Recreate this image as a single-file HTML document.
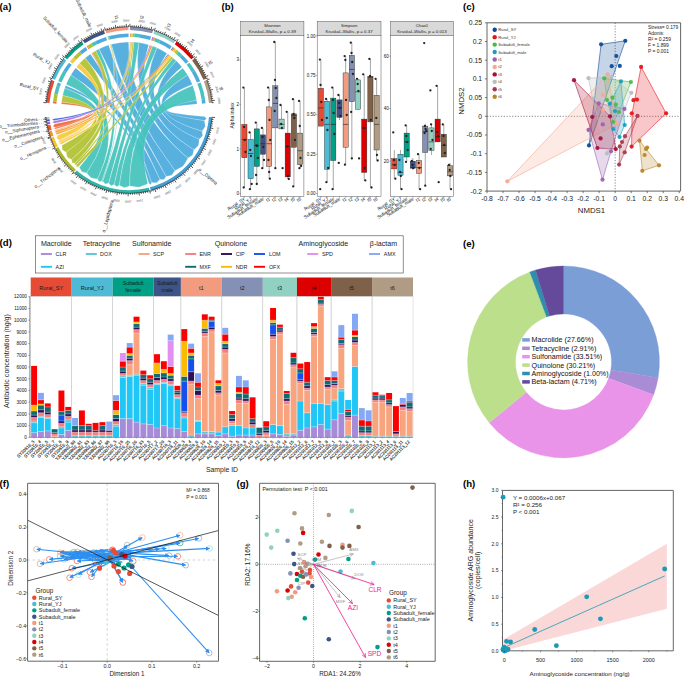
<!DOCTYPE html>
<html><head><meta charset="utf-8"><style>
html,body{margin:0;padding:0;background:#fff;}
svg{display:block;font-family:"Liberation Sans",sans-serif;}
</style></head><body>
<svg width="685" height="677" viewBox="0 0 685 677">
<rect width="685" height="677" fill="#fff"/>
<g id="pa">
<path d="M64.69 88.18A68.1 68.1 0 0 1 65.67 85.48Q129.2 110 151.68 182.5L151.5 182.95L151.33 183.4L151.15 183.85L150.97 184.29L150.79 184.74L150.4 184.46L150 184.18L149.62 183.89L149.23 183.6L148.84 183.31Q129.2 110 64.69 88.18Z" fill="#4EABDD" fill-opacity="0.94" stroke="#fff" stroke-opacity="0.75" stroke-width="0.3"/>
<path d="M70.8 74.97A68.1 68.1 0 0 1 75.68 67.89Q129.2 110 159.95 179.39L159.29 180.1L158.62 180.79L157.93 181.48L157.23 182.17L156.52 182.84L155.54 182.8L154.57 182.74L153.6 182.67L152.63 182.59L151.68 182.5Q129.2 110 70.8 74.97Z" fill="#4EABDD" fill-opacity="0.94" stroke="#fff" stroke-opacity="0.75" stroke-width="0.3"/>
<path d="M85.12 58.09A68.1 68.1 0 0 1 90.43 54.01Q129.2 110 166.1 176.33L165.68 176.99L165.25 177.65L164.81 178.32L164.36 178.97L163.91 179.63L163.11 179.6L162.31 179.56L161.52 179.51L160.73 179.46L159.95 179.39Q129.2 110 85.12 58.09Z" fill="#4EABDD" fill-opacity="0.94" stroke="#fff" stroke-opacity="0.75" stroke-width="0.3"/>
<path d="M99.03 48.95A68.1 68.1 0 0 1 108.61 45.09Q129.2 110 174.98 170.54L174.36 171.48L173.71 172.41L173.05 173.34L172.37 174.26L171.68 175.18L170.56 175.45L169.44 175.69L168.33 175.92L167.21 176.13L166.1 176.33Q129.2 110 99.03 48.95Z" fill="#4EABDD" fill-opacity="0.94" stroke="#fff" stroke-opacity="0.75" stroke-width="0.3"/>
<path d="M111.22 44.32A68.1 68.1 0 0 1 128.61 41.9Q129.2 110 187.97 158.03L187.1 159.66L186.18 161.28L185.22 162.89L184.21 164.47L183.17 166.04L181.56 167.03L179.94 167.97L178.3 168.87L176.65 169.73L174.98 170.54Q129.2 110 111.22 44.32Z" fill="#4EABDD" fill-opacity="0.94" stroke="#fff" stroke-opacity="0.75" stroke-width="0.3"/>
<path d="M138.95 42.6A68.1 68.1 0 0 1 148.66 44.74Q129.2 110 193.88 149.71L193.66 150.78L193.43 151.85L193.17 152.92L192.9 154L192.61 155.07L191.7 155.7L190.77 156.3L189.84 156.9L188.91 157.47L187.97 158.03Q129.2 110 138.95 42.6Z" fill="#4EABDD" fill-opacity="0.94" stroke="#fff" stroke-opacity="0.75" stroke-width="0.3"/>
<path d="M156.94 47.81A68.1 68.1 0 0 1 166.98 53.34Q129.2 110 199.25 139.23L199.13 140.46L199 141.7L198.84 142.95L198.66 144.19L198.46 145.44L197.57 146.33L196.66 147.21L195.74 148.06L194.82 148.89L193.88 149.71Q129.2 110 156.94 47.81Z" fill="#4EABDD" fill-opacity="0.94" stroke="#fff" stroke-opacity="0.75" stroke-width="0.3"/>
<path d="M176.26 60.78A68.1 68.1 0 0 1 181.97 66.96Q129.2 110 202.11 131.08L202.23 132.02L202.34 132.96L202.44 133.91L202.52 134.86L202.59 135.82L201.93 136.53L201.27 137.22L200.6 137.9L199.93 138.57L199.25 139.23Q129.2 110 176.26 60.78Z" fill="#4EABDD" fill-opacity="0.94" stroke="#fff" stroke-opacity="0.75" stroke-width="0.3"/>
<path d="M187.6 74.97A68.1 68.1 0 0 1 192.3 84.38Q129.2 110 204.37 120.52L204.59 121.65L204.79 122.78L204.97 123.92L205.14 125.08L205.29 126.23L204.68 127.23L204.06 128.21L203.42 129.18L202.77 130.14L202.11 131.08Q129.2 110 187.6 74.97Z" fill="#4EABDD" fill-opacity="0.94" stroke="#fff" stroke-opacity="0.75" stroke-width="0.3"/>
<path d="M196.6 100.26A68.1 68.1 0 0 1 197.04 104.06Q129.2 110 204.81 116.62L205.15 117.04L205.5 117.47L205.83 117.91L206.17 118.34L206.5 118.78L206.08 119.14L205.65 119.49L205.23 119.84L204.8 120.18L204.37 120.52Q129.2 110 196.6 100.26Z" fill="#4EABDD" fill-opacity="0.94" stroke="#fff" stroke-opacity="0.75" stroke-width="0.3"/>
<path d="M62.65 95.56A68.1 68.1 0 0 1 64.69 88.18Q129.2 110 86.7 172.88L85.72 172.67L84.74 172.45L83.77 172.22L82.79 171.97L81.81 171.7L81.3 170.82L80.8 169.94L80.32 169.06L79.86 168.17L79.41 167.28Q129.2 110 62.65 95.56Z" fill="#46C3BC" fill-opacity="0.94" stroke="#fff" stroke-opacity="0.75" stroke-width="0.3"/>
<path d="M66.1 84.38A68.1 68.1 0 0 1 70.8 74.97Q129.2 110 97.71 179.06L96.4 178.87L95.09 178.65L93.78 178.41L92.46 178.15L91.15 177.86L90.21 176.89L89.3 175.9L88.41 174.91L87.54 173.9L86.7 172.88Q129.2 110 66.1 84.38Z" fill="#46C3BC" fill-opacity="0.94" stroke="#fff" stroke-opacity="0.75" stroke-width="0.3"/>
<path d="M95.65 50.74A68.1 68.1 0 0 1 99.03 48.95Q129.2 110 101.95 180.84L101.39 181.03L100.82 181.21L100.24 181.39L99.66 181.56L99.08 181.73L98.8 181.2L98.52 180.67L98.25 180.13L97.98 179.6L97.71 179.06Q129.2 110 95.65 50.74Z" fill="#46C3BC" fill-opacity="0.94" stroke="#fff" stroke-opacity="0.75" stroke-width="0.3"/>
<path d="M110.48 44.52A68.1 68.1 0 0 1 111.22 44.32Q129.2 110 102.81 181.17L102.59 181.49L102.38 181.81L102.15 182.14L101.93 182.46L101.71 182.78L101.76 182.39L101.81 182L101.85 181.62L101.9 181.23L101.95 180.84Q129.2 110 110.48 44.52Z" fill="#46C3BC" fill-opacity="0.94" stroke="#fff" stroke-opacity="0.75" stroke-width="0.3"/>
<path d="M133.81 42.06A68.1 68.1 0 0 1 138.95 42.6Q129.2 110 108.72 183.08L108.01 183.28L107.31 183.47L106.6 183.65L105.88 183.82L105.16 183.99L104.67 183.43L104.2 182.87L103.73 182.3L103.27 181.74L102.81 181.17Q129.2 110 133.81 42.06Z" fill="#46C3BC" fill-opacity="0.94" stroke="#fff" stroke-opacity="0.75" stroke-width="0.3"/>
<path d="M152.51 46.01A68.1 68.1 0 0 1 156.94 47.81Q129.2 110 114.31 184.42L113.66 184.68L113.02 184.93L112.37 185.18L111.71 185.42L111.06 185.65L110.57 185.15L110.1 184.63L109.63 184.12L109.17 183.6L108.72 183.08Q129.2 110 152.51 46.01Z" fill="#46C3BC" fill-opacity="0.94" stroke="#fff" stroke-opacity="0.75" stroke-width="0.3"/>
<path d="M173.13 57.97A68.1 68.1 0 0 1 176.26 60.78Q129.2 110 119.3 185.25L118.74 185.56L118.18 185.86L117.62 186.16L117.05 186.46L116.48 186.75L116.04 186.29L115.6 185.83L115.16 185.36L114.73 184.89L114.31 184.42Q129.2 110 173.13 57.97Z" fill="#46C3BC" fill-opacity="0.94" stroke="#fff" stroke-opacity="0.75" stroke-width="0.3"/>
<path d="M182.72 67.89A68.1 68.1 0 0 1 187.6 74.97Q129.2 110 129.61 185.9L128.58 186.28L127.53 186.64L126.47 186.99L125.4 187.33L124.33 187.65L123.3 187.19L122.28 186.73L121.27 186.25L120.28 185.76L119.3 185.25Q129.2 110 182.72 67.89Z" fill="#46C3BC" fill-opacity="0.94" stroke="#fff" stroke-opacity="0.75" stroke-width="0.3"/>
<path d="M192.73 85.48A68.1 68.1 0 0 1 196.6 100.26Q129.2 110 147.82 183.58L146.11 184.38L144.38 185.14L142.62 185.86L140.84 186.54L139.03 187.18L137.12 187.01L135.22 186.8L133.33 186.55L131.47 186.25L129.61 185.9Q129.2 110 192.73 85.48Z" fill="#46C3BC" fill-opacity="0.94" stroke="#fff" stroke-opacity="0.75" stroke-width="0.3"/>
<path d="M61.55 102.16A68.1 68.1 0 0 1 62.65 95.56Q129.2 110 66.1 152.18L65.33 151.71L64.57 151.22L63.8 150.73L63.05 150.22L62.29 149.7L62.2 148.79L62.11 147.88L62.04 146.97L61.98 146.07L61.94 145.16Q129.2 110 61.55 102.16Z" fill="#B2C233" fill-opacity="0.94" stroke="#fff" stroke-opacity="0.75" stroke-width="0.3"/>
<path d="M79.58 63.36A68.1 68.1 0 0 1 85.12 58.09Q129.2 110 71.75 159.6L70.85 159.13L69.96 158.65L69.07 158.16L68.18 157.65L67.3 157.13L67.03 156.14L66.77 155.15L66.54 154.16L66.31 153.17L66.1 152.18Q129.2 110 79.58 63.36Z" fill="#B2C233" fill-opacity="0.94" stroke="#fff" stroke-opacity="0.75" stroke-width="0.3"/>
<path d="M92.05 52.92A68.1 68.1 0 0 1 95.65 50.74Q129.2 110 75.23 163.37L74.6 163.27L73.97 163.16L73.33 163.05L72.7 162.93L72.06 162.8L71.99 162.16L71.92 161.52L71.86 160.88L71.8 160.24L71.75 159.6Q129.2 110 92.05 52.92Z" fill="#B2C233" fill-opacity="0.94" stroke="#fff" stroke-opacity="0.75" stroke-width="0.3"/>
<path d="M132.28 41.97A68.1 68.1 0 0 1 133.81 42.06Q129.2 110 76.56 164.68L76.16 164.82L75.76 164.96L75.36 165.1L74.96 165.24L74.56 165.38L74.69 164.97L74.82 164.57L74.96 164.17L75.09 163.77L75.23 163.37Q129.2 110 132.28 41.97Z" fill="#B2C233" fill-opacity="0.94" stroke="#fff" stroke-opacity="0.75" stroke-width="0.3"/>
<path d="M171.35 56.51A68.1 68.1 0 0 1 173.13 57.97Q129.2 110 78.61 166.58L78.15 166.68L77.68 166.77L77.22 166.86L76.75 166.95L76.28 167.03L76.33 166.56L76.39 166.09L76.44 165.62L76.5 165.15L76.56 164.68Q129.2 110 171.35 56.51Z" fill="#B2C233" fill-opacity="0.94" stroke="#fff" stroke-opacity="0.75" stroke-width="0.3"/>
<path d="M76.43 66.96A68.1 68.1 0 0 1 79.58 63.36Q129.2 110 59.54 140.13L58.98 139.79L58.42 139.45L57.87 139.1L57.31 138.74L56.76 138.38L56.92 137.74L57.08 137.1L57.25 136.47L57.43 135.84L57.61 135.21Q129.2 110 76.43 66.96Z" fill="#F8CA3C" fill-opacity="0.94" stroke="#fff" stroke-opacity="0.75" stroke-width="0.3"/>
<path d="M109.74 44.74A68.1 68.1 0 0 1 110.48 44.52Q129.2 110 59.88 140.9L59.5 140.98L59.11 141.06L58.73 141.13L58.35 141.21L57.97 141.28L58.28 141.05L58.59 140.82L58.91 140.59L59.22 140.36L59.54 140.13Q129.2 110 109.74 44.74Z" fill="#F8CA3C" fill-opacity="0.94" stroke="#fff" stroke-opacity="0.75" stroke-width="0.3"/>
<path d="M130.75 41.92A68.1 68.1 0 0 1 132.28 41.97Q129.2 110 60.58 142.44L60.17 142.45L59.75 142.46L59.33 142.46L58.92 142.47L58.5 142.47L58.77 142.15L59.05 141.84L59.32 141.53L59.6 141.21L59.88 140.9Q129.2 110 130.75 41.92Z" fill="#F8CA3C" fill-opacity="0.94" stroke="#fff" stroke-opacity="0.75" stroke-width="0.3"/>
<path d="M169.83 55.35A68.1 68.1 0 0 1 171.35 56.51Q129.2 110 61.51 144.34L61.08 144.32L60.64 144.3L60.21 144.28L59.77 144.26L59.33 144.23L59.58 143.87L59.83 143.51L60.08 143.15L60.33 142.8L60.58 142.44Q129.2 110 169.83 55.35Z" fill="#F8CA3C" fill-opacity="0.94" stroke="#fff" stroke-opacity="0.75" stroke-width="0.3"/>
<path d="M129.79 41.9A68.1 68.1 0 0 1 130.75 41.92Q129.2 110 56.18 130.7L55.78 130.7L55.39 130.69L54.99 130.69L54.59 130.68L54.2 130.68L54.53 130.47L54.87 130.26L55.21 130.05L55.55 129.85L55.89 129.64Q129.2 110 129.79 41.9Z" fill="#F59E2E" fill-opacity="0.94" stroke="#fff" stroke-opacity="0.75" stroke-width="0.3"/>
<path d="M150.7 45.38A68.1 68.1 0 0 1 152.51 46.01Q129.2 110 56.8 132.8L56.38 132.7L55.95 132.6L55.52 132.5L55.09 132.4L54.66 132.29L54.96 131.97L55.26 131.65L55.57 131.33L55.87 131.01L56.18 130.7Q129.2 110 150.7 45.38Z" fill="#F59E2E" fill-opacity="0.94" stroke="#fff" stroke-opacity="0.75" stroke-width="0.3"/>
<path d="M168.59 54.45A68.1 68.1 0 0 1 169.83 55.35Q129.2 110 57.35 134.46L56.93 134.42L56.52 134.37L56.1 134.32L55.68 134.27L55.27 134.22L55.57 133.93L55.88 133.65L56.19 133.36L56.49 133.08L56.8 132.8Q129.2 110 168.59 54.45Z" fill="#F59E2E" fill-opacity="0.94" stroke="#fff" stroke-opacity="0.75" stroke-width="0.3"/>
<path d="M61.36 104.06A68.1 68.1 0 0 1 61.55 102.16Q129.2 110 55.34 127.48L54.89 127.21L54.44 126.95L53.99 126.67L53.54 126.4L53.09 126.12L53.38 125.68L53.68 125.25L53.99 124.81L54.29 124.39L54.6 123.96Q129.2 110 61.36 104.06Z" fill="#F0673A" fill-opacity="0.94" stroke="#fff" stroke-opacity="0.75" stroke-width="0.3"/>
<path d="M91.42 53.34A68.1 68.1 0 0 1 92.05 52.92Q129.2 110 55.68 128.88L55.28 128.83L54.88 128.78L54.47 128.73L54.07 128.68L53.66 128.63L54 128.4L54.33 128.17L54.67 127.94L55 127.71L55.34 127.48Q129.2 110 91.42 53.34Z" fill="#F0673A" fill-opacity="0.94" stroke="#fff" stroke-opacity="0.75" stroke-width="0.3"/>
<path d="M149.79 45.09A68.1 68.1 0 0 1 150.7 45.38Q129.2 110 54.45 123.18L54.04 123.04L53.63 122.89L53.22 122.74L52.81 122.59L52.4 122.44L52.74 122.16L53.08 121.89L53.43 121.62L53.77 121.35L54.11 121.09Q129.2 110 149.79 45.09Z" fill="#A46BE0" fill-opacity="0.94" stroke="#fff" stroke-opacity="0.75" stroke-width="0.3"/>
<path d="M167.97 54.01A68.1 68.1 0 0 1 168.59 54.45Q129.2 110 54.02 120.43L53.62 120.31L53.22 120.19L52.82 120.07L52.42 119.94L52.02 119.82L52.38 119.6L52.73 119.38L53.09 119.16L53.45 118.94L53.8 118.72Q129.2 110 167.97 54.01Z" fill="#3462D6" fill-opacity="0.94" stroke="#fff" stroke-opacity="0.75" stroke-width="0.3"/>
<path d="M52.89 103.32A76.6 76.6 0 0 1 53.11 101.18L56.59 101.59A73.1 73.1 0 0 0 56.38 103.63Z" fill="#F0673A"/>
<path d="M53.11 101.18A76.6 76.6 0 0 1 54.34 93.75L57.76 94.5A73.1 73.1 0 0 0 56.59 101.59Z" fill="#B2C233"/>
<path d="M54.34 93.75A76.6 76.6 0 0 1 56.64 85.46L59.95 86.58A73.1 73.1 0 0 0 57.76 94.5Z" fill="#46C3BC"/>
<path d="M56.64 85.46A76.6 76.6 0 0 1 57.74 82.42L61 83.68A73.1 73.1 0 0 0 59.95 86.58Z" fill="#4EABDD"/>
<path d="M58.23 81.18A76.6 76.6 0 0 1 63.51 70.6L66.51 72.4A73.1 73.1 0 0 0 61.47 82.5Z" fill="#46C3BC"/>
<path d="M63.51 70.6A76.6 76.6 0 0 1 69 62.63L71.75 64.79A73.1 73.1 0 0 0 66.51 72.4Z" fill="#4EABDD"/>
<path d="M69.84 61.59A76.6 76.6 0 0 1 73.38 57.54L75.93 59.94A73.1 73.1 0 0 0 72.55 63.8Z" fill="#F8CA3C"/>
<path d="M73.38 57.54A76.6 76.6 0 0 1 79.62 51.61L81.89 54.28A73.1 73.1 0 0 0 75.93 59.94Z" fill="#B2C233"/>
<path d="M79.62 51.61A76.6 76.6 0 0 1 85.59 47.02L87.59 49.9A73.1 73.1 0 0 0 81.89 54.28Z" fill="#4EABDD"/>
<path d="M86.7 46.27A76.6 76.6 0 0 1 87.42 45.8L89.33 48.73A73.1 73.1 0 0 0 88.64 49.18Z" fill="#F0673A"/>
<path d="M87.42 45.8A76.6 76.6 0 0 1 91.46 43.34L93.19 46.39A73.1 73.1 0 0 0 89.33 48.73Z" fill="#B2C233"/>
<path d="M91.46 43.34A76.6 76.6 0 0 1 95.27 41.33L96.82 44.46A73.1 73.1 0 0 0 93.19 46.39Z" fill="#46C3BC"/>
<path d="M95.27 41.33A76.6 76.6 0 0 1 106.04 36.99L107.1 40.32A73.1 73.1 0 0 0 96.82 44.46Z" fill="#4EABDD"/>
<path d="M107.32 36.59A76.6 76.6 0 0 1 108.14 36.35L109.1 39.72A73.1 73.1 0 0 0 108.32 39.95Z" fill="#F8CA3C"/>
<path d="M108.14 36.35A76.6 76.6 0 0 1 108.97 36.12L109.9 39.49A73.1 73.1 0 0 0 109.1 39.72Z" fill="#46C3BC"/>
<path d="M108.97 36.12A76.6 76.6 0 0 1 128.53 33.4L128.56 36.9A73.1 73.1 0 0 0 109.9 39.49Z" fill="#4EABDD"/>
<path d="M129.87 33.4A76.6 76.6 0 0 1 130.94 33.42L130.86 36.92A73.1 73.1 0 0 0 129.84 36.9Z" fill="#F59E2E"/>
<path d="M130.94 33.42A76.6 76.6 0 0 1 132.67 33.48L132.51 36.97A73.1 73.1 0 0 0 130.86 36.92Z" fill="#F8CA3C"/>
<path d="M132.67 33.48A76.6 76.6 0 0 1 134.38 33.58L134.15 37.07A73.1 73.1 0 0 0 132.51 36.97Z" fill="#B2C233"/>
<path d="M134.38 33.58A76.6 76.6 0 0 1 140.16 34.19L139.66 37.65A73.1 73.1 0 0 0 134.15 37.07Z" fill="#46C3BC"/>
<path d="M140.16 34.19A76.6 76.6 0 0 1 151.08 36.59L150.08 39.95A73.1 73.1 0 0 0 139.66 37.65Z" fill="#4EABDD"/>
<path d="M152.36 36.99A76.6 76.6 0 0 1 153.39 37.32L152.28 40.64A73.1 73.1 0 0 0 151.3 40.32Z" fill="#A46BE0"/>
<path d="M153.39 37.32A76.6 76.6 0 0 1 155.42 38.03L154.22 41.32A73.1 73.1 0 0 0 152.28 40.64Z" fill="#F59E2E"/>
<path d="M155.42 38.03A76.6 76.6 0 0 1 160.4 40.04L158.98 43.24A73.1 73.1 0 0 0 154.22 41.32Z" fill="#46C3BC"/>
<path d="M160.4 40.04A76.6 76.6 0 0 1 171.7 46.27L169.76 49.18A73.1 73.1 0 0 0 158.98 43.24Z" fill="#4EABDD"/>
<path d="M172.81 47.02A76.6 76.6 0 0 1 173.51 47.52L171.49 50.37A73.1 73.1 0 0 0 170.81 49.9Z" fill="#3462D6"/>
<path d="M173.51 47.52A76.6 76.6 0 0 1 174.91 48.53L172.82 51.34A73.1 73.1 0 0 0 171.49 50.37Z" fill="#F59E2E"/>
<path d="M174.91 48.53A76.6 76.6 0 0 1 176.61 49.84L174.45 52.59A73.1 73.1 0 0 0 172.82 51.34Z" fill="#F8CA3C"/>
<path d="M176.61 49.84A76.6 76.6 0 0 1 178.62 51.47L176.36 54.15A73.1 73.1 0 0 0 174.45 52.59Z" fill="#B2C233"/>
<path d="M178.62 51.47A76.6 76.6 0 0 1 182.14 54.64L179.72 57.17A73.1 73.1 0 0 0 176.36 54.15Z" fill="#46C3BC"/>
<path d="M182.14 54.64A76.6 76.6 0 0 1 188.56 61.59L185.85 63.8A73.1 73.1 0 0 0 179.72 57.17Z" fill="#4EABDD"/>
<path d="M189.4 62.63A76.6 76.6 0 0 1 194.89 70.6L191.89 72.4A73.1 73.1 0 0 0 186.65 64.79Z" fill="#46C3BC"/>
<path d="M194.89 70.6A76.6 76.6 0 0 1 200.17 81.18L196.93 82.5A73.1 73.1 0 0 0 191.89 72.4Z" fill="#4EABDD"/>
<path d="M200.66 82.42A76.6 76.6 0 0 1 205.01 99.05L201.55 99.55A73.1 73.1 0 0 0 197.4 83.68Z" fill="#46C3BC"/>
<path d="M205.01 99.05A76.6 76.6 0 0 1 205.51 103.32L202.02 103.63A73.1 73.1 0 0 0 201.55 99.55Z" fill="#4EABDD"/>
<path d="M46.32 102.75A83.2 83.2 0 0 1 51.58 80.05L54.47 81.16A80.1 80.1 0 0 0 49.4 103.02Z" fill="#E64B35"/>
<path d="M52.11 78.7A83.2 83.2 0 0 1 63.82 58.55L66.25 60.47A80.1 80.1 0 0 0 54.99 79.86Z" fill="#4DBBD5"/>
<path d="M64.72 57.42A83.2 83.2 0 0 1 81.84 41.6L83.6 44.15A80.1 80.1 0 0 0 67.13 59.37Z" fill="#00A087"/>
<path d="M83.04 40.78A83.2 83.2 0 0 1 104.04 30.69L104.98 33.65A80.1 80.1 0 0 0 84.76 43.36Z" fill="#3C5488"/>
<path d="M105.43 30.27A83.2 83.2 0 0 1 128.47 26.8L128.5 29.9A80.1 80.1 0 0 0 106.32 33.24Z" fill="#F39B7F"/>
<path d="M129.93 26.8A83.2 83.2 0 0 1 152.97 30.27L152.08 33.24A80.1 80.1 0 0 0 129.9 29.9Z" fill="#8491B4"/>
<path d="M154.36 30.69A83.2 83.2 0 0 1 175.36 40.78L173.64 43.36A80.1 80.1 0 0 0 153.42 33.65Z" fill="#91D1C2"/>
<path d="M176.56 41.6A83.2 83.2 0 0 1 193.68 57.42L191.27 59.37A80.1 80.1 0 0 0 174.8 44.15Z" fill="#DC0000"/>
<path d="M194.58 58.55A83.2 83.2 0 0 1 206.29 78.7L203.41 79.86A80.1 80.1 0 0 0 192.15 60.47Z" fill="#7E6148"/>
<path d="M206.82 80.05A83.2 83.2 0 0 1 212.08 102.75L209 103.02A80.1 80.1 0 0 0 203.93 81.16Z" fill="#B09C85"/>
<path d="M212.08 117.25A83.2 83.2 0 0 1 150.73 190.37L149.93 187.37A80.1 80.1 0 0 0 209 116.98Z" fill="#3F9FD6"/>
<path d="M149.61 190.66A83.2 83.2 0 0 1 74.62 172.79L76.65 170.45A80.1 80.1 0 0 0 148.85 187.65Z" fill="#2FB5A7"/>
<path d="M73.74 172.02A83.2 83.2 0 0 1 55.47 148.55L58.22 147.11A80.1 80.1 0 0 0 75.81 169.71Z" fill="#AAB92A"/>
<path d="M55 147.64A83.2 83.2 0 0 1 50.72 137.64L53.65 136.61A80.1 80.1 0 0 0 57.77 146.24Z" fill="#F6C234"/>
<path d="M50.44 136.81A83.2 83.2 0 0 1 48.83 131.53L51.83 130.73A80.1 80.1 0 0 0 53.37 135.81Z" fill="#F39324"/>
<path d="M48.61 130.69A83.2 83.2 0 0 1 47.42 125.3L50.47 124.73A80.1 80.1 0 0 0 51.62 129.92Z" fill="#EE5A2C"/>
<path d="M47.26 124.45A83.2 83.2 0 0 1 46.89 122.15L49.96 121.7A80.1 80.1 0 0 0 50.32 123.91Z" fill="#9A5EDC"/>
<path d="M46.79 121.44A83.2 83.2 0 0 1 46.55 119.56L49.63 119.21A80.1 80.1 0 0 0 49.86 121.01Z" fill="#2B55D0"/>
<path d="M46.47 118.84A83.2 83.2 0 0 1 46.34 117.54L49.43 117.26A80.1 80.1 0 0 0 49.55 118.51Z" fill="#9A9A9A"/>
<path d="M46.32 102.75L43.33 102.49M46.53 100.63L44.94 100.45M46.8 98.53L45.21 98.3M47.12 96.42L45.54 96.16M47.49 94.33L45.92 94.03M47.92 92.25L44.98 91.61M48.4 90.18L46.84 89.8M48.93 88.12L47.38 87.7M49.51 86.08L47.98 85.62M50.15 84.05L48.63 83.55M50.84 82.04L48.01 81.03M51.58 80.05L50.09 79.47M52.11 78.7L49.33 77.57M52.94 76.74L51.47 76.1M53.81 74.8L52.36 74.13M54.74 72.89L53.3 72.17M55.71 71L54.29 70.25M56.73 69.13L54.11 67.66M57.8 67.3L56.42 66.47M58.91 65.49L57.56 64.63M60.07 63.71L58.74 62.81M61.27 61.95L59.97 61.03M62.52 60.24L60.12 58.44M63.82 58.55L62.56 57.56M64.72 57.42L62.4 55.52M66.09 55.79L64.88 54.74M67.49 54.19L66.31 53.12M68.94 52.63L67.78 51.53M70.42 51.11L69.29 49.98M71.95 49.63L69.88 47.45M73.51 48.19L72.44 47M75.11 46.79L74.07 45.57M76.74 45.42L75.73 44.18M78.4 44.11L77.43 42.84M80.1 42.83L78.33 40.41M81.84 41.6L80.93 40.28M83.04 40.78L81.37 38.29M84.82 39.62L83.97 38.27M86.63 38.51L85.81 37.14M88.47 37.45L87.69 36.06M90.34 36.43L89.59 35.02M92.23 35.47L90.9 32.78M94.15 34.55L93.47 33.09M96.08 33.67L95.45 32.21M98.04 32.85L97.45 31.37M100.03 32.08L99.46 30.58M102.03 31.36L101.05 28.53M104.04 30.69L103.56 29.17M105.43 30.27L104.57 27.39M107.48 29.69L107.06 28.14M109.53 29.16L109.16 27.6M111.6 28.68L111.27 27.12M113.69 28.26L113.39 26.69M115.78 27.89L115.3 24.93M117.88 27.57L117.66 25.99M119.99 27.31L119.81 25.72M122.11 27.1L121.97 25.51M124.23 26.95L124.13 25.35M126.35 26.85L126.25 23.85M128.47 26.8L128.46 25.2M129.93 26.8L129.95 23.8M132.05 26.85L132.11 25.25M134.17 26.95L134.27 25.35M136.29 27.1L136.43 25.51M138.41 27.31L138.59 25.72M140.52 27.57L140.93 24.6M142.62 27.89L142.88 26.31M144.71 28.26L145.01 26.69M146.8 28.68L147.13 27.12M148.87 29.16L149.24 27.6M150.92 29.69L151.71 26.79M152.97 30.27L153.43 28.73M154.36 30.69L155.26 27.83M156.37 31.36L156.9 29.85M158.37 32.08L158.94 30.58M160.36 32.85L160.95 31.37M162.32 33.67L162.95 32.21M164.25 34.55L165.52 31.82M166.17 35.47L166.88 34.03M168.06 36.43L168.81 35.02M169.93 37.45L170.71 36.06M171.77 38.51L172.59 37.14M173.58 39.62L175.18 37.09M175.36 40.78L176.25 39.45M176.56 41.6L178.27 39.13M178.3 42.83L179.24 41.54M180 44.11L180.97 42.84M181.66 45.42L182.67 44.18M183.29 46.79L184.33 45.57M184.89 48.19L186.9 45.96M186.45 49.63L187.55 48.47M187.98 51.11L189.11 49.98M189.46 52.63L190.62 51.53M190.91 54.19L192.09 53.12M192.31 55.79L194.59 53.83M193.68 57.42L194.92 56.4M194.58 58.55L196.94 56.69M195.88 60.24L197.16 59.28M197.13 61.95L198.43 61.03M198.33 63.71L199.66 62.81M199.49 65.49L200.84 64.63M200.6 67.3L203.18 65.76M201.67 69.13L203.07 68.35M202.69 71L204.11 70.25M203.66 72.89L205.1 72.17M204.59 74.8L206.04 74.13M205.46 76.74L208.21 75.54M206.29 78.7L207.77 78.1M206.82 80.05L209.62 78.97M207.56 82.04L209.07 81.5M208.25 84.05L209.77 83.55M208.89 86.08L210.42 85.62M209.47 88.12L211.02 87.7M210 90.18L212.92 89.46M210.48 92.25L212.05 91.91M210.91 94.33L212.48 94.03M211.28 96.42L212.86 96.16M211.6 98.53L213.19 98.3M211.87 100.63L214.85 100.3M212.08 102.75L213.68 102.61M212.08 117.25L215.07 117.51M211.87 119.4L213.46 119.58M211.59 121.55L213.18 121.77M211.27 123.69L212.84 123.95M210.88 125.81L212.45 126.12M210.44 127.93L213.37 128.58M209.95 130.04L211.5 130.42M209.4 132.13L210.95 132.56M208.8 134.21L210.33 134.67M208.14 136.27L209.66 136.77M207.44 138.31L210.26 139.33M206.67 140.33L208.16 140.92M205.86 142.34L207.33 142.96M204.99 144.32L206.45 144.98M204.07 146.28L205.51 146.98M203.11 148.21L205.77 149.59M202.09 150.12L203.49 150.89M201.02 152L202.4 152.81M199.9 153.85L201.26 154.7M198.74 155.68L200.08 156.55M197.53 157.47L199.99 159.18M196.27 159.23L197.56 160.17M194.97 160.95L196.24 161.93M193.62 162.65L194.86 163.66M192.23 164.3L193.45 165.35M190.8 165.92L193.02 167.94M189.33 167.51L190.48 168.61M187.81 169.05L188.94 170.18M186.26 170.55L187.36 171.72M184.66 172.02L185.73 173.21M183.03 173.44L184.98 175.72M181.37 174.81L182.37 176.06M179.66 176.15L180.64 177.42M177.93 177.44L178.87 178.73M176.16 178.68L177.06 180M174.36 179.88L175.99 182.4M172.53 181.03L173.36 182.39M170.67 182.13L171.46 183.52M168.78 183.18L169.54 184.59M166.86 184.19L167.59 185.61M164.92 185.14L166.21 187.85M162.96 186.04L163.6 187.51M160.97 186.9L161.58 188.38M158.96 187.7L159.53 189.19M156.93 188.44L157.46 189.95M154.88 189.14L155.81 191.99M152.82 189.78L153.27 191.31M150.73 190.37L151.15 191.91M149.61 190.66L150.35 193.57M147.5 191.16L147.85 192.72M145.38 191.61L145.69 193.18M143.25 192L143.52 193.58M141.11 192.34L141.34 193.93M138.97 192.62L139.32 195.6M136.81 192.85L136.96 194.44M134.65 193.02L134.76 194.62M132.49 193.14L132.55 194.73M130.32 193.19L130.34 194.79M128.16 193.19L128.12 196.19M125.99 193.14L125.93 194.74M123.83 193.03L123.72 194.62M121.67 192.86L121.52 194.45M119.51 192.63L119.33 194.22M117.36 192.35L116.94 195.32M115.22 192.02L114.96 193.6M113.09 191.63L112.78 193.2M110.97 191.18L110.62 192.74M108.87 190.68L108.48 192.23M106.77 190.12L105.96 193.01M104.69 189.51L104.22 191.04M102.63 188.84L102.12 190.36M100.59 188.13L100.04 189.63M98.56 187.35L97.98 188.84M96.56 186.53L95.38 189.29M94.58 185.65L93.91 187.11M92.62 184.73L91.92 186.17M90.69 183.75L89.95 185.17M88.78 182.72L88 184.12M86.9 181.65L85.38 184.23M85.05 180.52L84.2 181.88M83.23 179.35L82.35 180.68M81.44 178.13L80.52 179.44M79.68 176.86L78.73 178.15M77.96 175.55L76.11 177.91M76.27 174.19L75.25 175.43M74.62 172.79L73.57 174M73.74 172.02L71.74 174.26M72.17 170.58L71.07 171.74M70.63 169.09L69.51 170.23M69.14 167.57L67.98 168.68M67.68 166.01L66.49 167.09M66.26 164.41L63.99 166.37M64.88 162.78L63.65 163.79M63.55 161.11L62.29 162.09M62.26 159.41L60.97 160.36M61.01 157.67L59.7 158.59M59.81 155.9L57.31 157.56M58.65 154.11L57.3 154.96M57.54 152.28L56.17 153.09M56.48 150.43L55.08 151.2M55.47 148.55L54.05 149.29M55 147.64L52.33 149M54.04 145.69L52.6 146.37M53.13 143.71L51.67 144.36M52.28 141.71L50.8 142.31M51.47 139.68L49.98 140.25M50.72 137.64L47.89 138.63M50.44 136.81L47.6 137.78M49.87 135.06L48.34 135.55M49.33 133.31L47.79 133.75M48.83 131.53L47.29 131.95M48.61 130.69L45.71 131.44M48.18 128.9L46.62 129.27M47.78 127.11L46.21 127.44M47.42 125.3L45.85 125.6M47.26 124.45L44.31 124.97M46.89 122.15L45.31 122.39M46.79 121.44L43.82 121.85M46.55 119.56L44.96 119.75M46.47 118.84L43.49 119.16M46.34 117.54L44.75 117.69" stroke="#111" stroke-width="0.7" fill="none"/>
<path d="M46.17 102.74A83.35 83.35 0 0 1 51.44 79.99M51.97 78.64A83.35 83.35 0 0 1 63.7 58.46M64.61 57.32A83.35 83.35 0 0 1 81.75 41.47M82.95 40.66A83.35 83.35 0 0 1 104 30.55M105.39 30.12A83.35 83.35 0 0 1 128.47 26.65M129.93 26.65A83.35 83.35 0 0 1 153.01 30.12M154.4 30.55A83.35 83.35 0 0 1 175.45 40.66M176.65 41.47A83.35 83.35 0 0 1 193.79 57.32M194.7 58.46A83.35 83.35 0 0 1 206.43 78.64M206.96 79.99A83.35 83.35 0 0 1 212.23 102.74M212.23 117.26A83.35 83.35 0 0 1 150.77 190.51M149.65 190.8A83.35 83.35 0 0 1 74.52 172.91M73.64 172.14A83.35 83.35 0 0 1 55.33 148.62M54.87 147.71A83.35 83.35 0 0 1 50.58 137.69M50.3 136.86A83.35 83.35 0 0 1 48.69 131.57M48.47 130.73A83.35 83.35 0 0 1 47.27 125.33M47.12 124.47A83.35 83.35 0 0 1 46.74 122.18M46.64 121.46A83.35 83.35 0 0 1 46.4 119.58M46.32 118.86A83.35 83.35 0 0 1 46.19 117.55" stroke="#111" stroke-width="0.6" fill="none"/>
<text x="41.76" y="91.81" font-size="2.9" text-anchor="middle" fill="#444" transform="rotate(282.32 41.76 91.81)">2000</text>
<text x="44.9" y="80.82" font-size="2.9" text-anchor="middle" fill="#444" transform="rotate(289.64 44.9 80.82)">2000</text>
<text x="51.24" y="66.94" font-size="2.9" text-anchor="middle" fill="#444" transform="rotate(299.42 51.24 66.94)">2000</text>
<text x="57.48" y="57.37" font-size="2.9" text-anchor="middle" fill="#444" transform="rotate(306.74 57.48 57.37)">2000</text>
<text x="67.61" y="45.96" font-size="2.9" text-anchor="middle" fill="#444" transform="rotate(316.52 67.61 45.96)">2000</text>
<text x="76.39" y="38.64" font-size="2.9" text-anchor="middle" fill="#444" transform="rotate(323.84 76.39 38.64)">2000</text>
<text x="89.43" y="30.72" font-size="2.9" text-anchor="middle" fill="#444" transform="rotate(333.62 89.43 30.72)">2000</text>
<text x="99.97" y="26.31" font-size="2.9" text-anchor="middle" fill="#444" transform="rotate(340.94 99.97 26.31)">2000</text>
<text x="114.76" y="22.57" font-size="2.9" text-anchor="middle" fill="#444" transform="rotate(350.72 114.76 22.57)">2000</text>
<text x="126.13" y="21.45" font-size="2.9" text-anchor="middle" fill="#444" transform="rotate(358.04 126.13 21.45)">2000</text>
<text x="141.37" y="22.23" font-size="2.9" text-anchor="middle" fill="#444" transform="rotate(367.82 141.37 22.23)">2000</text>
<text x="152.57" y="24.51" font-size="2.9" text-anchor="middle" fill="#444" transform="rotate(375.14 152.57 24.51)">2000</text>
<text x="166.91" y="29.73" font-size="2.9" text-anchor="middle" fill="#444" transform="rotate(384.92 166.91 29.73)">2000</text>
<text x="176.94" y="35.2" font-size="2.9" text-anchor="middle" fill="#444" transform="rotate(392.24 176.94 35.2)">2000</text>
<text x="189.11" y="44.41" font-size="2.9" text-anchor="middle" fill="#444" transform="rotate(402.02 189.11 44.41)">2000</text>
<text x="197.09" y="52.58" font-size="2.9" text-anchor="middle" fill="#444" transform="rotate(409.34 197.09 52.58)">2000</text>
<text x="206.01" y="64.96" font-size="2.9" text-anchor="middle" fill="#444" transform="rotate(419.12 206.01 64.96)">2000</text>
<text x="211.24" y="75.12" font-size="2.9" text-anchor="middle" fill="#444" transform="rotate(426.44 211.24 75.12)">2000</text>
<text x="216.12" y="89.58" font-size="2.9" text-anchor="middle" fill="#444" transform="rotate(436.22 216.12 89.58)">2000</text>
<text x="218.13" y="100.82" font-size="2.9" text-anchor="middle" fill="#444" transform="rotate(443.54 218.13 100.82)">2000</text>
<text x="216.6" y="130.19" font-size="2.9" text-anchor="middle" fill="#444" transform="rotate(102.45 216.6 130.19)">2000</text>
<text x="213.36" y="141.35" font-size="2.9" text-anchor="middle" fill="#444" transform="rotate(109.89 213.36 141.35)">2000</text>
<text x="208.7" y="152.01" font-size="2.9" text-anchor="middle" fill="#444" transform="rotate(117.34 208.7 152.01)">2000</text>
<text x="202.7" y="161.96" font-size="2.9" text-anchor="middle" fill="#444" transform="rotate(124.79 202.7 161.96)">2000</text>
<text x="195.47" y="171.06" font-size="2.9" text-anchor="middle" fill="#444" transform="rotate(132.23 195.47 171.06)">2000</text>
<text x="187.11" y="179.14" font-size="2.9" text-anchor="middle" fill="#444" transform="rotate(139.68 187.11 179.14)">2000</text>
<text x="177.78" y="186.07" font-size="2.9" text-anchor="middle" fill="#444" transform="rotate(147.13 177.78 186.07)">2000</text>
<text x="167.63" y="191.73" font-size="2.9" text-anchor="middle" fill="#444" transform="rotate(154.57 167.63 191.73)">2000</text>
<text x="156.83" y="196.03" font-size="2.9" text-anchor="middle" fill="#444" transform="rotate(162.02 156.83 196.03)">2000</text>
<text x="139.7" y="199.78" font-size="2.9" text-anchor="middle" fill="#444" transform="rotate(173.26 139.7 199.78)">2000</text>
<text x="128.08" y="200.39" font-size="2.9" text-anchor="middle" fill="#444" transform="rotate(180.72 128.08 200.39)">2000</text>
<text x="116.47" y="199.49" font-size="2.9" text-anchor="middle" fill="#444" transform="rotate(188.18 116.47 199.49)">2000</text>
<text x="105.07" y="197.09" font-size="2.9" text-anchor="middle" fill="#444" transform="rotate(195.64 105.07 197.09)">2000</text>
<text x="94.09" y="193.23" font-size="2.9" text-anchor="middle" fill="#444" transform="rotate(203.1 94.09 193.23)">2000</text>
<text x="83.7" y="187.97" font-size="2.9" text-anchor="middle" fill="#444" transform="rotate(210.56 83.7 187.97)">2000</text>
<text x="74.08" y="181.41" font-size="2.9" text-anchor="middle" fill="#444" transform="rotate(218.02 74.08 181.41)">2000</text>
<text x="61.49" y="169.43" font-size="2.9" text-anchor="middle" fill="#444" transform="rotate(229.16 61.49 169.43)">2000</text>
<text x="54.55" y="160.28" font-size="2.9" text-anchor="middle" fill="#444" transform="rotate(236.51 54.55 160.28)">2000</text>
<text x="44.78" y="140.63" font-size="2.9" text-anchor="middle" fill="#444" transform="rotate(250.6 44.78 140.63)">2000</text>
<text x="38.6" y="90.5" font-size="4.6" text-anchor="end" fill="#222" transform="rotate(13.05 38.6 90.5)">Rural_SY</text>
<text x="48.78" y="64.79" font-size="4.6" text-anchor="end" fill="#222" transform="rotate(30.15 48.78 64.79)">Rural_YJ</text>
<text x="66.07" y="43.21" font-size="4.6" text-anchor="end" fill="#222" transform="rotate(47.25 66.07 43.21)">Subadult_female</text>
<text x="88.94" y="27.66" font-size="4.6" text-anchor="end" fill="#222" transform="rotate(64.35 88.94 27.66)">Subadult_male</text>
<text x="115.37" y="19.53" font-size="4.6" text-anchor="end" fill="#222" transform="rotate(81.45 115.37 19.53)">t1</text>
<text x="143.03" y="19.53" font-size="4.6" fill="#222" transform="rotate(278.55 143.03 19.53)">t2</text>
<text x="169.46" y="27.66" font-size="4.6" fill="#222" transform="rotate(295.65 169.46 27.66)">t3</text>
<text x="192.33" y="43.21" font-size="4.6" fill="#222" transform="rotate(312.75 192.33 43.21)">t4</text>
<text x="209.62" y="64.79" font-size="4.6" fill="#222" transform="rotate(329.85 209.62 64.79)">t5</text>
<text x="219.8" y="90.5" font-size="4.6" fill="#222" transform="rotate(346.95 219.8 90.5)">t6</text>
<text x="198.36" y="170.12" font-size="4.7" fill="#222" transform="rotate(40.5 198.36 170.12)">o__Diptera</text>
<text x="113.58" y="200.62" font-size="4.8" text-anchor="end" fill="#222" transform="rotate(-75 113.58 200.62)">o__Lepidoptera</text>
<text x="60.29" y="168.85" font-size="4.7" text-anchor="end" fill="#222" transform="rotate(-38.5 60.29 168.85)">o__Trichoptera</text>
<text x="37.7" y="121" font-size="4.5" text-anchor="end" fill="#222" transform="rotate(-3 37.7 121)">Others</text>
<line x1="38.9" y1="119.7" x2="44" y2="119.7" stroke="#777" stroke-width="0.35" stroke-dasharray="1,1"/>
<text x="37.9" y="124.6" font-size="4.5" text-anchor="end" fill="#222" transform="rotate(-5 37.9 124.6)">o__Trombidiformes</text>
<line x1="39.1" y1="123.3" x2="44.5" y2="123.3" stroke="#777" stroke-width="0.35" stroke-dasharray="1,1"/>
<text x="39.2" y="128.2" font-size="4.5" text-anchor="end" fill="#222" transform="rotate(-9 39.2 128.2)">o__Siphonaptera</text>
<line x1="40.4" y1="126.9" x2="45" y2="126.9" stroke="#777" stroke-width="0.35" stroke-dasharray="1,1"/>
<text x="40" y="132.6" font-size="4.5" text-anchor="end" fill="#222" transform="rotate(-13.5 40 132.6)">o__Ephemeroptera</text>
<line x1="41.2" y1="131.3" x2="45.8" y2="131.3" stroke="#777" stroke-width="0.35" stroke-dasharray="1,1"/>
<text x="42.9" y="138.5" font-size="4.5" text-anchor="end" fill="#222" transform="rotate(-18.4 42.9 138.5)">o__Coleoptera</text>
<line x1="44.1" y1="137.2" x2="47.5" y2="137.2" stroke="#777" stroke-width="0.35" stroke-dasharray="1,1"/>
<text x="46.6" y="148.8" font-size="4.5" text-anchor="end" fill="#222" transform="rotate(-24 46.6 148.8)">o__Hemiptera</text>
<line x1="47.8" y1="147.5" x2="50.5" y2="147.5" stroke="#777" stroke-width="0.35" stroke-dasharray="1,1"/>
</g>
<g id="pb">
<rect x="240.7" y="21.5" width="63.2" height="13.9" fill="#D9D9D9" stroke="#555" stroke-width="0.5"/>
<rect x="240.7" y="35.4" width="63.2" height="161.1" fill="#fff" stroke="#555" stroke-width="0.5"/>
<text x="272.3" y="26.9" font-size="4.2" text-anchor="middle" fill="#1a1a1a">Shannon</text>
<text x="272.3" y="33.1" font-size="4.4" text-anchor="middle" fill="#1a1a1a">Kruskal–Wallis, p = 0.39</text>
<line x1="239.4" y1="193.5" x2="240.7" y2="193.5" stroke="#333" stroke-width="0.4"/>
<text x="238.9" y="195.1" font-size="4.5" text-anchor="end" fill="#111">0</text>
<line x1="239.4" y1="148.9" x2="240.7" y2="148.9" stroke="#333" stroke-width="0.4"/>
<text x="238.9" y="150.5" font-size="4.5" text-anchor="end" fill="#111">1</text>
<line x1="239.4" y1="104.3" x2="240.7" y2="104.3" stroke="#333" stroke-width="0.4"/>
<text x="238.9" y="105.9" font-size="4.5" text-anchor="end" fill="#111">2</text>
<line x1="239.4" y1="59.8" x2="240.7" y2="59.8" stroke="#333" stroke-width="0.4"/>
<text x="238.9" y="61.4" font-size="4.5" text-anchor="end" fill="#111">3</text>
<line x1="244.4" y1="87.6" x2="244.4" y2="187.5" stroke="#222" stroke-width="0.4"/>
<rect x="241.8" y="124.4" width="5.2" height="33.3" fill="#E64B35" stroke="#222" stroke-width="0.4"/>
<line x1="241.8" y1="139.5" x2="247" y2="139.5" stroke="#222" stroke-width="0.6"/>
<circle cx="243.35" cy="87.6" r="1.15" fill="#222"/>
<circle cx="244.05" cy="127" r="1.15" fill="#222"/>
<circle cx="244.75" cy="140" r="1.15" fill="#222"/>
<circle cx="245.45" cy="152" r="1.15" fill="#222"/>
<circle cx="243.7" cy="187.5" r="1.15" fill="#222"/>
<line x1="244.4" y1="196.5" x2="244.4" y2="197.7" stroke="#333" stroke-width="0.4"/>
<text x="245.7" y="199.8" font-size="4.7" text-anchor="end" fill="#111" transform="rotate(-33 245.7 199.8)">Rural_SY</text>
<line x1="250.59" y1="132.4" x2="250.59" y2="189.2" stroke="#222" stroke-width="0.4"/>
<rect x="247.99" y="139.5" width="5.2" height="39.2" fill="#4DBBD5" stroke="#222" stroke-width="0.4"/>
<line x1="247.99" y1="153.5" x2="253.19" y2="153.5" stroke="#222" stroke-width="0.6"/>
<circle cx="249.54" cy="132.4" r="1.15" fill="#222"/>
<circle cx="250.24" cy="150" r="1.15" fill="#222"/>
<circle cx="250.94" cy="156" r="1.15" fill="#222"/>
<circle cx="251.64" cy="184" r="1.15" fill="#222"/>
<circle cx="249.89" cy="189.2" r="1.15" fill="#222"/>
<line x1="250.59" y1="196.5" x2="250.59" y2="197.7" stroke="#333" stroke-width="0.4"/>
<text x="251.89" y="199.8" font-size="4.7" text-anchor="end" fill="#111" transform="rotate(-33 251.89 199.8)">Rural_YJ</text>
<line x1="256.78" y1="122.6" x2="256.78" y2="184" stroke="#222" stroke-width="0.4"/>
<rect x="254.18" y="128.9" width="5.2" height="37.5" fill="#00A087" stroke="#222" stroke-width="0.4"/>
<line x1="254.18" y1="145.4" x2="259.38" y2="145.4" stroke="#222" stroke-width="0.6"/>
<circle cx="255.73" cy="122.6" r="1.15" fill="#222"/>
<circle cx="256.43" cy="145.5" r="1.15" fill="#222"/>
<circle cx="257.13" cy="146" r="1.15" fill="#222"/>
<circle cx="257.83" cy="158" r="1.15" fill="#222"/>
<circle cx="256.08" cy="175" r="1.15" fill="#222"/>
<circle cx="256.78" cy="184" r="1.15" fill="#222"/>
<line x1="256.78" y1="196.5" x2="256.78" y2="197.7" stroke="#333" stroke-width="0.4"/>
<text x="258.08" y="199.8" font-size="4.7" text-anchor="end" fill="#111" transform="rotate(-33 258.08 199.8)">Subadult_female</text>
<line x1="262.97" y1="127.9" x2="262.97" y2="168.2" stroke="#222" stroke-width="0.4"/>
<rect x="260.37" y="134.9" width="5.2" height="19.3" fill="#3C5488" stroke="#222" stroke-width="0.4"/>
<line x1="260.37" y1="143.7" x2="265.57" y2="143.7" stroke="#222" stroke-width="0.6"/>
<circle cx="261.92" cy="127.9" r="1.15" fill="#222"/>
<circle cx="262.62" cy="137" r="1.15" fill="#222"/>
<circle cx="263.32" cy="147" r="1.15" fill="#222"/>
<circle cx="264.02" cy="160" r="1.15" fill="#222"/>
<circle cx="262.27" cy="168.2" r="1.15" fill="#222"/>
<line x1="262.97" y1="196.5" x2="262.97" y2="197.7" stroke="#333" stroke-width="0.4"/>
<text x="264.27" y="199.8" font-size="4.7" text-anchor="end" fill="#111" transform="rotate(-33 264.27 199.8)">Subadult_male</text>
<line x1="269.16" y1="87.6" x2="269.16" y2="178.7" stroke="#222" stroke-width="0.4"/>
<rect x="266.56" y="106.9" width="5.2" height="59.5" fill="#F39B7F" stroke="#222" stroke-width="0.4"/>
<line x1="266.56" y1="143.7" x2="271.76" y2="143.7" stroke="#222" stroke-width="0.6"/>
<circle cx="268.11" cy="87.6" r="1.15" fill="#222"/>
<circle cx="268.81" cy="100" r="1.15" fill="#222"/>
<circle cx="269.51" cy="120" r="1.15" fill="#222"/>
<circle cx="270.21" cy="140" r="1.15" fill="#222"/>
<circle cx="268.46" cy="160" r="1.15" fill="#222"/>
<circle cx="269.16" cy="172" r="1.15" fill="#222"/>
<circle cx="269.86" cy="178.7" r="1.15" fill="#222"/>
<line x1="269.16" y1="196.5" x2="269.16" y2="197.7" stroke="#333" stroke-width="0.4"/>
<text x="270.46" y="199.8" font-size="4.7" text-anchor="end" fill="#111" transform="rotate(-33 270.46 199.8)">t1</text>
<line x1="275.35" y1="42" x2="275.35" y2="168.2" stroke="#222" stroke-width="0.4"/>
<rect x="272.75" y="85.8" width="5.2" height="42.1" fill="#8491B4" stroke="#222" stroke-width="0.4"/>
<line x1="272.75" y1="103.4" x2="277.95" y2="103.4" stroke="#222" stroke-width="0.6"/>
<circle cx="274.3" cy="42" r="1.15" fill="#222"/>
<circle cx="275" cy="80" r="1.15" fill="#222"/>
<circle cx="275.7" cy="88" r="1.15" fill="#222"/>
<circle cx="276.4" cy="98" r="1.15" fill="#222"/>
<circle cx="274.65" cy="111" r="1.15" fill="#222"/>
<circle cx="275.35" cy="168.2" r="1.15" fill="#222"/>
<line x1="275.35" y1="196.5" x2="275.35" y2="197.7" stroke="#333" stroke-width="0.4"/>
<text x="276.65" y="199.8" font-size="4.7" text-anchor="end" fill="#111" transform="rotate(-33 276.65 199.8)">t2</text>
<line x1="281.54" y1="105" x2="281.54" y2="128.9" stroke="#222" stroke-width="0.4"/>
<rect x="278.94" y="119.1" width="5.2" height="9.8" fill="#91D1C2" stroke="#222" stroke-width="0.4"/>
<line x1="278.94" y1="124.4" x2="284.14" y2="124.4" stroke="#222" stroke-width="0.6"/>
<circle cx="280.49" cy="105" r="1.15" fill="#222"/>
<circle cx="281.19" cy="124" r="1.15" fill="#222"/>
<circle cx="281.89" cy="128" r="1.15" fill="#222"/>
<circle cx="282.59" cy="168.2" r="1.15" fill="#222"/>
<line x1="281.54" y1="196.5" x2="281.54" y2="197.7" stroke="#333" stroke-width="0.4"/>
<text x="282.84" y="199.8" font-size="4.7" text-anchor="end" fill="#111" transform="rotate(-33 282.84 199.8)">t3</text>
<line x1="287.73" y1="111.8" x2="287.73" y2="179" stroke="#222" stroke-width="0.4"/>
<rect x="285.13" y="133.1" width="5.2" height="43.8" fill="#DC0000" stroke="#222" stroke-width="0.4"/>
<line x1="285.13" y1="146.5" x2="290.33" y2="146.5" stroke="#222" stroke-width="0.6"/>
<circle cx="286.68" cy="111.8" r="1.15" fill="#222"/>
<circle cx="287.38" cy="146.5" r="1.15" fill="#222"/>
<circle cx="288.08" cy="176" r="1.15" fill="#222"/>
<circle cx="288.78" cy="179" r="1.15" fill="#222"/>
<line x1="287.73" y1="196.5" x2="287.73" y2="197.7" stroke="#333" stroke-width="0.4"/>
<text x="289.03" y="199.8" font-size="4.7" text-anchor="end" fill="#111" transform="rotate(-33 289.03 199.8)">t4</text>
<line x1="293.92" y1="99.2" x2="293.92" y2="186.4" stroke="#222" stroke-width="0.4"/>
<rect x="291.32" y="113.9" width="5.2" height="33.3" fill="#7E6148" stroke="#222" stroke-width="0.4"/>
<line x1="291.32" y1="115.6" x2="296.52" y2="115.6" stroke="#222" stroke-width="0.6"/>
<circle cx="292.87" cy="99.2" r="1.15" fill="#222"/>
<circle cx="293.57" cy="114" r="1.15" fill="#222"/>
<circle cx="294.27" cy="118" r="1.15" fill="#222"/>
<circle cx="294.97" cy="140" r="1.15" fill="#222"/>
<circle cx="293.22" cy="186.4" r="1.15" fill="#222"/>
<line x1="293.92" y1="196.5" x2="293.92" y2="197.7" stroke="#333" stroke-width="0.4"/>
<text x="295.22" y="199.8" font-size="4.7" text-anchor="end" fill="#111" transform="rotate(-33 295.22 199.8)">t5</text>
<line x1="300.11" y1="100.9" x2="300.11" y2="168.2" stroke="#222" stroke-width="0.4"/>
<rect x="297.51" y="133.1" width="5.2" height="31.6" fill="#B09C85" stroke="#222" stroke-width="0.4"/>
<line x1="297.51" y1="150.7" x2="302.71" y2="150.7" stroke="#222" stroke-width="0.6"/>
<circle cx="299.06" cy="100.9" r="1.15" fill="#222"/>
<circle cx="299.76" cy="126" r="1.15" fill="#222"/>
<circle cx="300.46" cy="158" r="1.15" fill="#222"/>
<circle cx="301.16" cy="166" r="1.15" fill="#222"/>
<circle cx="299.41" cy="168.2" r="1.15" fill="#222"/>
<line x1="300.11" y1="196.5" x2="300.11" y2="197.7" stroke="#333" stroke-width="0.4"/>
<text x="301.41" y="199.8" font-size="4.7" text-anchor="end" fill="#111" transform="rotate(-33 301.41 199.8)">t6</text>
<rect x="317.2" y="21.5" width="63.8" height="13.9" fill="#D9D9D9" stroke="#555" stroke-width="0.5"/>
<rect x="317.2" y="35.4" width="63.8" height="161.1" fill="#fff" stroke="#555" stroke-width="0.5"/>
<text x="349.1" y="26.9" font-size="4.2" text-anchor="middle" fill="#1a1a1a">Simpson</text>
<text x="349.1" y="33.1" font-size="4.4" text-anchor="middle" fill="#1a1a1a">Kruskal–Wallis, p = 0.37</text>
<line x1="315.9" y1="193.4" x2="317.2" y2="193.4" stroke="#333" stroke-width="0.4"/>
<text x="315.4" y="195" font-size="4.5" text-anchor="end" fill="#111">0.00</text>
<line x1="315.9" y1="154.2" x2="317.2" y2="154.2" stroke="#333" stroke-width="0.4"/>
<text x="315.4" y="155.8" font-size="4.5" text-anchor="end" fill="#111">0.25</text>
<line x1="315.9" y1="114.6" x2="317.2" y2="114.6" stroke="#333" stroke-width="0.4"/>
<text x="315.4" y="116.2" font-size="4.5" text-anchor="end" fill="#111">0.50</text>
<line x1="315.9" y1="75.3" x2="317.2" y2="75.3" stroke="#333" stroke-width="0.4"/>
<text x="315.4" y="76.9" font-size="4.5" text-anchor="end" fill="#111">0.75</text>
<line x1="315.9" y1="35.9" x2="317.2" y2="35.9" stroke="#333" stroke-width="0.4"/>
<text x="315.4" y="37.5" font-size="4.5" text-anchor="end" fill="#111">1.00</text>
<line x1="320.9" y1="59.6" x2="320.9" y2="126.1" stroke="#222" stroke-width="0.4"/>
<rect x="318.3" y="88.3" width="5.2" height="37.8" fill="#E64B35" stroke="#222" stroke-width="0.4"/>
<line x1="318.3" y1="107.9" x2="323.5" y2="107.9" stroke="#222" stroke-width="0.6"/>
<circle cx="319.85" cy="59.6" r="1.15" fill="#222"/>
<circle cx="320.55" cy="85" r="1.15" fill="#222"/>
<circle cx="321.25" cy="102" r="1.15" fill="#222"/>
<circle cx="321.95" cy="120" r="1.15" fill="#222"/>
<circle cx="320.2" cy="189.2" r="1.15" fill="#222"/>
<line x1="320.9" y1="196.5" x2="320.9" y2="197.7" stroke="#333" stroke-width="0.4"/>
<text x="322.2" y="199.8" font-size="4.7" text-anchor="end" fill="#111" transform="rotate(-33 322.2 199.8)">Rural_SY</text>
<line x1="327.09" y1="99" x2="327.09" y2="182.2" stroke="#222" stroke-width="0.4"/>
<rect x="324.49" y="101.2" width="5.2" height="68" fill="#4DBBD5" stroke="#222" stroke-width="0.4"/>
<line x1="324.49" y1="124.4" x2="329.69" y2="124.4" stroke="#222" stroke-width="0.6"/>
<circle cx="326.04" cy="99" r="1.15" fill="#222"/>
<circle cx="326.74" cy="118" r="1.15" fill="#222"/>
<circle cx="327.44" cy="130" r="1.15" fill="#222"/>
<circle cx="328.14" cy="168" r="1.15" fill="#222"/>
<circle cx="326.39" cy="182.2" r="1.15" fill="#222"/>
<line x1="327.09" y1="196.5" x2="327.09" y2="197.7" stroke="#333" stroke-width="0.4"/>
<text x="328.39" y="199.8" font-size="4.7" text-anchor="end" fill="#111" transform="rotate(-33 328.39 199.8)">Rural_YJ</text>
<line x1="333.28" y1="87.6" x2="333.28" y2="189.2" stroke="#222" stroke-width="0.4"/>
<rect x="330.68" y="98.1" width="5.2" height="62.4" fill="#00A087" stroke="#222" stroke-width="0.4"/>
<line x1="330.68" y1="124.4" x2="335.88" y2="124.4" stroke="#222" stroke-width="0.6"/>
<circle cx="332.23" cy="87.6" r="1.15" fill="#222"/>
<circle cx="332.93" cy="100" r="1.15" fill="#222"/>
<circle cx="333.63" cy="113" r="1.15" fill="#222"/>
<circle cx="334.33" cy="134" r="1.15" fill="#222"/>
<circle cx="332.58" cy="189.2" r="1.15" fill="#222"/>
<line x1="333.28" y1="196.5" x2="333.28" y2="197.7" stroke="#333" stroke-width="0.4"/>
<text x="334.58" y="199.8" font-size="4.7" text-anchor="end" fill="#111" transform="rotate(-33 334.58 199.8)">Subadult_female</text>
<line x1="339.47" y1="95" x2="339.47" y2="120" stroke="#222" stroke-width="0.4"/>
<rect x="336.87" y="99.9" width="5.2" height="17.5" fill="#3C5488" stroke="#222" stroke-width="0.4"/>
<line x1="336.87" y1="107.9" x2="342.07" y2="107.9" stroke="#222" stroke-width="0.6"/>
<circle cx="338.42" cy="95" r="1.15" fill="#222"/>
<circle cx="339.12" cy="103" r="1.15" fill="#222"/>
<circle cx="339.82" cy="108" r="1.15" fill="#222"/>
<circle cx="340.52" cy="116" r="1.15" fill="#222"/>
<circle cx="338.77" cy="162.9" r="1.15" fill="#222"/>
<line x1="339.47" y1="196.5" x2="339.47" y2="197.7" stroke="#333" stroke-width="0.4"/>
<text x="340.77" y="199.8" font-size="4.7" text-anchor="end" fill="#111" transform="rotate(-33 340.77 199.8)">Subadult_male</text>
<line x1="345.66" y1="56.1" x2="345.66" y2="164.7" stroke="#222" stroke-width="0.4"/>
<rect x="343.06" y="72.9" width="5.2" height="74.3" fill="#F39B7F" stroke="#222" stroke-width="0.4"/>
<line x1="343.06" y1="124.4" x2="348.26" y2="124.4" stroke="#222" stroke-width="0.6"/>
<circle cx="344.61" cy="56.1" r="1.15" fill="#222"/>
<circle cx="345.31" cy="60" r="1.15" fill="#222"/>
<circle cx="346.01" cy="100" r="1.15" fill="#222"/>
<circle cx="346.71" cy="115" r="1.15" fill="#222"/>
<circle cx="344.96" cy="164.7" r="1.15" fill="#222"/>
<line x1="345.66" y1="196.5" x2="345.66" y2="197.7" stroke="#333" stroke-width="0.4"/>
<text x="346.96" y="199.8" font-size="4.7" text-anchor="end" fill="#111" transform="rotate(-33 346.96 199.8)">t1</text>
<line x1="351.85" y1="42.7" x2="351.85" y2="158.4" stroke="#222" stroke-width="0.4"/>
<rect x="349.25" y="55.4" width="5.2" height="46.2" fill="#8491B4" stroke="#222" stroke-width="0.4"/>
<line x1="349.25" y1="69.4" x2="354.45" y2="69.4" stroke="#222" stroke-width="0.6"/>
<circle cx="350.8" cy="42.7" r="1.15" fill="#222"/>
<circle cx="351.5" cy="53" r="1.15" fill="#222"/>
<circle cx="352.2" cy="62" r="1.15" fill="#222"/>
<circle cx="352.9" cy="74" r="1.15" fill="#222"/>
<circle cx="351.15" cy="112" r="1.15" fill="#222"/>
<circle cx="351.85" cy="158.4" r="1.15" fill="#222"/>
<line x1="351.85" y1="196.5" x2="351.85" y2="197.7" stroke="#333" stroke-width="0.4"/>
<text x="353.15" y="199.8" font-size="4.7" text-anchor="end" fill="#111" transform="rotate(-33 353.15 199.8)">t2</text>
<line x1="358.04" y1="78.8" x2="358.04" y2="109.3" stroke="#222" stroke-width="0.4"/>
<rect x="355.44" y="79.9" width="5.2" height="29.4" fill="#91D1C2" stroke="#222" stroke-width="0.4"/>
<line x1="355.44" y1="91.8" x2="360.64" y2="91.8" stroke="#222" stroke-width="0.6"/>
<circle cx="356.99" cy="78.8" r="1.15" fill="#222"/>
<circle cx="357.69" cy="84" r="1.15" fill="#222"/>
<circle cx="358.39" cy="91" r="1.15" fill="#222"/>
<circle cx="359.09" cy="158.4" r="1.15" fill="#222"/>
<line x1="358.04" y1="196.5" x2="358.04" y2="197.7" stroke="#333" stroke-width="0.4"/>
<text x="359.34" y="199.8" font-size="4.7" text-anchor="end" fill="#111" transform="rotate(-33 359.34 199.8)">t3</text>
<line x1="364.23" y1="74.3" x2="364.23" y2="180.4" stroke="#222" stroke-width="0.4"/>
<rect x="361.63" y="119.1" width="5.2" height="53.3" fill="#DC0000" stroke="#222" stroke-width="0.4"/>
<line x1="361.63" y1="127.9" x2="366.83" y2="127.9" stroke="#222" stroke-width="0.6"/>
<circle cx="363.18" cy="74.3" r="1.15" fill="#222"/>
<circle cx="363.88" cy="128" r="1.15" fill="#222"/>
<circle cx="364.58" cy="168" r="1.15" fill="#222"/>
<circle cx="365.28" cy="180.4" r="1.15" fill="#222"/>
<line x1="364.23" y1="196.5" x2="364.23" y2="197.7" stroke="#333" stroke-width="0.4"/>
<text x="365.53" y="199.8" font-size="4.7" text-anchor="end" fill="#111" transform="rotate(-33 365.53 199.8)">t4</text>
<line x1="370.42" y1="58.9" x2="370.42" y2="187.5" stroke="#222" stroke-width="0.4"/>
<rect x="367.82" y="76.4" width="5.2" height="45.5" fill="#7E6148" stroke="#222" stroke-width="0.4"/>
<line x1="367.82" y1="77.1" x2="373.02" y2="77.1" stroke="#222" stroke-width="0.6"/>
<circle cx="369.37" cy="58.9" r="1.15" fill="#222"/>
<circle cx="370.07" cy="76" r="1.15" fill="#222"/>
<circle cx="370.77" cy="120" r="1.15" fill="#222"/>
<circle cx="371.47" cy="187.5" r="1.15" fill="#222"/>
<line x1="370.42" y1="196.5" x2="370.42" y2="197.7" stroke="#333" stroke-width="0.4"/>
<text x="371.72" y="199.8" font-size="4.7" text-anchor="end" fill="#111" transform="rotate(-33 371.72 199.8)">t5</text>
<line x1="376.61" y1="78.8" x2="376.61" y2="160.5" stroke="#222" stroke-width="0.4"/>
<rect x="374.01" y="95.3" width="5.2" height="54.7" fill="#B09C85" stroke="#222" stroke-width="0.4"/>
<line x1="374.01" y1="124.4" x2="379.21" y2="124.4" stroke="#222" stroke-width="0.6"/>
<circle cx="375.56" cy="78.8" r="1.15" fill="#222"/>
<circle cx="376.26" cy="118" r="1.15" fill="#222"/>
<circle cx="376.96" cy="155" r="1.15" fill="#222"/>
<circle cx="377.66" cy="160.5" r="1.15" fill="#222"/>
<line x1="376.61" y1="196.5" x2="376.61" y2="197.7" stroke="#333" stroke-width="0.4"/>
<text x="377.91" y="199.8" font-size="4.7" text-anchor="end" fill="#111" transform="rotate(-33 377.91 199.8)">t6</text>
<rect x="390.6" y="21.5" width="62.8" height="13.9" fill="#D9D9D9" stroke="#555" stroke-width="0.5"/>
<rect x="390.6" y="35.4" width="62.8" height="161.1" fill="#fff" stroke="#555" stroke-width="0.5"/>
<text x="422" y="26.9" font-size="4.2" text-anchor="middle" fill="#1a1a1a">Chao1</text>
<text x="422" y="33.1" font-size="4.4" text-anchor="middle" fill="#1a1a1a">Kruskal–Wallis, p = 0.013</text>
<line x1="389.3" y1="161.2" x2="390.6" y2="161.2" stroke="#333" stroke-width="0.4"/>
<text x="388.8" y="162.8" font-size="4.5" text-anchor="end" fill="#111">20</text>
<line x1="389.3" y1="108.6" x2="390.6" y2="108.6" stroke="#333" stroke-width="0.4"/>
<text x="388.8" y="110.2" font-size="4.5" text-anchor="end" fill="#111">40</text>
<line x1="389.3" y1="56.1" x2="390.6" y2="56.1" stroke="#333" stroke-width="0.4"/>
<text x="388.8" y="57.7" font-size="4.5" text-anchor="end" fill="#111">60</text>
<line x1="394.3" y1="150" x2="394.3" y2="178.7" stroke="#222" stroke-width="0.4"/>
<rect x="391.7" y="158.7" width="5.2" height="10.2" fill="#E64B35" stroke="#222" stroke-width="0.4"/>
<line x1="391.7" y1="164.7" x2="396.9" y2="164.7" stroke="#222" stroke-width="0.6"/>
<circle cx="393.25" cy="132.4" r="1.15" fill="#222"/>
<circle cx="393.95" cy="160" r="1.15" fill="#222"/>
<circle cx="394.65" cy="165" r="1.15" fill="#222"/>
<circle cx="395.35" cy="178.7" r="1.15" fill="#222"/>
<line x1="394.3" y1="196.5" x2="394.3" y2="197.7" stroke="#333" stroke-width="0.4"/>
<text x="395.6" y="199.8" font-size="4.7" text-anchor="end" fill="#111" transform="rotate(-33 395.6 199.8)">Rural_SY</text>
<line x1="400.49" y1="150" x2="400.49" y2="189.2" stroke="#222" stroke-width="0.4"/>
<rect x="397.89" y="154.2" width="5.2" height="21" fill="#4DBBD5" stroke="#222" stroke-width="0.4"/>
<line x1="397.89" y1="172.4" x2="403.09" y2="172.4" stroke="#222" stroke-width="0.6"/>
<circle cx="399.44" cy="160" r="1.15" fill="#222"/>
<circle cx="400.14" cy="172" r="1.15" fill="#222"/>
<circle cx="400.84" cy="176" r="1.15" fill="#222"/>
<circle cx="401.54" cy="189.2" r="1.15" fill="#222"/>
<line x1="400.49" y1="196.5" x2="400.49" y2="197.7" stroke="#333" stroke-width="0.4"/>
<text x="401.79" y="199.8" font-size="4.7" text-anchor="end" fill="#111" transform="rotate(-33 401.79 199.8)">Rural_YJ</text>
<line x1="406.68" y1="125.4" x2="406.68" y2="161.9" stroke="#222" stroke-width="0.4"/>
<rect x="404.08" y="133.1" width="5.2" height="23.9" fill="#00A087" stroke="#222" stroke-width="0.4"/>
<line x1="404.08" y1="141.9" x2="409.28" y2="141.9" stroke="#222" stroke-width="0.6"/>
<circle cx="405.63" cy="125.4" r="1.15" fill="#222"/>
<circle cx="406.33" cy="136" r="1.15" fill="#222"/>
<circle cx="407.03" cy="142" r="1.15" fill="#222"/>
<circle cx="407.73" cy="150" r="1.15" fill="#222"/>
<circle cx="405.98" cy="161.9" r="1.15" fill="#222"/>
<line x1="406.68" y1="196.5" x2="406.68" y2="197.7" stroke="#333" stroke-width="0.4"/>
<text x="407.98" y="199.8" font-size="4.7" text-anchor="end" fill="#111" transform="rotate(-33 407.98 199.8)">Subadult_female</text>
<line x1="412.87" y1="158" x2="412.87" y2="170" stroke="#222" stroke-width="0.4"/>
<rect x="410.27" y="161.2" width="5.2" height="7" fill="#3C5488" stroke="#222" stroke-width="0.4"/>
<line x1="410.27" y1="167.5" x2="415.47" y2="167.5" stroke="#222" stroke-width="0.6"/>
<circle cx="411.82" cy="161" r="1.15" fill="#222"/>
<circle cx="412.52" cy="165" r="1.15" fill="#222"/>
<circle cx="413.22" cy="168" r="1.15" fill="#222"/>
<line x1="412.87" y1="196.5" x2="412.87" y2="197.7" stroke="#333" stroke-width="0.4"/>
<text x="414.17" y="199.8" font-size="4.7" text-anchor="end" fill="#111" transform="rotate(-33 414.17 199.8)">Subadult_male</text>
<line x1="419.06" y1="154.2" x2="419.06" y2="189.2" stroke="#222" stroke-width="0.4"/>
<rect x="416.46" y="160.5" width="5.2" height="12.9" fill="#F39B7F" stroke="#222" stroke-width="0.4"/>
<line x1="416.46" y1="167.5" x2="421.66" y2="167.5" stroke="#222" stroke-width="0.6"/>
<circle cx="418.01" cy="154.2" r="1.15" fill="#222"/>
<circle cx="418.71" cy="163" r="1.15" fill="#222"/>
<circle cx="419.41" cy="168" r="1.15" fill="#222"/>
<circle cx="420.11" cy="189.2" r="1.15" fill="#222"/>
<line x1="419.06" y1="196.5" x2="419.06" y2="197.7" stroke="#333" stroke-width="0.4"/>
<text x="420.36" y="199.8" font-size="4.7" text-anchor="end" fill="#111" transform="rotate(-33 420.36 199.8)">t1</text>
<line x1="425.25" y1="123.7" x2="425.25" y2="185.7" stroke="#222" stroke-width="0.4"/>
<rect x="422.65" y="126.1" width="5.2" height="26.3" fill="#8491B4" stroke="#222" stroke-width="0.4"/>
<line x1="422.65" y1="131.4" x2="427.85" y2="131.4" stroke="#222" stroke-width="0.6"/>
<circle cx="424.2" cy="43.1" r="1.15" fill="#222"/>
<circle cx="424.9" cy="126" r="1.15" fill="#222"/>
<circle cx="425.6" cy="129" r="1.15" fill="#222"/>
<circle cx="426.3" cy="131" r="1.15" fill="#222"/>
<circle cx="424.55" cy="133" r="1.15" fill="#222"/>
<circle cx="425.25" cy="185.7" r="1.15" fill="#222"/>
<line x1="425.25" y1="196.5" x2="425.25" y2="197.7" stroke="#333" stroke-width="0.4"/>
<text x="426.55" y="199.8" font-size="4.7" text-anchor="end" fill="#111" transform="rotate(-33 426.55 199.8)">t2</text>
<line x1="431.44" y1="124.4" x2="431.44" y2="155" stroke="#222" stroke-width="0.4"/>
<rect x="428.84" y="127.9" width="5.2" height="22.8" fill="#91D1C2" stroke="#222" stroke-width="0.4"/>
<line x1="428.84" y1="141.9" x2="434.04" y2="141.9" stroke="#222" stroke-width="0.6"/>
<circle cx="430.39" cy="90.4" r="1.15" fill="#222"/>
<circle cx="431.09" cy="124.4" r="1.15" fill="#222"/>
<circle cx="431.79" cy="131" r="1.15" fill="#222"/>
<circle cx="432.49" cy="140" r="1.15" fill="#222"/>
<circle cx="430.74" cy="149" r="1.15" fill="#222"/>
<line x1="431.44" y1="196.5" x2="431.44" y2="197.7" stroke="#333" stroke-width="0.4"/>
<text x="432.74" y="199.8" font-size="4.7" text-anchor="end" fill="#111" transform="rotate(-33 432.74 199.8)">t3</text>
<line x1="437.63" y1="85.8" x2="437.63" y2="141.9" stroke="#222" stroke-width="0.4"/>
<rect x="435.03" y="119.1" width="5.2" height="22.8" fill="#DC0000" stroke="#222" stroke-width="0.4"/>
<line x1="435.03" y1="136.6" x2="440.23" y2="136.6" stroke="#222" stroke-width="0.6"/>
<circle cx="436.58" cy="85.8" r="1.15" fill="#222"/>
<circle cx="437.28" cy="132" r="1.15" fill="#222"/>
<circle cx="437.98" cy="136" r="1.15" fill="#222"/>
<circle cx="438.68" cy="182.2" r="1.15" fill="#222"/>
<line x1="437.63" y1="196.5" x2="437.63" y2="197.7" stroke="#333" stroke-width="0.4"/>
<text x="438.93" y="199.8" font-size="4.7" text-anchor="end" fill="#111" transform="rotate(-33 438.93 199.8)">t4</text>
<line x1="443.82" y1="124.4" x2="443.82" y2="157" stroke="#222" stroke-width="0.4"/>
<rect x="441.22" y="134.2" width="5.2" height="22.8" fill="#7E6148" stroke="#222" stroke-width="0.4"/>
<line x1="441.22" y1="145.4" x2="446.42" y2="145.4" stroke="#222" stroke-width="0.6"/>
<circle cx="442.77" cy="124.4" r="1.15" fill="#222"/>
<circle cx="443.47" cy="136" r="1.15" fill="#222"/>
<circle cx="444.17" cy="145" r="1.15" fill="#222"/>
<circle cx="444.87" cy="153" r="1.15" fill="#222"/>
<line x1="443.82" y1="196.5" x2="443.82" y2="197.7" stroke="#333" stroke-width="0.4"/>
<text x="445.12" y="199.8" font-size="4.7" text-anchor="end" fill="#111" transform="rotate(-33 445.12 199.8)">t5</text>
<line x1="450.01" y1="163" x2="450.01" y2="189.2" stroke="#222" stroke-width="0.4"/>
<rect x="447.41" y="165.7" width="5.2" height="10.2" fill="#B09C85" stroke="#222" stroke-width="0.4"/>
<line x1="447.41" y1="171.7" x2="452.61" y2="171.7" stroke="#222" stroke-width="0.6"/>
<circle cx="448.96" cy="165" r="1.15" fill="#222"/>
<circle cx="449.66" cy="170" r="1.15" fill="#222"/>
<circle cx="450.36" cy="176" r="1.15" fill="#222"/>
<circle cx="451.06" cy="189.2" r="1.15" fill="#222"/>
<line x1="450.01" y1="196.5" x2="450.01" y2="197.7" stroke="#333" stroke-width="0.4"/>
<text x="451.31" y="199.8" font-size="4.7" text-anchor="end" fill="#111" transform="rotate(-33 451.31 199.8)">t6</text>
<text x="233.5" y="115.5" font-size="5" text-anchor="middle" fill="#222" transform="rotate(-90 233.5 115.5)">Alpha index</text>
</g>
<g id="pc">
<line x1="487" y1="116.3" x2="680.6" y2="116.3" stroke="#555" stroke-width="0.7" stroke-dasharray="1.2,1.6"/>
<line x1="615.16" y1="22.8" x2="615.16" y2="191.1" stroke="#555" stroke-width="0.7" stroke-dasharray="1.2,1.6"/>
<polygon points="601.1,44.3 625.3,40.8 589,145.4" fill="#0B4C9B" stroke="#0B4C9B" stroke-width="0.6" fill-opacity="0.24" stroke-linejoin="round"/>
<polygon points="641.1,66.9 666.1,113.3 631.6,146.6 632.1,113.2" fill="#E8141C" stroke="#E8141C" stroke-width="0.6" fill-opacity="0.24" stroke-linejoin="round"/>
<polygon points="604.3,78.3 630.9,82 619,112 613,122 607,100" fill="#4CB84A" stroke="#4CB84A" stroke-width="0.6" fill-opacity="0.24" stroke-linejoin="round"/>
<polygon points="620.9,81.4 624.7,125 619.5,137 613.2,129 610,103.7" fill="#1A9EBE" stroke="#1A9EBE" stroke-width="0.6" fill-opacity="0.24" stroke-linejoin="round"/>
<polygon points="598.7,103.3 624.5,108.9 611,151.3 602.5,179.7 588.5,129.9" fill="#9B62B0" stroke="#9B62B0" stroke-width="0.6" fill-opacity="0.24" stroke-linejoin="round"/>
<polygon points="607.6,74.3 616.9,124 507.3,181.3" fill="#F7A98E" stroke="#F7A98E" stroke-width="0.6" fill-opacity="0.24" stroke-linejoin="round"/>
<polygon points="574,80.2 610,116.3 615.8,149.1 597.4,148" fill="#A5103A" stroke="#A5103A" stroke-width="0.6" fill-opacity="0.24" stroke-linejoin="round"/>
<polygon points="588.5,78.2 611.4,77 631.3,92.8 607,153.5 592.5,98.7" fill="#B9BDBD" stroke="#B9BDBD" stroke-width="0.6" fill-opacity="0.24" stroke-linejoin="round"/>
<polygon points="637.5,115.9 624.7,152.3 619.1,164.6 619.8,146.4 625,136.2" fill="#A83A4E" stroke="#A83A4E" stroke-width="0.6" fill-opacity="0.24" stroke-linejoin="round"/>
<polygon points="639.5,140.7 659,165.3 642.3,170.8" fill="#B8862A" stroke="#B8862A" stroke-width="0.6" fill-opacity="0.24" stroke-linejoin="round"/>
<circle cx="601.1" cy="44.3" r="2.1" fill="#0B4C9B" fill-opacity="0.95"/>
<circle cx="625.3" cy="40.8" r="2.1" fill="#0B4C9B" fill-opacity="0.95"/>
<circle cx="616.3" cy="56" r="2.1" fill="#0B4C9B" fill-opacity="0.95"/>
<circle cx="611.7" cy="66.2" r="2.1" fill="#0B4C9B" fill-opacity="0.95"/>
<circle cx="619.8" cy="65.9" r="2.1" fill="#0B4C9B" fill-opacity="0.95"/>
<circle cx="589" cy="145.4" r="2.1" fill="#0B4C9B" fill-opacity="0.95"/>
<circle cx="641.1" cy="66.9" r="2.1" fill="#E8141C" fill-opacity="0.95"/>
<circle cx="666.1" cy="113.3" r="2.1" fill="#E8141C" fill-opacity="0.95"/>
<circle cx="637" cy="99.6" r="2.1" fill="#E8141C" fill-opacity="0.95"/>
<circle cx="633.5" cy="100.2" r="2.1" fill="#E8141C" fill-opacity="0.95"/>
<circle cx="631.8" cy="113.3" r="2.1" fill="#E8141C" fill-opacity="0.95"/>
<circle cx="631.6" cy="146.6" r="2.1" fill="#E8141C" fill-opacity="0.95"/>
<circle cx="604.3" cy="78.3" r="2.1" fill="#4CB84A" fill-opacity="0.95"/>
<circle cx="630.9" cy="82" r="2.1" fill="#4CB84A" fill-opacity="0.95"/>
<circle cx="612.4" cy="97.7" r="2.1" fill="#4CB84A" fill-opacity="0.95"/>
<circle cx="615.8" cy="104.6" r="2.1" fill="#4CB84A" fill-opacity="0.95"/>
<circle cx="619" cy="112" r="2.1" fill="#4CB84A" fill-opacity="0.95"/>
<circle cx="613" cy="122" r="2.1" fill="#4CB84A" fill-opacity="0.95"/>
<circle cx="607" cy="100" r="2.1" fill="#4CB84A" fill-opacity="0.95"/>
<circle cx="620.9" cy="81.4" r="2.1" fill="#1A9EBE" fill-opacity="0.95"/>
<circle cx="624.7" cy="125" r="2.1" fill="#1A9EBE" fill-opacity="0.95"/>
<circle cx="619.5" cy="137" r="2.1" fill="#1A9EBE" fill-opacity="0.95"/>
<circle cx="613.2" cy="129" r="2.1" fill="#1A9EBE" fill-opacity="0.95"/>
<circle cx="610" cy="103.7" r="2.1" fill="#1A9EBE" fill-opacity="0.95"/>
<circle cx="615" cy="111" r="2.1" fill="#1A9EBE" fill-opacity="0.95"/>
<circle cx="598.7" cy="103.3" r="2.1" fill="#9B62B0" fill-opacity="0.95"/>
<circle cx="624.5" cy="108.9" r="2.1" fill="#9B62B0" fill-opacity="0.95"/>
<circle cx="611" cy="151.3" r="2.1" fill="#9B62B0" fill-opacity="0.95"/>
<circle cx="602.5" cy="179.7" r="2.1" fill="#9B62B0" fill-opacity="0.95"/>
<circle cx="588.5" cy="129.9" r="2.1" fill="#9B62B0" fill-opacity="0.95"/>
<circle cx="602.8" cy="124.4" r="2.1" fill="#9B62B0" fill-opacity="0.95"/>
<circle cx="607.6" cy="74.3" r="2.1" fill="#F7A98E" fill-opacity="0.95"/>
<circle cx="616.9" cy="124" r="2.1" fill="#F7A98E" fill-opacity="0.95"/>
<circle cx="507.3" cy="181.3" r="2.1" fill="#F7A98E" fill-opacity="0.95"/>
<circle cx="602.8" cy="95" r="2.1" fill="#F7A98E" fill-opacity="0.95"/>
<circle cx="603" cy="110" r="2.1" fill="#F7A98E" fill-opacity="0.95"/>
<circle cx="574" cy="80.2" r="2.1" fill="#A5103A" fill-opacity="0.95"/>
<circle cx="610" cy="116.3" r="2.1" fill="#A5103A" fill-opacity="0.95"/>
<circle cx="615.8" cy="149.1" r="2.1" fill="#A5103A" fill-opacity="0.95"/>
<circle cx="597.4" cy="148" r="2.1" fill="#A5103A" fill-opacity="0.95"/>
<circle cx="592.2" cy="117" r="2.1" fill="#A5103A" fill-opacity="0.95"/>
<circle cx="600.6" cy="138.4" r="2.1" fill="#A5103A" fill-opacity="0.95"/>
<circle cx="588.5" cy="78.2" r="2.1" fill="#B9BDBD" fill-opacity="0.95"/>
<circle cx="611.4" cy="77" r="2.1" fill="#B9BDBD" fill-opacity="0.95"/>
<circle cx="631.3" cy="92.8" r="2.1" fill="#B9BDBD" fill-opacity="0.95"/>
<circle cx="607" cy="153.5" r="2.1" fill="#B9BDBD" fill-opacity="0.95"/>
<circle cx="592.5" cy="98.7" r="2.1" fill="#B9BDBD" fill-opacity="0.95"/>
<circle cx="637.5" cy="115.9" r="2.1" fill="#A83A4E" fill-opacity="0.95"/>
<circle cx="625" cy="136.2" r="2.1" fill="#A83A4E" fill-opacity="0.95"/>
<circle cx="622" cy="142" r="2.1" fill="#A83A4E" fill-opacity="0.95"/>
<circle cx="619.8" cy="146.4" r="2.1" fill="#A83A4E" fill-opacity="0.95"/>
<circle cx="624.7" cy="152.3" r="2.1" fill="#A83A4E" fill-opacity="0.95"/>
<circle cx="619.1" cy="164.6" r="2.1" fill="#A83A4E" fill-opacity="0.95"/>
<circle cx="639.5" cy="140.7" r="2.1" fill="#B8862A" fill-opacity="0.95"/>
<circle cx="647.1" cy="147.6" r="2.1" fill="#B8862A" fill-opacity="0.95"/>
<circle cx="644.6" cy="155" r="2.1" fill="#B8862A" fill-opacity="0.95"/>
<circle cx="659" cy="165.3" r="2.1" fill="#B8862A" fill-opacity="0.95"/>
<circle cx="642.3" cy="170.8" r="2.1" fill="#B8862A" fill-opacity="0.95"/>
<circle cx="646" cy="149" r="2.1" fill="#B8862A" fill-opacity="0.95"/>
<path d="M487 22.8H680.6V191.1H487Z" fill="none" stroke="#555" stroke-width="0.9"/>
<line x1="487" y1="191.1" x2="487" y2="193.2" stroke="#444" stroke-width="0.7"/>
<text x="487" y="201.3" font-size="6.8" text-anchor="middle" fill="#222">-0.8</text>
<line x1="503.02" y1="191.1" x2="503.02" y2="193.2" stroke="#444" stroke-width="0.7"/>
<text x="503.02" y="201.3" font-size="6.8" text-anchor="middle" fill="#222">-0.7</text>
<line x1="519.04" y1="191.1" x2="519.04" y2="193.2" stroke="#444" stroke-width="0.7"/>
<text x="519.04" y="201.3" font-size="6.8" text-anchor="middle" fill="#222">-0.6</text>
<line x1="535.06" y1="191.1" x2="535.06" y2="193.2" stroke="#444" stroke-width="0.7"/>
<text x="535.06" y="201.3" font-size="6.8" text-anchor="middle" fill="#222">-0.5</text>
<line x1="551.08" y1="191.1" x2="551.08" y2="193.2" stroke="#444" stroke-width="0.7"/>
<text x="551.08" y="201.3" font-size="6.8" text-anchor="middle" fill="#222">-0.4</text>
<line x1="567.1" y1="191.1" x2="567.1" y2="193.2" stroke="#444" stroke-width="0.7"/>
<text x="567.1" y="201.3" font-size="6.8" text-anchor="middle" fill="#222">-0.3</text>
<line x1="583.12" y1="191.1" x2="583.12" y2="193.2" stroke="#444" stroke-width="0.7"/>
<text x="583.12" y="201.3" font-size="6.8" text-anchor="middle" fill="#222">-0.2</text>
<line x1="599.14" y1="191.1" x2="599.14" y2="193.2" stroke="#444" stroke-width="0.7"/>
<text x="599.14" y="201.3" font-size="6.8" text-anchor="middle" fill="#222">-0.1</text>
<line x1="615.16" y1="191.1" x2="615.16" y2="193.2" stroke="#444" stroke-width="0.7"/>
<text x="615.16" y="201.3" font-size="6.8" text-anchor="middle" fill="#222">0</text>
<line x1="631.18" y1="191.1" x2="631.18" y2="193.2" stroke="#444" stroke-width="0.7"/>
<text x="631.18" y="201.3" font-size="6.8" text-anchor="middle" fill="#222">0.1</text>
<line x1="647.2" y1="191.1" x2="647.2" y2="193.2" stroke="#444" stroke-width="0.7"/>
<text x="647.2" y="201.3" font-size="6.8" text-anchor="middle" fill="#222">0.2</text>
<line x1="663.22" y1="191.1" x2="663.22" y2="193.2" stroke="#444" stroke-width="0.7"/>
<text x="663.22" y="201.3" font-size="6.8" text-anchor="middle" fill="#222">0.3</text>
<line x1="679.24" y1="191.1" x2="679.24" y2="193.2" stroke="#444" stroke-width="0.7"/>
<text x="679.24" y="201.3" font-size="6.8" text-anchor="middle" fill="#222">0.4</text>
<line x1="484.9" y1="191.1" x2="487" y2="191.1" stroke="#444" stroke-width="0.7"/>
<text x="482.1" y="193.5" font-size="6.8" text-anchor="end" fill="#222">-0.2</text>
<line x1="484.9" y1="172.4" x2="487" y2="172.4" stroke="#444" stroke-width="0.7"/>
<text x="482.1" y="174.8" font-size="6.8" text-anchor="end" fill="#222">-0.15</text>
<line x1="484.9" y1="153.7" x2="487" y2="153.7" stroke="#444" stroke-width="0.7"/>
<text x="482.1" y="156.1" font-size="6.8" text-anchor="end" fill="#222">-0.1</text>
<line x1="484.9" y1="135" x2="487" y2="135" stroke="#444" stroke-width="0.7"/>
<text x="482.1" y="137.4" font-size="6.8" text-anchor="end" fill="#222">-0.05</text>
<line x1="484.9" y1="116.3" x2="487" y2="116.3" stroke="#444" stroke-width="0.7"/>
<text x="482.1" y="118.7" font-size="6.8" text-anchor="end" fill="#222">0</text>
<line x1="484.9" y1="97.6" x2="487" y2="97.6" stroke="#444" stroke-width="0.7"/>
<text x="482.1" y="100" font-size="6.8" text-anchor="end" fill="#222">0.05</text>
<line x1="484.9" y1="78.9" x2="487" y2="78.9" stroke="#444" stroke-width="0.7"/>
<text x="482.1" y="81.3" font-size="6.8" text-anchor="end" fill="#222">0.1</text>
<line x1="484.9" y1="60.2" x2="487" y2="60.2" stroke="#444" stroke-width="0.7"/>
<text x="482.1" y="62.6" font-size="6.8" text-anchor="end" fill="#222">0.15</text>
<line x1="484.9" y1="41.5" x2="487" y2="41.5" stroke="#444" stroke-width="0.7"/>
<text x="482.1" y="43.9" font-size="6.8" text-anchor="end" fill="#222">0.2</text>
<line x1="484.9" y1="22.8" x2="487" y2="22.8" stroke="#444" stroke-width="0.7"/>
<text x="482.1" y="25.2" font-size="6.8" text-anchor="end" fill="#222">0.25</text>
<text x="591.5" y="212.8" font-size="7.8" text-anchor="middle" fill="#222">NMDS1</text>
<text x="464.4" y="101.1" font-size="7.8" text-anchor="middle" fill="#222" transform="rotate(-90 464.4 101.1)">NMDS2</text>
<circle cx="494.7" cy="29.7" r="2.2" fill="#0B4C9B"/>
<text x="498.3" y="31.2" font-size="4.2" fill="#333">Rural_SY</text>
<circle cx="494.7" cy="37.15" r="2.2" fill="#E8141C"/>
<text x="498.3" y="38.65" font-size="4.2" fill="#333">Rural_YJ</text>
<circle cx="494.7" cy="44.6" r="2.2" fill="#4CB84A"/>
<text x="498.3" y="46.1" font-size="4.2" fill="#333">Subadult_female</text>
<circle cx="494.7" cy="52.05" r="2.2" fill="#1A9EBE"/>
<text x="498.3" y="53.55" font-size="4.2" fill="#333">Subadult_male</text>
<circle cx="494.7" cy="59.5" r="2.2" fill="#9B62B0"/>
<text x="498.3" y="61" font-size="4.2" fill="#333">t1</text>
<circle cx="494.7" cy="66.95" r="2.2" fill="#F7A98E"/>
<text x="498.3" y="68.45" font-size="4.2" fill="#333">t2</text>
<circle cx="494.7" cy="74.4" r="2.2" fill="#A5103A"/>
<text x="498.3" y="75.9" font-size="4.2" fill="#333">t3</text>
<circle cx="494.7" cy="81.85" r="2.2" fill="#B9BDBD"/>
<text x="498.3" y="83.35" font-size="4.2" fill="#333">t4</text>
<circle cx="494.7" cy="89.3" r="2.2" fill="#A83A4E"/>
<text x="498.3" y="90.8" font-size="4.2" fill="#333">t5</text>
<circle cx="494.7" cy="96.75" r="2.2" fill="#B8862A"/>
<text x="498.3" y="98.25" font-size="4.2" fill="#333">t6</text>
<text x="648" y="29" font-size="4.9" fill="#222">Stress= 0.179</text>
<text x="648" y="34.9" font-size="4.9" fill="#222">Adonis:</text>
<text x="648" y="40.8" font-size="4.9" fill="#222">R² = 0.259</text>
<text x="648" y="46.7" font-size="4.9" fill="#222">F = 1.899</text>
<text x="648" y="52.6" font-size="4.9" fill="#222">P = 0.001</text>
</g>
<g id="pd">
<rect x="35.4" y="235.8" width="367.8" height="37.2" fill="#fff" stroke="#444" stroke-width="0.6"/>
<text x="40.9" y="245.7" font-size="7.1" fill="#1a1a1a">Macrolide</text>
<text x="82.8" y="245.7" font-size="7.1" fill="#1a1a1a">Tetracycline</text>
<text x="132" y="245.7" font-size="7.1" fill="#1a1a1a">Sulfonamide</text>
<text x="214.8" y="245.7" font-size="7.1" fill="#1a1a1a">Quinolone</text>
<text x="298.5" y="245.7" font-size="7.1" fill="#1a1a1a">Aminoglycoside</text>
<text x="369.8" y="245.7" font-size="7.1" fill="#1a1a1a">β-lactam</text>
<line x1="40.9" y1="254" x2="51.9" y2="254" stroke="#A68BD8" stroke-width="1.9"/>
<text x="55.6" y="256" font-size="5.4" fill="#222">CLR</text>
<line x1="40.9" y1="266.8" x2="51.9" y2="266.8" stroke="#20C6F6" stroke-width="1.9"/>
<text x="55.6" y="268.8" font-size="5.4" fill="#222">AZI</text>
<line x1="85.8" y1="254" x2="96.8" y2="254" stroke="#5EC4D2" stroke-width="1.9"/>
<text x="100.1" y="256" font-size="5.4" fill="#222">DOX</text>
<line x1="138.6" y1="254" x2="149.6" y2="254" stroke="#F8A47F" stroke-width="1.9"/>
<text x="153" y="256" font-size="5.4" fill="#222">SCP</text>
<line x1="185.2" y1="254" x2="196.2" y2="254" stroke="#F67E7E" stroke-width="1.9"/>
<text x="199.5" y="256" font-size="5.4" fill="#222">ENR</text>
<line x1="185.2" y1="266.8" x2="196.2" y2="266.8" stroke="#106A72" stroke-width="1.9"/>
<text x="199.5" y="268.8" font-size="5.4" fill="#222">MXF</text>
<line x1="221" y1="254" x2="232" y2="254" stroke="#2C0F57" stroke-width="1.9"/>
<text x="235.7" y="256" font-size="5.4" fill="#222">CIP</text>
<line x1="221" y1="266.8" x2="232" y2="266.8" stroke="#FDBA00" stroke-width="1.9"/>
<text x="235.7" y="268.8" font-size="5.4" fill="#222">NDR</text>
<line x1="254" y1="254" x2="265" y2="254" stroke="#1650EC" stroke-width="1.9"/>
<text x="268.9" y="256" font-size="5.4" fill="#222">LOM</text>
<line x1="254" y1="266.8" x2="265" y2="266.8" stroke="#FA0000" stroke-width="1.9"/>
<text x="268.9" y="268.8" font-size="5.4" fill="#222">OFX</text>
<line x1="307.2" y1="254" x2="318.2" y2="254" stroke="#E28EF2" stroke-width="1.9"/>
<text x="321.9" y="256" font-size="5.4" fill="#222">SPD</text>
<line x1="369" y1="254" x2="380" y2="254" stroke="#84A7F6" stroke-width="1.9"/>
<text x="383.8" y="256" font-size="5.4" fill="#222">AMX</text>
<rect x="30.7" y="277.5" width="40.96" height="18.8" fill="#E64B35"/>
<text x="51.18" y="289.5" font-size="5.6" text-anchor="middle" fill="#1a1a1a">Rural_SY</text>
<rect x="30.7" y="296.3" width="40.96" height="141.1" fill="none" stroke="#C8C8C8" stroke-width="0.5"/>
<rect x="31.15" y="432.71" width="5.93" height="4.69" fill="#A68BD8"/>
<rect x="31.15" y="422.75" width="5.93" height="9.96" fill="#20C6F6"/>
<rect x="31.15" y="420.99" width="5.93" height="1.76" fill="#5EC4D2"/>
<rect x="31.15" y="417.48" width="5.93" height="3.52" fill="#F67E7E"/>
<rect x="31.15" y="415.13" width="5.93" height="2.34" fill="#2C0F57"/>
<rect x="31.15" y="411.03" width="5.93" height="4.1" fill="#106A72"/>
<rect x="31.15" y="405.17" width="5.93" height="5.86" fill="#FDBA00"/>
<rect x="31.15" y="365.91" width="5.93" height="39.26" fill="#FA0000"/>
<line x1="31.15" y1="432.71" x2="37.08" y2="432.71" stroke="#fff" stroke-width="0.3"/>
<line x1="31.15" y1="422.75" x2="37.08" y2="422.75" stroke="#fff" stroke-width="0.3"/>
<line x1="31.15" y1="420.99" x2="37.08" y2="420.99" stroke="#fff" stroke-width="0.3"/>
<line x1="31.15" y1="417.48" x2="37.08" y2="417.48" stroke="#fff" stroke-width="0.3"/>
<line x1="31.15" y1="415.13" x2="37.08" y2="415.13" stroke="#fff" stroke-width="0.3"/>
<line x1="31.15" y1="411.03" x2="37.08" y2="411.03" stroke="#fff" stroke-width="0.3"/>
<line x1="31.15" y1="405.17" x2="37.08" y2="405.17" stroke="#fff" stroke-width="0.3"/>
<line x1="34.11" y1="437.4" x2="34.11" y2="438.6" stroke="#444" stroke-width="0.35"/>
<text x="34.71" y="442" font-size="4.3" text-anchor="end" fill="#222" transform="rotate(-45 34.71 442)" stroke="#222" stroke-width="0.12">SY20816_3</text>
<rect x="37.98" y="431.54" width="5.93" height="5.86" fill="#A68BD8"/>
<rect x="37.98" y="417.48" width="5.93" height="14.06" fill="#20C6F6"/>
<rect x="37.98" y="416.3" width="5.93" height="1.17" fill="#5EC4D2"/>
<rect x="37.98" y="412.79" width="5.93" height="3.52" fill="#F67E7E"/>
<rect x="37.98" y="409.86" width="5.93" height="2.93" fill="#2C0F57"/>
<rect x="37.98" y="405.17" width="5.93" height="4.69" fill="#106A72"/>
<rect x="37.98" y="404" width="5.93" height="1.17" fill="#FDBA00"/>
<rect x="37.98" y="399.9" width="5.93" height="4.1" fill="#FA0000"/>
<rect x="37.98" y="392.86" width="5.93" height="7.03" fill="#84A7F6"/>
<line x1="37.98" y1="431.54" x2="43.9" y2="431.54" stroke="#fff" stroke-width="0.3"/>
<line x1="37.98" y1="417.48" x2="43.9" y2="417.48" stroke="#fff" stroke-width="0.3"/>
<line x1="37.98" y1="416.3" x2="43.9" y2="416.3" stroke="#fff" stroke-width="0.3"/>
<line x1="37.98" y1="412.79" x2="43.9" y2="412.79" stroke="#fff" stroke-width="0.3"/>
<line x1="37.98" y1="409.86" x2="43.9" y2="409.86" stroke="#fff" stroke-width="0.3"/>
<line x1="37.98" y1="405.17" x2="43.9" y2="405.17" stroke="#fff" stroke-width="0.3"/>
<line x1="37.98" y1="404" x2="43.9" y2="404" stroke="#fff" stroke-width="0.3"/>
<line x1="37.98" y1="399.9" x2="43.9" y2="399.9" stroke="#fff" stroke-width="0.3"/>
<line x1="40.94" y1="437.4" x2="40.94" y2="438.6" stroke="#444" stroke-width="0.35"/>
<text x="41.54" y="442" font-size="4.3" text-anchor="end" fill="#222" transform="rotate(-45 41.54 442)" stroke="#222" stroke-width="0.12">SY20816_4</text>
<rect x="44.8" y="430.95" width="5.93" height="6.45" fill="#A68BD8"/>
<rect x="44.8" y="418.65" width="5.93" height="12.31" fill="#20C6F6"/>
<rect x="44.8" y="417.48" width="5.93" height="1.17" fill="#5EC4D2"/>
<rect x="44.8" y="414.55" width="5.93" height="2.93" fill="#F67E7E"/>
<rect x="44.8" y="412.2" width="5.93" height="2.34" fill="#2C0F57"/>
<rect x="44.8" y="406.93" width="5.93" height="5.27" fill="#106A72"/>
<rect x="44.8" y="403.41" width="5.93" height="3.52" fill="#FA0000"/>
<line x1="44.8" y1="430.95" x2="50.73" y2="430.95" stroke="#fff" stroke-width="0.3"/>
<line x1="44.8" y1="418.65" x2="50.73" y2="418.65" stroke="#fff" stroke-width="0.3"/>
<line x1="44.8" y1="417.48" x2="50.73" y2="417.48" stroke="#fff" stroke-width="0.3"/>
<line x1="44.8" y1="414.55" x2="50.73" y2="414.55" stroke="#fff" stroke-width="0.3"/>
<line x1="44.8" y1="412.2" x2="50.73" y2="412.2" stroke="#fff" stroke-width="0.3"/>
<line x1="44.8" y1="406.93" x2="50.73" y2="406.93" stroke="#fff" stroke-width="0.3"/>
<line x1="47.77" y1="437.4" x2="47.77" y2="438.6" stroke="#444" stroke-width="0.35"/>
<text x="48.37" y="442" font-size="4.3" text-anchor="end" fill="#222" transform="rotate(-45 48.37 442)" stroke="#222" stroke-width="0.12">SY20816_5</text>
<rect x="51.63" y="436.23" width="5.93" height="1.17" fill="#F8A47F"/>
<rect x="51.63" y="433.88" width="5.93" height="2.34" fill="#F67E7E"/>
<rect x="51.63" y="432.71" width="5.93" height="1.17" fill="#2C0F57"/>
<rect x="51.63" y="429.2" width="5.93" height="3.52" fill="#106A72"/>
<line x1="51.63" y1="436.23" x2="57.56" y2="436.23" stroke="#fff" stroke-width="0.3"/>
<line x1="51.63" y1="433.88" x2="57.56" y2="433.88" stroke="#fff" stroke-width="0.3"/>
<line x1="51.63" y1="432.71" x2="57.56" y2="432.71" stroke="#fff" stroke-width="0.3"/>
<line x1="54.59" y1="437.4" x2="54.59" y2="438.6" stroke="#444" stroke-width="0.35"/>
<text x="55.19" y="442" font-size="4.3" text-anchor="end" fill="#222" transform="rotate(-45 55.19 442)" stroke="#222" stroke-width="0.12">SY20816_7</text>
<rect x="58.46" y="434.47" width="5.93" height="2.93" fill="#A68BD8"/>
<rect x="58.46" y="428.02" width="5.93" height="6.45" fill="#20C6F6"/>
<rect x="58.46" y="426.85" width="5.93" height="1.17" fill="#5EC4D2"/>
<rect x="58.46" y="423.34" width="5.93" height="3.52" fill="#F67E7E"/>
<rect x="58.46" y="420.99" width="5.93" height="2.34" fill="#2C0F57"/>
<rect x="58.46" y="415.13" width="5.93" height="5.86" fill="#1650EC"/>
<rect x="58.46" y="411.62" width="5.93" height="3.52" fill="#106A72"/>
<rect x="58.46" y="390.52" width="5.93" height="21.1" fill="#FA0000"/>
<line x1="58.46" y1="434.47" x2="64.38" y2="434.47" stroke="#fff" stroke-width="0.3"/>
<line x1="58.46" y1="428.02" x2="64.38" y2="428.02" stroke="#fff" stroke-width="0.3"/>
<line x1="58.46" y1="426.85" x2="64.38" y2="426.85" stroke="#fff" stroke-width="0.3"/>
<line x1="58.46" y1="423.34" x2="64.38" y2="423.34" stroke="#fff" stroke-width="0.3"/>
<line x1="58.46" y1="420.99" x2="64.38" y2="420.99" stroke="#fff" stroke-width="0.3"/>
<line x1="58.46" y1="415.13" x2="64.38" y2="415.13" stroke="#fff" stroke-width="0.3"/>
<line x1="58.46" y1="411.62" x2="64.38" y2="411.62" stroke="#fff" stroke-width="0.3"/>
<line x1="61.42" y1="437.4" x2="61.42" y2="438.6" stroke="#444" stroke-width="0.35"/>
<text x="62.02" y="442" font-size="4.3" text-anchor="end" fill="#222" transform="rotate(-45 62.02 442)" stroke="#222" stroke-width="0.12">SY20816_8</text>
<rect x="65.28" y="430.37" width="5.93" height="7.03" fill="#A68BD8"/>
<rect x="65.28" y="422.16" width="5.93" height="8.2" fill="#20C6F6"/>
<rect x="65.28" y="419.82" width="5.93" height="2.34" fill="#5EC4D2"/>
<rect x="65.28" y="416.3" width="5.93" height="3.52" fill="#F67E7E"/>
<rect x="65.28" y="413.96" width="5.93" height="2.34" fill="#2C0F57"/>
<rect x="65.28" y="410.44" width="5.93" height="3.52" fill="#106A72"/>
<rect x="65.28" y="406.93" width="5.93" height="3.52" fill="#FA0000"/>
<line x1="65.28" y1="430.37" x2="71.21" y2="430.37" stroke="#fff" stroke-width="0.3"/>
<line x1="65.28" y1="422.16" x2="71.21" y2="422.16" stroke="#fff" stroke-width="0.3"/>
<line x1="65.28" y1="419.82" x2="71.21" y2="419.82" stroke="#fff" stroke-width="0.3"/>
<line x1="65.28" y1="416.3" x2="71.21" y2="416.3" stroke="#fff" stroke-width="0.3"/>
<line x1="65.28" y1="413.96" x2="71.21" y2="413.96" stroke="#fff" stroke-width="0.3"/>
<line x1="65.28" y1="410.44" x2="71.21" y2="410.44" stroke="#fff" stroke-width="0.3"/>
<line x1="68.25" y1="437.4" x2="68.25" y2="438.6" stroke="#444" stroke-width="0.35"/>
<text x="68.85" y="442" font-size="4.3" text-anchor="end" fill="#222" transform="rotate(-45 68.85 442)" stroke="#222" stroke-width="0.12">SY20816_9</text>
<rect x="71.66" y="277.5" width="40.96" height="18.8" fill="#4DBBD5"/>
<text x="92.14" y="289.5" font-size="5.6" text-anchor="middle" fill="#1a1a1a">Rural_YJ</text>
<rect x="71.66" y="296.3" width="40.96" height="141.1" fill="none" stroke="#C8C8C8" stroke-width="0.5"/>
<rect x="72.11" y="435.64" width="5.93" height="1.76" fill="#5EC4D2"/>
<rect x="72.11" y="432.13" width="5.93" height="3.52" fill="#F67E7E"/>
<rect x="72.11" y="430.02" width="5.93" height="2.11" fill="#2C0F57"/>
<rect x="72.11" y="425.68" width="5.93" height="4.34" fill="#106A72"/>
<rect x="72.11" y="417.94" width="5.93" height="7.74" fill="#84A7F6"/>
<line x1="72.11" y1="435.64" x2="78.04" y2="435.64" stroke="#fff" stroke-width="0.3"/>
<line x1="72.11" y1="432.13" x2="78.04" y2="432.13" stroke="#fff" stroke-width="0.3"/>
<line x1="72.11" y1="430.02" x2="78.04" y2="430.02" stroke="#fff" stroke-width="0.3"/>
<line x1="72.11" y1="425.68" x2="78.04" y2="425.68" stroke="#fff" stroke-width="0.3"/>
<line x1="75.08" y1="437.4" x2="75.08" y2="438.6" stroke="#444" stroke-width="0.35"/>
<text x="75.68" y="442" font-size="4.3" text-anchor="end" fill="#222" transform="rotate(-45 75.68 442)" stroke="#222" stroke-width="0.12">YJ200902_80</text>
<rect x="78.94" y="435.64" width="5.93" height="1.76" fill="#5EC4D2"/>
<rect x="78.94" y="432.13" width="5.93" height="3.52" fill="#F67E7E"/>
<rect x="78.94" y="430.02" width="5.93" height="2.11" fill="#2C0F57"/>
<rect x="78.94" y="425.68" width="5.93" height="4.34" fill="#106A72"/>
<rect x="78.94" y="410.44" width="5.93" height="15.24" fill="#FA0000"/>
<line x1="78.94" y1="435.64" x2="84.87" y2="435.64" stroke="#fff" stroke-width="0.3"/>
<line x1="78.94" y1="432.13" x2="84.87" y2="432.13" stroke="#fff" stroke-width="0.3"/>
<line x1="78.94" y1="430.02" x2="84.87" y2="430.02" stroke="#fff" stroke-width="0.3"/>
<line x1="78.94" y1="425.68" x2="84.87" y2="425.68" stroke="#fff" stroke-width="0.3"/>
<line x1="81.9" y1="437.4" x2="81.9" y2="438.6" stroke="#444" stroke-width="0.35"/>
<text x="82.5" y="442" font-size="4.3" text-anchor="end" fill="#222" transform="rotate(-45 82.5 442)" stroke="#222" stroke-width="0.12">YJ200902_81</text>
<rect x="85.77" y="435.64" width="5.93" height="1.76" fill="#5EC4D2"/>
<rect x="85.77" y="432.13" width="5.93" height="3.52" fill="#F67E7E"/>
<rect x="85.77" y="430.02" width="5.93" height="2.11" fill="#2C0F57"/>
<rect x="85.77" y="425.68" width="5.93" height="4.34" fill="#106A72"/>
<rect x="85.77" y="423.8" width="5.93" height="1.88" fill="#FA0000"/>
<line x1="85.77" y1="435.64" x2="91.69" y2="435.64" stroke="#fff" stroke-width="0.3"/>
<line x1="85.77" y1="432.13" x2="91.69" y2="432.13" stroke="#fff" stroke-width="0.3"/>
<line x1="85.77" y1="430.02" x2="91.69" y2="430.02" stroke="#fff" stroke-width="0.3"/>
<line x1="85.77" y1="425.68" x2="91.69" y2="425.68" stroke="#fff" stroke-width="0.3"/>
<line x1="88.73" y1="437.4" x2="88.73" y2="438.6" stroke="#444" stroke-width="0.35"/>
<text x="89.33" y="442" font-size="4.3" text-anchor="end" fill="#222" transform="rotate(-45 89.33 442)" stroke="#222" stroke-width="0.12">YJ200902_83</text>
<rect x="92.59" y="435.64" width="5.93" height="1.76" fill="#5EC4D2"/>
<rect x="92.59" y="432.13" width="5.93" height="3.52" fill="#F67E7E"/>
<rect x="92.59" y="430.37" width="5.93" height="1.76" fill="#2C0F57"/>
<rect x="92.59" y="422.87" width="5.93" height="7.5" fill="#FA0000"/>
<line x1="92.59" y1="435.64" x2="98.52" y2="435.64" stroke="#fff" stroke-width="0.3"/>
<line x1="92.59" y1="432.13" x2="98.52" y2="432.13" stroke="#fff" stroke-width="0.3"/>
<line x1="92.59" y1="430.37" x2="98.52" y2="430.37" stroke="#fff" stroke-width="0.3"/>
<line x1="95.56" y1="437.4" x2="95.56" y2="438.6" stroke="#444" stroke-width="0.35"/>
<text x="96.16" y="442" font-size="4.3" text-anchor="end" fill="#222" transform="rotate(-45 96.16 442)" stroke="#222" stroke-width="0.12">YJ200902_86</text>
<rect x="99.42" y="435.64" width="5.93" height="1.76" fill="#5EC4D2"/>
<rect x="99.42" y="432.13" width="5.93" height="3.52" fill="#F67E7E"/>
<rect x="99.42" y="430.02" width="5.93" height="2.11" fill="#2C0F57"/>
<rect x="99.42" y="425.68" width="5.93" height="4.34" fill="#106A72"/>
<rect x="99.42" y="422.16" width="5.93" height="3.52" fill="#FA0000"/>
<line x1="99.42" y1="435.64" x2="105.35" y2="435.64" stroke="#fff" stroke-width="0.3"/>
<line x1="99.42" y1="432.13" x2="105.35" y2="432.13" stroke="#fff" stroke-width="0.3"/>
<line x1="99.42" y1="430.02" x2="105.35" y2="430.02" stroke="#fff" stroke-width="0.3"/>
<line x1="99.42" y1="425.68" x2="105.35" y2="425.68" stroke="#fff" stroke-width="0.3"/>
<line x1="102.38" y1="437.4" x2="102.38" y2="438.6" stroke="#444" stroke-width="0.35"/>
<text x="102.98" y="442" font-size="4.3" text-anchor="end" fill="#222" transform="rotate(-45 102.98 442)" stroke="#222" stroke-width="0.12">YJ200902_87</text>
<rect x="106.25" y="435.64" width="5.93" height="1.76" fill="#5EC4D2"/>
<rect x="106.25" y="432.13" width="5.93" height="3.52" fill="#F67E7E"/>
<rect x="106.25" y="430.37" width="5.93" height="1.76" fill="#2C0F57"/>
<rect x="106.25" y="421.58" width="5.93" height="8.79" fill="#84A7F6"/>
<line x1="106.25" y1="435.64" x2="112.17" y2="435.64" stroke="#fff" stroke-width="0.3"/>
<line x1="106.25" y1="432.13" x2="112.17" y2="432.13" stroke="#fff" stroke-width="0.3"/>
<line x1="106.25" y1="430.37" x2="112.17" y2="430.37" stroke="#fff" stroke-width="0.3"/>
<line x1="109.21" y1="437.4" x2="109.21" y2="438.6" stroke="#444" stroke-width="0.35"/>
<text x="109.81" y="442" font-size="4.3" text-anchor="end" fill="#222" transform="rotate(-45 109.81 442)" stroke="#222" stroke-width="0.12">YJ200902_88</text>
<rect x="112.62" y="277.5" width="40.96" height="18.8" fill="#00A087"/>
<text x="133.11" y="285.2" font-size="5.2" text-anchor="middle" fill="#1a1a1a">Subadult</text>
<text x="133.11" y="291.8" font-size="5.2" text-anchor="middle" fill="#1a1a1a">female</text>
<rect x="112.62" y="296.3" width="40.96" height="141.1" fill="none" stroke="#C8C8C8" stroke-width="0.5"/>
<rect x="113.07" y="426.27" width="5.93" height="11.13" fill="#20C6F6"/>
<rect x="113.07" y="424.51" width="5.93" height="1.76" fill="#5EC4D2"/>
<rect x="113.07" y="421.58" width="5.93" height="2.93" fill="#F67E7E"/>
<rect x="113.07" y="418.65" width="5.93" height="2.93" fill="#2C0F57"/>
<rect x="113.07" y="414.55" width="5.93" height="4.1" fill="#106A72"/>
<rect x="113.07" y="410.44" width="5.93" height="4.1" fill="#FDBA00"/>
<rect x="113.07" y="400.48" width="5.93" height="9.96" fill="#FA0000"/>
<rect x="113.07" y="395.21" width="5.93" height="5.27" fill="#84A7F6"/>
<line x1="113.07" y1="426.27" x2="119" y2="426.27" stroke="#fff" stroke-width="0.3"/>
<line x1="113.07" y1="424.51" x2="119" y2="424.51" stroke="#fff" stroke-width="0.3"/>
<line x1="113.07" y1="421.58" x2="119" y2="421.58" stroke="#fff" stroke-width="0.3"/>
<line x1="113.07" y1="418.65" x2="119" y2="418.65" stroke="#fff" stroke-width="0.3"/>
<line x1="113.07" y1="414.55" x2="119" y2="414.55" stroke="#fff" stroke-width="0.3"/>
<line x1="113.07" y1="410.44" x2="119" y2="410.44" stroke="#fff" stroke-width="0.3"/>
<line x1="113.07" y1="400.48" x2="119" y2="400.48" stroke="#fff" stroke-width="0.3"/>
<line x1="116.04" y1="437.4" x2="116.04" y2="438.6" stroke="#444" stroke-width="0.35"/>
<text x="116.64" y="442" font-size="4.3" text-anchor="end" fill="#222" transform="rotate(-45 116.64 442)" stroke="#222" stroke-width="0.12">AC200716_3</text>
<rect x="119.9" y="418.65" width="5.93" height="18.75" fill="#A68BD8"/>
<rect x="119.9" y="377.63" width="5.93" height="41.02" fill="#20C6F6"/>
<rect x="119.9" y="375.87" width="5.93" height="1.76" fill="#5EC4D2"/>
<rect x="119.9" y="373.53" width="5.93" height="2.34" fill="#F67E7E"/>
<rect x="119.9" y="371.18" width="5.93" height="2.34" fill="#2C0F57"/>
<rect x="119.9" y="367.08" width="5.93" height="4.1" fill="#106A72"/>
<rect x="119.9" y="361.22" width="5.93" height="5.86" fill="#FA0000"/>
<rect x="119.9" y="353.02" width="5.93" height="8.2" fill="#E28EF2"/>
<line x1="119.9" y1="418.65" x2="125.83" y2="418.65" stroke="#fff" stroke-width="0.3"/>
<line x1="119.9" y1="377.63" x2="125.83" y2="377.63" stroke="#fff" stroke-width="0.3"/>
<line x1="119.9" y1="375.87" x2="125.83" y2="375.87" stroke="#fff" stroke-width="0.3"/>
<line x1="119.9" y1="373.53" x2="125.83" y2="373.53" stroke="#fff" stroke-width="0.3"/>
<line x1="119.9" y1="371.18" x2="125.83" y2="371.18" stroke="#fff" stroke-width="0.3"/>
<line x1="119.9" y1="367.08" x2="125.83" y2="367.08" stroke="#fff" stroke-width="0.3"/>
<line x1="119.9" y1="361.22" x2="125.83" y2="361.22" stroke="#fff" stroke-width="0.3"/>
<line x1="122.86" y1="437.4" x2="122.86" y2="438.6" stroke="#444" stroke-width="0.35"/>
<text x="123.46" y="442" font-size="4.3" text-anchor="end" fill="#222" transform="rotate(-45 123.46 442)" stroke="#222" stroke-width="0.12">AC200716_18</text>
<rect x="126.73" y="418.65" width="5.93" height="18.75" fill="#A68BD8"/>
<rect x="126.73" y="376.46" width="5.93" height="42.19" fill="#20C6F6"/>
<rect x="126.73" y="375.28" width="5.93" height="1.17" fill="#5EC4D2"/>
<rect x="126.73" y="364.74" width="5.93" height="10.55" fill="#F8A47F"/>
<rect x="126.73" y="360.63" width="5.93" height="4.1" fill="#F67E7E"/>
<rect x="126.73" y="358.29" width="5.93" height="2.34" fill="#2C0F57"/>
<rect x="126.73" y="355.36" width="5.93" height="2.93" fill="#106A72"/>
<rect x="126.73" y="353.6" width="5.93" height="1.76" fill="#FDBA00"/>
<rect x="126.73" y="347.16" width="5.93" height="6.45" fill="#FA0000"/>
<rect x="126.73" y="343.05" width="5.93" height="4.1" fill="#84A7F6"/>
<line x1="126.73" y1="418.65" x2="132.66" y2="418.65" stroke="#fff" stroke-width="0.3"/>
<line x1="126.73" y1="376.46" x2="132.66" y2="376.46" stroke="#fff" stroke-width="0.3"/>
<line x1="126.73" y1="375.28" x2="132.66" y2="375.28" stroke="#fff" stroke-width="0.3"/>
<line x1="126.73" y1="364.74" x2="132.66" y2="364.74" stroke="#fff" stroke-width="0.3"/>
<line x1="126.73" y1="360.63" x2="132.66" y2="360.63" stroke="#fff" stroke-width="0.3"/>
<line x1="126.73" y1="358.29" x2="132.66" y2="358.29" stroke="#fff" stroke-width="0.3"/>
<line x1="126.73" y1="355.36" x2="132.66" y2="355.36" stroke="#fff" stroke-width="0.3"/>
<line x1="126.73" y1="353.6" x2="132.66" y2="353.6" stroke="#fff" stroke-width="0.3"/>
<line x1="126.73" y1="347.16" x2="132.66" y2="347.16" stroke="#fff" stroke-width="0.3"/>
<line x1="129.69" y1="437.4" x2="129.69" y2="438.6" stroke="#444" stroke-width="0.35"/>
<text x="130.29" y="442" font-size="4.3" text-anchor="end" fill="#222" transform="rotate(-45 130.29 442)" stroke="#222" stroke-width="0.12">AC200716_25</text>
<rect x="133.56" y="422.16" width="5.93" height="15.24" fill="#A68BD8"/>
<rect x="133.56" y="375.28" width="5.93" height="46.88" fill="#20C6F6"/>
<rect x="133.56" y="374.11" width="5.93" height="1.17" fill="#5EC4D2"/>
<rect x="133.56" y="333.09" width="5.93" height="41.02" fill="#F8A47F"/>
<rect x="133.56" y="329.58" width="5.93" height="3.52" fill="#F67E7E"/>
<rect x="133.56" y="327.23" width="5.93" height="2.34" fill="#2C0F57"/>
<rect x="133.56" y="323.72" width="5.93" height="3.52" fill="#106A72"/>
<rect x="133.56" y="321.96" width="5.93" height="1.76" fill="#FDBA00"/>
<rect x="133.56" y="316.68" width="5.93" height="5.27" fill="#FA0000"/>
<line x1="133.56" y1="422.16" x2="139.48" y2="422.16" stroke="#fff" stroke-width="0.3"/>
<line x1="133.56" y1="375.28" x2="139.48" y2="375.28" stroke="#fff" stroke-width="0.3"/>
<line x1="133.56" y1="374.11" x2="139.48" y2="374.11" stroke="#fff" stroke-width="0.3"/>
<line x1="133.56" y1="333.09" x2="139.48" y2="333.09" stroke="#fff" stroke-width="0.3"/>
<line x1="133.56" y1="329.58" x2="139.48" y2="329.58" stroke="#fff" stroke-width="0.3"/>
<line x1="133.56" y1="327.23" x2="139.48" y2="327.23" stroke="#fff" stroke-width="0.3"/>
<line x1="133.56" y1="323.72" x2="139.48" y2="323.72" stroke="#fff" stroke-width="0.3"/>
<line x1="133.56" y1="321.96" x2="139.48" y2="321.96" stroke="#fff" stroke-width="0.3"/>
<line x1="136.52" y1="437.4" x2="136.52" y2="438.6" stroke="#444" stroke-width="0.35"/>
<text x="137.12" y="442" font-size="4.3" text-anchor="end" fill="#222" transform="rotate(-45 137.12 442)" stroke="#222" stroke-width="0.12">AC200716_26</text>
<rect x="140.38" y="423.92" width="5.93" height="13.48" fill="#A68BD8"/>
<rect x="140.38" y="385.25" width="5.93" height="38.68" fill="#20C6F6"/>
<rect x="140.38" y="383.49" width="5.93" height="1.76" fill="#5EC4D2"/>
<rect x="140.38" y="380.56" width="5.93" height="2.93" fill="#F67E7E"/>
<rect x="140.38" y="378.21" width="5.93" height="2.34" fill="#2C0F57"/>
<rect x="140.38" y="374.7" width="5.93" height="3.52" fill="#106A72"/>
<rect x="140.38" y="370.6" width="5.93" height="4.1" fill="#FA0000"/>
<line x1="140.38" y1="423.92" x2="146.31" y2="423.92" stroke="#fff" stroke-width="0.3"/>
<line x1="140.38" y1="385.25" x2="146.31" y2="385.25" stroke="#fff" stroke-width="0.3"/>
<line x1="140.38" y1="383.49" x2="146.31" y2="383.49" stroke="#fff" stroke-width="0.3"/>
<line x1="140.38" y1="380.56" x2="146.31" y2="380.56" stroke="#fff" stroke-width="0.3"/>
<line x1="140.38" y1="378.21" x2="146.31" y2="378.21" stroke="#fff" stroke-width="0.3"/>
<line x1="140.38" y1="374.7" x2="146.31" y2="374.7" stroke="#fff" stroke-width="0.3"/>
<line x1="143.35" y1="437.4" x2="143.35" y2="438.6" stroke="#444" stroke-width="0.35"/>
<text x="143.95" y="442" font-size="4.3" text-anchor="end" fill="#222" transform="rotate(-45 143.95 442)" stroke="#222" stroke-width="0.12">AC200716_33</text>
<rect x="147.21" y="424.51" width="5.93" height="12.89" fill="#A68BD8"/>
<rect x="147.21" y="389.35" width="5.93" height="35.16" fill="#20C6F6"/>
<rect x="147.21" y="387.59" width="5.93" height="1.76" fill="#5EC4D2"/>
<rect x="147.21" y="384.66" width="5.93" height="2.93" fill="#F67E7E"/>
<rect x="147.21" y="382.32" width="5.93" height="2.34" fill="#2C0F57"/>
<rect x="147.21" y="378.8" width="5.93" height="3.52" fill="#106A72"/>
<rect x="147.21" y="375.28" width="5.93" height="3.52" fill="#FA0000"/>
<line x1="147.21" y1="424.51" x2="153.14" y2="424.51" stroke="#fff" stroke-width="0.3"/>
<line x1="147.21" y1="389.35" x2="153.14" y2="389.35" stroke="#fff" stroke-width="0.3"/>
<line x1="147.21" y1="387.59" x2="153.14" y2="387.59" stroke="#fff" stroke-width="0.3"/>
<line x1="147.21" y1="384.66" x2="153.14" y2="384.66" stroke="#fff" stroke-width="0.3"/>
<line x1="147.21" y1="382.32" x2="153.14" y2="382.32" stroke="#fff" stroke-width="0.3"/>
<line x1="147.21" y1="378.8" x2="153.14" y2="378.8" stroke="#fff" stroke-width="0.3"/>
<line x1="150.17" y1="437.4" x2="150.17" y2="438.6" stroke="#444" stroke-width="0.35"/>
<text x="150.77" y="442" font-size="4.3" text-anchor="end" fill="#222" transform="rotate(-45 150.77 442)" stroke="#222" stroke-width="0.12">AC200716_5</text>
<rect x="153.59" y="277.5" width="27.31" height="18.8" fill="#3C5488"/>
<text x="167.24" y="285.2" font-size="5.2" text-anchor="middle" fill="#1a1a1a">Subadult</text>
<text x="167.24" y="291.8" font-size="5.2" text-anchor="middle" fill="#1a1a1a">male</text>
<rect x="153.59" y="296.3" width="27.31" height="141.1" fill="none" stroke="#C8C8C8" stroke-width="0.5"/>
<rect x="154.04" y="428.02" width="5.93" height="9.38" fill="#A68BD8"/>
<rect x="154.04" y="384.66" width="5.93" height="43.36" fill="#20C6F6"/>
<rect x="154.04" y="383.49" width="5.93" height="1.17" fill="#5EC4D2"/>
<rect x="154.04" y="380.56" width="5.93" height="2.93" fill="#F67E7E"/>
<rect x="154.04" y="377.63" width="5.93" height="2.93" fill="#2C0F57"/>
<rect x="154.04" y="373.53" width="5.93" height="4.1" fill="#106A72"/>
<rect x="154.04" y="362.98" width="5.93" height="10.55" fill="#FDBA00"/>
<rect x="154.04" y="354.19" width="5.93" height="8.79" fill="#FA0000"/>
<line x1="154.04" y1="428.02" x2="159.96" y2="428.02" stroke="#fff" stroke-width="0.3"/>
<line x1="154.04" y1="384.66" x2="159.96" y2="384.66" stroke="#fff" stroke-width="0.3"/>
<line x1="154.04" y1="383.49" x2="159.96" y2="383.49" stroke="#fff" stroke-width="0.3"/>
<line x1="154.04" y1="380.56" x2="159.96" y2="380.56" stroke="#fff" stroke-width="0.3"/>
<line x1="154.04" y1="377.63" x2="159.96" y2="377.63" stroke="#fff" stroke-width="0.3"/>
<line x1="154.04" y1="373.53" x2="159.96" y2="373.53" stroke="#fff" stroke-width="0.3"/>
<line x1="154.04" y1="362.98" x2="159.96" y2="362.98" stroke="#fff" stroke-width="0.3"/>
<line x1="157" y1="437.4" x2="157" y2="438.6" stroke="#444" stroke-width="0.35"/>
<text x="157.6" y="442" font-size="4.3" text-anchor="end" fill="#222" transform="rotate(-45 157.6 442)" stroke="#222" stroke-width="0.12">AC200717_2</text>
<rect x="160.86" y="425.68" width="5.93" height="11.72" fill="#A68BD8"/>
<rect x="160.86" y="383.49" width="5.93" height="42.19" fill="#20C6F6"/>
<rect x="160.86" y="382.32" width="5.93" height="1.17" fill="#5EC4D2"/>
<rect x="160.86" y="379.39" width="5.93" height="2.93" fill="#F67E7E"/>
<rect x="160.86" y="377.04" width="5.93" height="2.34" fill="#2C0F57"/>
<rect x="160.86" y="372.94" width="5.93" height="4.1" fill="#106A72"/>
<rect x="160.86" y="369.42" width="5.93" height="3.52" fill="#FDBA00"/>
<rect x="160.86" y="361.22" width="5.93" height="8.2" fill="#FA0000"/>
<line x1="160.86" y1="425.68" x2="166.79" y2="425.68" stroke="#fff" stroke-width="0.3"/>
<line x1="160.86" y1="383.49" x2="166.79" y2="383.49" stroke="#fff" stroke-width="0.3"/>
<line x1="160.86" y1="382.32" x2="166.79" y2="382.32" stroke="#fff" stroke-width="0.3"/>
<line x1="160.86" y1="379.39" x2="166.79" y2="379.39" stroke="#fff" stroke-width="0.3"/>
<line x1="160.86" y1="377.04" x2="166.79" y2="377.04" stroke="#fff" stroke-width="0.3"/>
<line x1="160.86" y1="372.94" x2="166.79" y2="372.94" stroke="#fff" stroke-width="0.3"/>
<line x1="160.86" y1="369.42" x2="166.79" y2="369.42" stroke="#fff" stroke-width="0.3"/>
<line x1="163.83" y1="437.4" x2="163.83" y2="438.6" stroke="#444" stroke-width="0.35"/>
<text x="164.43" y="442" font-size="4.3" text-anchor="end" fill="#222" transform="rotate(-45 164.43 442)" stroke="#222" stroke-width="0.12">AC200717_20</text>
<rect x="167.69" y="428.02" width="5.93" height="9.38" fill="#A68BD8"/>
<rect x="167.69" y="385.83" width="5.93" height="42.19" fill="#20C6F6"/>
<rect x="167.69" y="384.66" width="5.93" height="1.17" fill="#5EC4D2"/>
<rect x="167.69" y="381.14" width="5.93" height="3.52" fill="#F67E7E"/>
<rect x="167.69" y="378.8" width="5.93" height="2.34" fill="#2C0F57"/>
<rect x="167.69" y="375.28" width="5.93" height="3.52" fill="#106A72"/>
<rect x="167.69" y="373.53" width="5.93" height="1.76" fill="#FDBA00"/>
<rect x="167.69" y="366.49" width="5.93" height="7.03" fill="#FA0000"/>
<rect x="167.69" y="340.71" width="5.93" height="25.78" fill="#E28EF2"/>
<rect x="167.69" y="334.62" width="5.93" height="6.09" fill="#84A7F6"/>
<line x1="167.69" y1="428.02" x2="173.62" y2="428.02" stroke="#fff" stroke-width="0.3"/>
<line x1="167.69" y1="385.83" x2="173.62" y2="385.83" stroke="#fff" stroke-width="0.3"/>
<line x1="167.69" y1="384.66" x2="173.62" y2="384.66" stroke="#fff" stroke-width="0.3"/>
<line x1="167.69" y1="381.14" x2="173.62" y2="381.14" stroke="#fff" stroke-width="0.3"/>
<line x1="167.69" y1="378.8" x2="173.62" y2="378.8" stroke="#fff" stroke-width="0.3"/>
<line x1="167.69" y1="375.28" x2="173.62" y2="375.28" stroke="#fff" stroke-width="0.3"/>
<line x1="167.69" y1="373.53" x2="173.62" y2="373.53" stroke="#fff" stroke-width="0.3"/>
<line x1="167.69" y1="366.49" x2="173.62" y2="366.49" stroke="#fff" stroke-width="0.3"/>
<line x1="167.69" y1="340.71" x2="173.62" y2="340.71" stroke="#fff" stroke-width="0.3"/>
<line x1="170.65" y1="437.4" x2="170.65" y2="438.6" stroke="#444" stroke-width="0.35"/>
<text x="171.25" y="442" font-size="4.3" text-anchor="end" fill="#222" transform="rotate(-45 171.25 442)" stroke="#222" stroke-width="0.12">AC200718_3</text>
<rect x="174.52" y="428.61" width="5.93" height="8.79" fill="#A68BD8"/>
<rect x="174.52" y="398.72" width="5.93" height="29.89" fill="#20C6F6"/>
<rect x="174.52" y="397.55" width="5.93" height="1.17" fill="#5EC4D2"/>
<rect x="174.52" y="394.62" width="5.93" height="2.93" fill="#F67E7E"/>
<rect x="174.52" y="392.86" width="5.93" height="1.76" fill="#2C0F57"/>
<rect x="174.52" y="390.52" width="5.93" height="2.34" fill="#106A72"/>
<rect x="174.52" y="385.83" width="5.93" height="4.69" fill="#FA0000"/>
<line x1="174.52" y1="428.61" x2="180.44" y2="428.61" stroke="#fff" stroke-width="0.3"/>
<line x1="174.52" y1="398.72" x2="180.44" y2="398.72" stroke="#fff" stroke-width="0.3"/>
<line x1="174.52" y1="397.55" x2="180.44" y2="397.55" stroke="#fff" stroke-width="0.3"/>
<line x1="174.52" y1="394.62" x2="180.44" y2="394.62" stroke="#fff" stroke-width="0.3"/>
<line x1="174.52" y1="392.86" x2="180.44" y2="392.86" stroke="#fff" stroke-width="0.3"/>
<line x1="174.52" y1="390.52" x2="180.44" y2="390.52" stroke="#fff" stroke-width="0.3"/>
<line x1="177.48" y1="437.4" x2="177.48" y2="438.6" stroke="#444" stroke-width="0.35"/>
<text x="178.08" y="442" font-size="4.3" text-anchor="end" fill="#222" transform="rotate(-45 178.08 442)" stroke="#222" stroke-width="0.12">AC200718_11</text>
<rect x="180.89" y="277.5" width="40.96" height="18.8" fill="#F39B7F"/>
<text x="201.38" y="289.5" font-size="5.6" text-anchor="middle" fill="#1a1a1a">t1</text>
<rect x="180.89" y="296.3" width="40.96" height="141.1" fill="none" stroke="#C8C8C8" stroke-width="0.5"/>
<rect x="181.34" y="431.54" width="5.93" height="5.86" fill="#A68BD8"/>
<rect x="181.34" y="418.06" width="5.93" height="13.48" fill="#20C6F6"/>
<rect x="181.34" y="416.89" width="5.93" height="1.17" fill="#5EC4D2"/>
<rect x="181.34" y="412.79" width="5.93" height="4.1" fill="#F67E7E"/>
<rect x="181.34" y="411.62" width="5.93" height="1.17" fill="#2C0F57"/>
<rect x="181.34" y="381.14" width="5.93" height="30.47" fill="#1650EC"/>
<rect x="181.34" y="376.46" width="5.93" height="4.69" fill="#106A72"/>
<rect x="181.34" y="341.3" width="5.93" height="35.16" fill="#FDBA00"/>
<rect x="181.34" y="329.11" width="5.93" height="12.19" fill="#FA0000"/>
<line x1="181.34" y1="431.54" x2="187.27" y2="431.54" stroke="#fff" stroke-width="0.3"/>
<line x1="181.34" y1="418.06" x2="187.27" y2="418.06" stroke="#fff" stroke-width="0.3"/>
<line x1="181.34" y1="416.89" x2="187.27" y2="416.89" stroke="#fff" stroke-width="0.3"/>
<line x1="181.34" y1="412.79" x2="187.27" y2="412.79" stroke="#fff" stroke-width="0.3"/>
<line x1="181.34" y1="411.62" x2="187.27" y2="411.62" stroke="#fff" stroke-width="0.3"/>
<line x1="181.34" y1="381.14" x2="187.27" y2="381.14" stroke="#fff" stroke-width="0.3"/>
<line x1="181.34" y1="376.46" x2="187.27" y2="376.46" stroke="#fff" stroke-width="0.3"/>
<line x1="181.34" y1="341.3" x2="187.27" y2="341.3" stroke="#fff" stroke-width="0.3"/>
<line x1="184.31" y1="437.4" x2="184.31" y2="438.6" stroke="#444" stroke-width="0.35"/>
<text x="184.91" y="442" font-size="4.3" text-anchor="end" fill="#222" transform="rotate(-45 184.91 442)" stroke="#222" stroke-width="0.12">AC200828_3</text>
<rect x="188.17" y="435.06" width="5.93" height="2.34" fill="#5EC4D2"/>
<rect x="188.17" y="384.07" width="5.93" height="50.98" fill="#F8A47F"/>
<rect x="188.17" y="381.14" width="5.93" height="2.93" fill="#F67E7E"/>
<rect x="188.17" y="371.77" width="5.93" height="9.38" fill="#2C0F57"/>
<rect x="188.17" y="358.88" width="5.93" height="12.89" fill="#1650EC"/>
<rect x="188.17" y="355.36" width="5.93" height="3.52" fill="#106A72"/>
<rect x="188.17" y="353.02" width="5.93" height="2.34" fill="#FDBA00"/>
<rect x="188.17" y="348.33" width="5.93" height="4.69" fill="#FA0000"/>
<rect x="188.17" y="343.64" width="5.93" height="4.69" fill="#84A7F6"/>
<line x1="188.17" y1="435.06" x2="194.1" y2="435.06" stroke="#fff" stroke-width="0.3"/>
<line x1="188.17" y1="384.07" x2="194.1" y2="384.07" stroke="#fff" stroke-width="0.3"/>
<line x1="188.17" y1="381.14" x2="194.1" y2="381.14" stroke="#fff" stroke-width="0.3"/>
<line x1="188.17" y1="371.77" x2="194.1" y2="371.77" stroke="#fff" stroke-width="0.3"/>
<line x1="188.17" y1="358.88" x2="194.1" y2="358.88" stroke="#fff" stroke-width="0.3"/>
<line x1="188.17" y1="355.36" x2="194.1" y2="355.36" stroke="#fff" stroke-width="0.3"/>
<line x1="188.17" y1="353.02" x2="194.1" y2="353.02" stroke="#fff" stroke-width="0.3"/>
<line x1="188.17" y1="348.33" x2="194.1" y2="348.33" stroke="#fff" stroke-width="0.3"/>
<line x1="191.13" y1="437.4" x2="191.13" y2="438.6" stroke="#444" stroke-width="0.35"/>
<text x="191.73" y="442" font-size="4.3" text-anchor="end" fill="#222" transform="rotate(-45 191.73 442)" stroke="#222" stroke-width="0.12">AC200828_4</text>
<rect x="195" y="433.88" width="5.93" height="3.52" fill="#A68BD8"/>
<rect x="195" y="421.58" width="5.93" height="12.31" fill="#20C6F6"/>
<rect x="195" y="420.41" width="5.93" height="1.17" fill="#5EC4D2"/>
<rect x="195" y="398.72" width="5.93" height="21.68" fill="#F8A47F"/>
<rect x="195" y="395.21" width="5.93" height="3.52" fill="#F67E7E"/>
<rect x="195" y="390.52" width="5.93" height="4.69" fill="#2C0F57"/>
<rect x="195" y="387" width="5.93" height="3.52" fill="#106A72"/>
<rect x="195" y="382.32" width="5.93" height="4.69" fill="#FA0000"/>
<rect x="195" y="373.29" width="5.93" height="9.02" fill="#84A7F6"/>
<line x1="195" y1="433.88" x2="200.92" y2="433.88" stroke="#fff" stroke-width="0.3"/>
<line x1="195" y1="421.58" x2="200.92" y2="421.58" stroke="#fff" stroke-width="0.3"/>
<line x1="195" y1="420.41" x2="200.92" y2="420.41" stroke="#fff" stroke-width="0.3"/>
<line x1="195" y1="398.72" x2="200.92" y2="398.72" stroke="#fff" stroke-width="0.3"/>
<line x1="195" y1="395.21" x2="200.92" y2="395.21" stroke="#fff" stroke-width="0.3"/>
<line x1="195" y1="390.52" x2="200.92" y2="390.52" stroke="#fff" stroke-width="0.3"/>
<line x1="195" y1="387" x2="200.92" y2="387" stroke="#fff" stroke-width="0.3"/>
<line x1="195" y1="382.32" x2="200.92" y2="382.32" stroke="#fff" stroke-width="0.3"/>
<line x1="197.96" y1="437.4" x2="197.96" y2="438.6" stroke="#444" stroke-width="0.35"/>
<text x="198.56" y="442" font-size="4.3" text-anchor="end" fill="#222" transform="rotate(-45 198.56 442)" stroke="#222" stroke-width="0.12">AC200828_6</text>
<rect x="201.82" y="433.88" width="5.93" height="3.52" fill="#A68BD8"/>
<rect x="201.82" y="431.54" width="5.93" height="2.34" fill="#5EC4D2"/>
<rect x="201.82" y="336.61" width="5.93" height="94.93" fill="#F8A47F"/>
<rect x="201.82" y="333.09" width="5.93" height="3.52" fill="#F67E7E"/>
<rect x="201.82" y="331.33" width="5.93" height="1.76" fill="#2C0F57"/>
<rect x="201.82" y="328.4" width="5.93" height="2.93" fill="#106A72"/>
<rect x="201.82" y="320.2" width="5.93" height="8.2" fill="#FDBA00"/>
<rect x="201.82" y="314.34" width="5.93" height="5.86" fill="#FA0000"/>
<line x1="201.82" y1="433.88" x2="207.75" y2="433.88" stroke="#fff" stroke-width="0.3"/>
<line x1="201.82" y1="431.54" x2="207.75" y2="431.54" stroke="#fff" stroke-width="0.3"/>
<line x1="201.82" y1="336.61" x2="207.75" y2="336.61" stroke="#fff" stroke-width="0.3"/>
<line x1="201.82" y1="333.09" x2="207.75" y2="333.09" stroke="#fff" stroke-width="0.3"/>
<line x1="201.82" y1="331.33" x2="207.75" y2="331.33" stroke="#fff" stroke-width="0.3"/>
<line x1="201.82" y1="328.4" x2="207.75" y2="328.4" stroke="#fff" stroke-width="0.3"/>
<line x1="201.82" y1="320.2" x2="207.75" y2="320.2" stroke="#fff" stroke-width="0.3"/>
<line x1="204.79" y1="437.4" x2="204.79" y2="438.6" stroke="#444" stroke-width="0.35"/>
<text x="205.39" y="442" font-size="4.3" text-anchor="end" fill="#222" transform="rotate(-45 205.39 442)" stroke="#222" stroke-width="0.12">AC200828_10</text>
<rect x="208.65" y="433.88" width="5.93" height="3.52" fill="#A68BD8"/>
<rect x="208.65" y="431.54" width="5.93" height="2.34" fill="#5EC4D2"/>
<rect x="208.65" y="331.92" width="5.93" height="99.62" fill="#F8A47F"/>
<rect x="208.65" y="329.58" width="5.93" height="2.34" fill="#F67E7E"/>
<rect x="208.65" y="327.23" width="5.93" height="2.34" fill="#2C0F57"/>
<rect x="208.65" y="321.37" width="5.93" height="5.86" fill="#1650EC"/>
<rect x="208.65" y="320.2" width="5.93" height="1.17" fill="#106A72"/>
<rect x="208.65" y="316.68" width="5.93" height="3.52" fill="#FA0000"/>
<line x1="208.65" y1="433.88" x2="214.58" y2="433.88" stroke="#fff" stroke-width="0.3"/>
<line x1="208.65" y1="431.54" x2="214.58" y2="431.54" stroke="#fff" stroke-width="0.3"/>
<line x1="208.65" y1="331.92" x2="214.58" y2="331.92" stroke="#fff" stroke-width="0.3"/>
<line x1="208.65" y1="329.58" x2="214.58" y2="329.58" stroke="#fff" stroke-width="0.3"/>
<line x1="208.65" y1="327.23" x2="214.58" y2="327.23" stroke="#fff" stroke-width="0.3"/>
<line x1="208.65" y1="321.37" x2="214.58" y2="321.37" stroke="#fff" stroke-width="0.3"/>
<line x1="208.65" y1="320.2" x2="214.58" y2="320.2" stroke="#fff" stroke-width="0.3"/>
<line x1="211.62" y1="437.4" x2="211.62" y2="438.6" stroke="#444" stroke-width="0.35"/>
<text x="212.22" y="442" font-size="4.3" text-anchor="end" fill="#222" transform="rotate(-45 212.22 442)" stroke="#222" stroke-width="0.12">AC200828_14</text>
<rect x="215.48" y="435.64" width="5.93" height="1.76" fill="#A68BD8"/>
<rect x="215.48" y="432.13" width="5.93" height="3.52" fill="#20C6F6"/>
<rect x="215.48" y="395.21" width="5.93" height="36.92" fill="#F8A47F"/>
<rect x="215.48" y="392.86" width="5.93" height="2.34" fill="#F67E7E"/>
<rect x="215.48" y="390.52" width="5.93" height="2.34" fill="#2C0F57"/>
<rect x="215.48" y="385.83" width="5.93" height="4.69" fill="#106A72"/>
<rect x="215.48" y="383.49" width="5.93" height="2.34" fill="#FDBA00"/>
<rect x="215.48" y="380.32" width="5.93" height="3.16" fill="#FA0000"/>
<line x1="215.48" y1="435.64" x2="221.41" y2="435.64" stroke="#fff" stroke-width="0.3"/>
<line x1="215.48" y1="432.13" x2="221.41" y2="432.13" stroke="#fff" stroke-width="0.3"/>
<line x1="215.48" y1="395.21" x2="221.41" y2="395.21" stroke="#fff" stroke-width="0.3"/>
<line x1="215.48" y1="392.86" x2="221.41" y2="392.86" stroke="#fff" stroke-width="0.3"/>
<line x1="215.48" y1="390.52" x2="221.41" y2="390.52" stroke="#fff" stroke-width="0.3"/>
<line x1="215.48" y1="385.83" x2="221.41" y2="385.83" stroke="#fff" stroke-width="0.3"/>
<line x1="215.48" y1="383.49" x2="221.41" y2="383.49" stroke="#fff" stroke-width="0.3"/>
<line x1="218.44" y1="437.4" x2="218.44" y2="438.6" stroke="#444" stroke-width="0.35"/>
<text x="219.04" y="442" font-size="4.3" text-anchor="end" fill="#222" transform="rotate(-45 219.04 442)" stroke="#222" stroke-width="0.12">AC200828_15</text>
<rect x="221.86" y="277.5" width="40.96" height="18.8" fill="#8491B4"/>
<text x="242.34" y="289.5" font-size="5.6" text-anchor="middle" fill="#1a1a1a">t2</text>
<rect x="221.86" y="296.3" width="40.96" height="141.1" fill="none" stroke="#C8C8C8" stroke-width="0.5"/>
<rect x="222.31" y="433.88" width="5.93" height="3.52" fill="#A68BD8"/>
<rect x="222.31" y="426.85" width="5.93" height="7.03" fill="#20C6F6"/>
<rect x="222.31" y="353.02" width="5.93" height="73.84" fill="#F8A47F"/>
<rect x="222.31" y="349.5" width="5.93" height="3.52" fill="#F67E7E"/>
<rect x="222.31" y="347.16" width="5.93" height="2.34" fill="#2C0F57"/>
<rect x="222.31" y="343.64" width="5.93" height="3.52" fill="#106A72"/>
<rect x="222.31" y="341.3" width="5.93" height="2.34" fill="#FDBA00"/>
<rect x="222.31" y="334.26" width="5.93" height="7.03" fill="#FA0000"/>
<rect x="222.31" y="327.82" width="5.93" height="6.45" fill="#84A7F6"/>
<line x1="222.31" y1="433.88" x2="228.23" y2="433.88" stroke="#fff" stroke-width="0.3"/>
<line x1="222.31" y1="426.85" x2="228.23" y2="426.85" stroke="#fff" stroke-width="0.3"/>
<line x1="222.31" y1="353.02" x2="228.23" y2="353.02" stroke="#fff" stroke-width="0.3"/>
<line x1="222.31" y1="349.5" x2="228.23" y2="349.5" stroke="#fff" stroke-width="0.3"/>
<line x1="222.31" y1="347.16" x2="228.23" y2="347.16" stroke="#fff" stroke-width="0.3"/>
<line x1="222.31" y1="343.64" x2="228.23" y2="343.64" stroke="#fff" stroke-width="0.3"/>
<line x1="222.31" y1="341.3" x2="228.23" y2="341.3" stroke="#fff" stroke-width="0.3"/>
<line x1="222.31" y1="334.26" x2="228.23" y2="334.26" stroke="#fff" stroke-width="0.3"/>
<line x1="225.27" y1="437.4" x2="225.27" y2="438.6" stroke="#444" stroke-width="0.35"/>
<text x="225.87" y="442" font-size="4.3" text-anchor="end" fill="#222" transform="rotate(-45 225.87 442)" stroke="#222" stroke-width="0.12">AC200910_1</text>
<rect x="229.13" y="436.23" width="5.93" height="1.17" fill="#A68BD8"/>
<rect x="229.13" y="425.68" width="5.93" height="10.55" fill="#20C6F6"/>
<rect x="229.13" y="423.34" width="5.93" height="2.34" fill="#F8A47F"/>
<rect x="229.13" y="420.99" width="5.93" height="2.34" fill="#F67E7E"/>
<rect x="229.13" y="418.65" width="5.93" height="2.34" fill="#2C0F57"/>
<rect x="229.13" y="414.55" width="5.93" height="4.1" fill="#106A72"/>
<rect x="229.13" y="411.03" width="5.93" height="3.52" fill="#FA0000"/>
<line x1="229.13" y1="436.23" x2="235.06" y2="436.23" stroke="#fff" stroke-width="0.3"/>
<line x1="229.13" y1="425.68" x2="235.06" y2="425.68" stroke="#fff" stroke-width="0.3"/>
<line x1="229.13" y1="423.34" x2="235.06" y2="423.34" stroke="#fff" stroke-width="0.3"/>
<line x1="229.13" y1="420.99" x2="235.06" y2="420.99" stroke="#fff" stroke-width="0.3"/>
<line x1="229.13" y1="418.65" x2="235.06" y2="418.65" stroke="#fff" stroke-width="0.3"/>
<line x1="229.13" y1="414.55" x2="235.06" y2="414.55" stroke="#fff" stroke-width="0.3"/>
<line x1="232.1" y1="437.4" x2="232.1" y2="438.6" stroke="#444" stroke-width="0.35"/>
<text x="232.7" y="442" font-size="4.3" text-anchor="end" fill="#222" transform="rotate(-45 232.7 442)" stroke="#222" stroke-width="0.12">AC200910_3</text>
<rect x="235.96" y="435.06" width="5.93" height="2.34" fill="#A68BD8"/>
<rect x="235.96" y="425.68" width="5.93" height="9.38" fill="#20C6F6"/>
<rect x="235.96" y="403.41" width="5.93" height="22.27" fill="#F8A47F"/>
<rect x="235.96" y="399.9" width="5.93" height="3.52" fill="#F67E7E"/>
<rect x="235.96" y="398.14" width="5.93" height="1.76" fill="#2C0F57"/>
<rect x="235.96" y="393.45" width="5.93" height="4.69" fill="#106A72"/>
<rect x="235.96" y="392.28" width="5.93" height="1.17" fill="#FDBA00"/>
<rect x="235.96" y="387" width="5.93" height="5.27" fill="#FA0000"/>
<rect x="235.96" y="375.87" width="5.93" height="11.13" fill="#84A7F6"/>
<line x1="235.96" y1="435.06" x2="241.89" y2="435.06" stroke="#fff" stroke-width="0.3"/>
<line x1="235.96" y1="425.68" x2="241.89" y2="425.68" stroke="#fff" stroke-width="0.3"/>
<line x1="235.96" y1="403.41" x2="241.89" y2="403.41" stroke="#fff" stroke-width="0.3"/>
<line x1="235.96" y1="399.9" x2="241.89" y2="399.9" stroke="#fff" stroke-width="0.3"/>
<line x1="235.96" y1="398.14" x2="241.89" y2="398.14" stroke="#fff" stroke-width="0.3"/>
<line x1="235.96" y1="393.45" x2="241.89" y2="393.45" stroke="#fff" stroke-width="0.3"/>
<line x1="235.96" y1="392.28" x2="241.89" y2="392.28" stroke="#fff" stroke-width="0.3"/>
<line x1="235.96" y1="387" x2="241.89" y2="387" stroke="#fff" stroke-width="0.3"/>
<line x1="238.92" y1="437.4" x2="238.92" y2="438.6" stroke="#444" stroke-width="0.35"/>
<text x="239.52" y="442" font-size="4.3" text-anchor="end" fill="#222" transform="rotate(-45 239.52 442)" stroke="#222" stroke-width="0.12">AC200910_5</text>
<rect x="242.79" y="435.06" width="5.93" height="2.34" fill="#A68BD8"/>
<rect x="242.79" y="428.02" width="5.93" height="7.03" fill="#20C6F6"/>
<rect x="242.79" y="403.41" width="5.93" height="24.61" fill="#F8A47F"/>
<rect x="242.79" y="401.07" width="5.93" height="2.34" fill="#F67E7E"/>
<rect x="242.79" y="398.72" width="5.93" height="2.34" fill="#2C0F57"/>
<rect x="242.79" y="394.04" width="5.93" height="4.69" fill="#106A72"/>
<rect x="242.79" y="387" width="5.93" height="7.03" fill="#FA0000"/>
<rect x="242.79" y="380.32" width="5.93" height="6.68" fill="#84A7F6"/>
<line x1="242.79" y1="435.06" x2="248.71" y2="435.06" stroke="#fff" stroke-width="0.3"/>
<line x1="242.79" y1="428.02" x2="248.71" y2="428.02" stroke="#fff" stroke-width="0.3"/>
<line x1="242.79" y1="403.41" x2="248.71" y2="403.41" stroke="#fff" stroke-width="0.3"/>
<line x1="242.79" y1="401.07" x2="248.71" y2="401.07" stroke="#fff" stroke-width="0.3"/>
<line x1="242.79" y1="398.72" x2="248.71" y2="398.72" stroke="#fff" stroke-width="0.3"/>
<line x1="242.79" y1="394.04" x2="248.71" y2="394.04" stroke="#fff" stroke-width="0.3"/>
<line x1="242.79" y1="387" x2="248.71" y2="387" stroke="#fff" stroke-width="0.3"/>
<line x1="245.75" y1="437.4" x2="245.75" y2="438.6" stroke="#444" stroke-width="0.35"/>
<text x="246.35" y="442" font-size="4.3" text-anchor="end" fill="#222" transform="rotate(-45 246.35 442)" stroke="#222" stroke-width="0.12">AC200910_8</text>
<rect x="249.61" y="435.06" width="5.93" height="2.34" fill="#A68BD8"/>
<rect x="249.61" y="428.02" width="5.93" height="7.03" fill="#20C6F6"/>
<rect x="249.61" y="424.51" width="5.93" height="3.52" fill="#F67E7E"/>
<rect x="249.61" y="422.16" width="5.93" height="2.34" fill="#2C0F57"/>
<rect x="249.61" y="418.65" width="5.93" height="3.52" fill="#106A72"/>
<rect x="249.61" y="397.32" width="5.93" height="21.33" fill="#FA0000"/>
<line x1="249.61" y1="435.06" x2="255.54" y2="435.06" stroke="#fff" stroke-width="0.3"/>
<line x1="249.61" y1="428.02" x2="255.54" y2="428.02" stroke="#fff" stroke-width="0.3"/>
<line x1="249.61" y1="424.51" x2="255.54" y2="424.51" stroke="#fff" stroke-width="0.3"/>
<line x1="249.61" y1="422.16" x2="255.54" y2="422.16" stroke="#fff" stroke-width="0.3"/>
<line x1="249.61" y1="418.65" x2="255.54" y2="418.65" stroke="#fff" stroke-width="0.3"/>
<line x1="252.58" y1="437.4" x2="252.58" y2="438.6" stroke="#444" stroke-width="0.35"/>
<text x="253.18" y="442" font-size="4.3" text-anchor="end" fill="#222" transform="rotate(-45 253.18 442)" stroke="#222" stroke-width="0.12">AC200910_10</text>
<rect x="256.44" y="435.06" width="5.93" height="2.34" fill="#F67E7E"/>
<rect x="256.44" y="433.3" width="5.93" height="1.76" fill="#2C0F57"/>
<rect x="256.44" y="427.67" width="5.93" height="5.63" fill="#106A72"/>
<line x1="256.44" y1="435.06" x2="262.37" y2="435.06" stroke="#fff" stroke-width="0.3"/>
<line x1="256.44" y1="433.3" x2="262.37" y2="433.3" stroke="#fff" stroke-width="0.3"/>
<line x1="259.4" y1="437.4" x2="259.4" y2="438.6" stroke="#444" stroke-width="0.35"/>
<text x="260" y="442" font-size="4.3" text-anchor="end" fill="#222" transform="rotate(-45 260 442)" stroke="#222" stroke-width="0.12">AC200910_12</text>
<rect x="262.82" y="277.5" width="34.13" height="18.8" fill="#91D1C2"/>
<text x="279.89" y="289.5" font-size="5.6" text-anchor="middle" fill="#1a1a1a">t3</text>
<rect x="262.82" y="296.3" width="34.13" height="141.1" fill="none" stroke="#C8C8C8" stroke-width="0.5"/>
<rect x="263.27" y="435.06" width="5.93" height="2.34" fill="#F8A47F"/>
<rect x="263.27" y="432.71" width="5.93" height="2.34" fill="#F67E7E"/>
<rect x="263.27" y="430.37" width="5.93" height="2.34" fill="#2C0F57"/>
<rect x="263.27" y="426.85" width="5.93" height="3.52" fill="#106A72"/>
<rect x="263.27" y="421.23" width="5.93" height="5.63" fill="#FA0000"/>
<line x1="263.27" y1="435.06" x2="269.19" y2="435.06" stroke="#fff" stroke-width="0.3"/>
<line x1="263.27" y1="432.71" x2="269.19" y2="432.71" stroke="#fff" stroke-width="0.3"/>
<line x1="263.27" y1="430.37" x2="269.19" y2="430.37" stroke="#fff" stroke-width="0.3"/>
<line x1="263.27" y1="426.85" x2="269.19" y2="426.85" stroke="#fff" stroke-width="0.3"/>
<line x1="266.23" y1="437.4" x2="266.23" y2="438.6" stroke="#444" stroke-width="0.35"/>
<text x="266.83" y="442" font-size="4.3" text-anchor="end" fill="#222" transform="rotate(-45 266.83 442)" stroke="#222" stroke-width="0.12">AC200926_3</text>
<rect x="270.09" y="433.88" width="5.93" height="3.52" fill="#A68BD8"/>
<rect x="270.09" y="424.51" width="5.93" height="9.38" fill="#20C6F6"/>
<rect x="270.09" y="339.54" width="5.93" height="84.97" fill="#F8A47F"/>
<rect x="270.09" y="336.61" width="5.93" height="2.93" fill="#F67E7E"/>
<rect x="270.09" y="334.26" width="5.93" height="2.34" fill="#2C0F57"/>
<rect x="270.09" y="324.89" width="5.93" height="9.38" fill="#1650EC"/>
<rect x="270.09" y="322.54" width="5.93" height="2.34" fill="#106A72"/>
<rect x="270.09" y="320.2" width="5.93" height="2.34" fill="#FDBA00"/>
<rect x="270.09" y="308.01" width="5.93" height="12.19" fill="#FA0000"/>
<line x1="270.09" y1="433.88" x2="276.02" y2="433.88" stroke="#fff" stroke-width="0.3"/>
<line x1="270.09" y1="424.51" x2="276.02" y2="424.51" stroke="#fff" stroke-width="0.3"/>
<line x1="270.09" y1="339.54" x2="276.02" y2="339.54" stroke="#fff" stroke-width="0.3"/>
<line x1="270.09" y1="336.61" x2="276.02" y2="336.61" stroke="#fff" stroke-width="0.3"/>
<line x1="270.09" y1="334.26" x2="276.02" y2="334.26" stroke="#fff" stroke-width="0.3"/>
<line x1="270.09" y1="324.89" x2="276.02" y2="324.89" stroke="#fff" stroke-width="0.3"/>
<line x1="270.09" y1="322.54" x2="276.02" y2="322.54" stroke="#fff" stroke-width="0.3"/>
<line x1="270.09" y1="320.2" x2="276.02" y2="320.2" stroke="#fff" stroke-width="0.3"/>
<line x1="273.06" y1="437.4" x2="273.06" y2="438.6" stroke="#444" stroke-width="0.35"/>
<text x="273.66" y="442" font-size="4.3" text-anchor="end" fill="#222" transform="rotate(-45 273.66 442)" stroke="#222" stroke-width="0.12">AC200926_5</text>
<rect x="276.92" y="434.47" width="5.93" height="2.93" fill="#A68BD8"/>
<rect x="276.92" y="425.68" width="5.93" height="8.79" fill="#20C6F6"/>
<rect x="276.92" y="334.26" width="5.93" height="91.42" fill="#F8A47F"/>
<rect x="276.92" y="331.92" width="5.93" height="2.34" fill="#F67E7E"/>
<rect x="276.92" y="330.16" width="5.93" height="1.76" fill="#2C0F57"/>
<rect x="276.92" y="327.23" width="5.93" height="2.93" fill="#106A72"/>
<rect x="276.92" y="324.65" width="5.93" height="2.58" fill="#FA0000"/>
<line x1="276.92" y1="434.47" x2="282.85" y2="434.47" stroke="#fff" stroke-width="0.3"/>
<line x1="276.92" y1="425.68" x2="282.85" y2="425.68" stroke="#fff" stroke-width="0.3"/>
<line x1="276.92" y1="334.26" x2="282.85" y2="334.26" stroke="#fff" stroke-width="0.3"/>
<line x1="276.92" y1="331.92" x2="282.85" y2="331.92" stroke="#fff" stroke-width="0.3"/>
<line x1="276.92" y1="330.16" x2="282.85" y2="330.16" stroke="#fff" stroke-width="0.3"/>
<line x1="276.92" y1="327.23" x2="282.85" y2="327.23" stroke="#fff" stroke-width="0.3"/>
<line x1="279.89" y1="437.4" x2="279.89" y2="438.6" stroke="#444" stroke-width="0.35"/>
<text x="280.49" y="442" font-size="4.3" text-anchor="end" fill="#222" transform="rotate(-45 280.49 442)" stroke="#222" stroke-width="0.12">AC200926_10</text>
<rect x="283.75" y="436.23" width="5.93" height="1.17" fill="#A68BD8"/>
<rect x="283.75" y="433.88" width="5.93" height="2.34" fill="#5EC4D2"/>
<rect x="283.75" y="404.58" width="5.93" height="29.3" fill="#F8A47F"/>
<rect x="283.75" y="401.07" width="5.93" height="3.52" fill="#F67E7E"/>
<rect x="283.75" y="398.72" width="5.93" height="2.34" fill="#2C0F57"/>
<rect x="283.75" y="393.45" width="5.93" height="5.27" fill="#106A72"/>
<rect x="283.75" y="390.99" width="5.93" height="2.46" fill="#FA0000"/>
<line x1="283.75" y1="436.23" x2="289.68" y2="436.23" stroke="#fff" stroke-width="0.3"/>
<line x1="283.75" y1="433.88" x2="289.68" y2="433.88" stroke="#fff" stroke-width="0.3"/>
<line x1="283.75" y1="404.58" x2="289.68" y2="404.58" stroke="#fff" stroke-width="0.3"/>
<line x1="283.75" y1="401.07" x2="289.68" y2="401.07" stroke="#fff" stroke-width="0.3"/>
<line x1="283.75" y1="398.72" x2="289.68" y2="398.72" stroke="#fff" stroke-width="0.3"/>
<line x1="283.75" y1="393.45" x2="289.68" y2="393.45" stroke="#fff" stroke-width="0.3"/>
<line x1="286.71" y1="437.4" x2="286.71" y2="438.6" stroke="#444" stroke-width="0.35"/>
<text x="287.31" y="442" font-size="4.3" text-anchor="end" fill="#222" transform="rotate(-45 287.31 442)" stroke="#222" stroke-width="0.12">AC200926_14</text>
<rect x="290.58" y="435.06" width="5.93" height="2.34" fill="#A68BD8"/>
<rect x="290.58" y="433.88" width="5.93" height="1.17" fill="#5EC4D2"/>
<rect x="290.58" y="367.08" width="5.93" height="66.8" fill="#F8A47F"/>
<rect x="290.58" y="364.74" width="5.93" height="2.34" fill="#F67E7E"/>
<rect x="290.58" y="362.98" width="5.93" height="1.76" fill="#2C0F57"/>
<rect x="290.58" y="357.7" width="5.93" height="5.27" fill="#106A72"/>
<rect x="290.58" y="352.78" width="5.93" height="4.92" fill="#FA0000"/>
<line x1="290.58" y1="435.06" x2="296.5" y2="435.06" stroke="#fff" stroke-width="0.3"/>
<line x1="290.58" y1="433.88" x2="296.5" y2="433.88" stroke="#fff" stroke-width="0.3"/>
<line x1="290.58" y1="367.08" x2="296.5" y2="367.08" stroke="#fff" stroke-width="0.3"/>
<line x1="290.58" y1="364.74" x2="296.5" y2="364.74" stroke="#fff" stroke-width="0.3"/>
<line x1="290.58" y1="362.98" x2="296.5" y2="362.98" stroke="#fff" stroke-width="0.3"/>
<line x1="290.58" y1="357.7" x2="296.5" y2="357.7" stroke="#fff" stroke-width="0.3"/>
<line x1="293.54" y1="437.4" x2="293.54" y2="438.6" stroke="#444" stroke-width="0.35"/>
<text x="294.14" y="442" font-size="4.3" text-anchor="end" fill="#222" transform="rotate(-45 294.14 442)" stroke="#222" stroke-width="0.12">AC200926_15</text>
<rect x="296.95" y="277.5" width="34.13" height="18.8" fill="#DC0000"/>
<text x="314.02" y="289.5" font-size="5.6" text-anchor="middle" fill="#1a1a1a">t4</text>
<rect x="296.95" y="296.3" width="34.13" height="141.1" fill="none" stroke="#C8C8C8" stroke-width="0.5"/>
<rect x="297.4" y="430.37" width="5.93" height="7.03" fill="#A68BD8"/>
<rect x="297.4" y="401.07" width="5.93" height="29.3" fill="#20C6F6"/>
<rect x="297.4" y="383.49" width="5.93" height="17.58" fill="#F8A47F"/>
<rect x="297.4" y="381.14" width="5.93" height="2.34" fill="#F67E7E"/>
<rect x="297.4" y="379.39" width="5.93" height="1.76" fill="#2C0F57"/>
<rect x="297.4" y="372.94" width="5.93" height="6.45" fill="#1650EC"/>
<rect x="297.4" y="368.84" width="5.93" height="4.1" fill="#106A72"/>
<rect x="297.4" y="363.56" width="5.93" height="5.27" fill="#FA0000"/>
<line x1="297.4" y1="430.37" x2="303.33" y2="430.37" stroke="#fff" stroke-width="0.3"/>
<line x1="297.4" y1="401.07" x2="303.33" y2="401.07" stroke="#fff" stroke-width="0.3"/>
<line x1="297.4" y1="383.49" x2="303.33" y2="383.49" stroke="#fff" stroke-width="0.3"/>
<line x1="297.4" y1="381.14" x2="303.33" y2="381.14" stroke="#fff" stroke-width="0.3"/>
<line x1="297.4" y1="379.39" x2="303.33" y2="379.39" stroke="#fff" stroke-width="0.3"/>
<line x1="297.4" y1="372.94" x2="303.33" y2="372.94" stroke="#fff" stroke-width="0.3"/>
<line x1="297.4" y1="368.84" x2="303.33" y2="368.84" stroke="#fff" stroke-width="0.3"/>
<line x1="300.37" y1="437.4" x2="300.37" y2="438.6" stroke="#444" stroke-width="0.35"/>
<text x="300.97" y="442" font-size="4.3" text-anchor="end" fill="#222" transform="rotate(-45 300.97 442)" stroke="#222" stroke-width="0.12">AC201012_2</text>
<rect x="304.23" y="428.02" width="5.93" height="9.38" fill="#A68BD8"/>
<rect x="304.23" y="412.79" width="5.93" height="15.24" fill="#20C6F6"/>
<rect x="304.23" y="390.52" width="5.93" height="22.27" fill="#F8A47F"/>
<rect x="304.23" y="388.18" width="5.93" height="2.34" fill="#F67E7E"/>
<rect x="304.23" y="385.83" width="5.93" height="2.34" fill="#2C0F57"/>
<rect x="304.23" y="382.32" width="5.93" height="3.52" fill="#106A72"/>
<rect x="304.23" y="362.04" width="5.93" height="20.28" fill="#FA0000"/>
<line x1="304.23" y1="428.02" x2="310.16" y2="428.02" stroke="#fff" stroke-width="0.3"/>
<line x1="304.23" y1="412.79" x2="310.16" y2="412.79" stroke="#fff" stroke-width="0.3"/>
<line x1="304.23" y1="390.52" x2="310.16" y2="390.52" stroke="#fff" stroke-width="0.3"/>
<line x1="304.23" y1="388.18" x2="310.16" y2="388.18" stroke="#fff" stroke-width="0.3"/>
<line x1="304.23" y1="385.83" x2="310.16" y2="385.83" stroke="#fff" stroke-width="0.3"/>
<line x1="304.23" y1="382.32" x2="310.16" y2="382.32" stroke="#fff" stroke-width="0.3"/>
<line x1="307.19" y1="437.4" x2="307.19" y2="438.6" stroke="#444" stroke-width="0.35"/>
<text x="307.79" y="442" font-size="4.3" text-anchor="end" fill="#222" transform="rotate(-45 307.79 442)" stroke="#222" stroke-width="0.12">AC201012_6</text>
<rect x="311.06" y="426.85" width="5.93" height="10.55" fill="#A68BD8"/>
<rect x="311.06" y="403.41" width="5.93" height="23.44" fill="#20C6F6"/>
<rect x="311.06" y="336.61" width="5.93" height="66.8" fill="#F8A47F"/>
<rect x="311.06" y="334.26" width="5.93" height="2.34" fill="#F67E7E"/>
<rect x="311.06" y="332.51" width="5.93" height="1.76" fill="#2C0F57"/>
<rect x="311.06" y="328.4" width="5.93" height="4.1" fill="#106A72"/>
<rect x="311.06" y="326.65" width="5.93" height="1.76" fill="#FDBA00"/>
<rect x="311.06" y="323.13" width="5.93" height="3.52" fill="#FA0000"/>
<line x1="311.06" y1="426.85" x2="316.98" y2="426.85" stroke="#fff" stroke-width="0.3"/>
<line x1="311.06" y1="403.41" x2="316.98" y2="403.41" stroke="#fff" stroke-width="0.3"/>
<line x1="311.06" y1="336.61" x2="316.98" y2="336.61" stroke="#fff" stroke-width="0.3"/>
<line x1="311.06" y1="334.26" x2="316.98" y2="334.26" stroke="#fff" stroke-width="0.3"/>
<line x1="311.06" y1="332.51" x2="316.98" y2="332.51" stroke="#fff" stroke-width="0.3"/>
<line x1="311.06" y1="328.4" x2="316.98" y2="328.4" stroke="#fff" stroke-width="0.3"/>
<line x1="311.06" y1="326.65" x2="316.98" y2="326.65" stroke="#fff" stroke-width="0.3"/>
<line x1="314.02" y1="437.4" x2="314.02" y2="438.6" stroke="#444" stroke-width="0.35"/>
<text x="314.62" y="442" font-size="4.3" text-anchor="end" fill="#222" transform="rotate(-45 314.62 442)" stroke="#222" stroke-width="0.12">AC201012_7</text>
<rect x="317.88" y="424.51" width="5.93" height="12.89" fill="#A68BD8"/>
<rect x="317.88" y="403.41" width="5.93" height="21.1" fill="#20C6F6"/>
<rect x="317.88" y="306.14" width="5.93" height="97.28" fill="#F8A47F"/>
<rect x="317.88" y="304.38" width="5.93" height="1.76" fill="#F67E7E"/>
<rect x="317.88" y="303.21" width="5.93" height="1.17" fill="#2C0F57"/>
<rect x="317.88" y="299.69" width="5.93" height="3.52" fill="#106A72"/>
<rect x="317.88" y="296.76" width="5.93" height="2.93" fill="#FA0000"/>
<line x1="317.88" y1="424.51" x2="323.81" y2="424.51" stroke="#fff" stroke-width="0.3"/>
<line x1="317.88" y1="403.41" x2="323.81" y2="403.41" stroke="#fff" stroke-width="0.3"/>
<line x1="317.88" y1="306.14" x2="323.81" y2="306.14" stroke="#fff" stroke-width="0.3"/>
<line x1="317.88" y1="304.38" x2="323.81" y2="304.38" stroke="#fff" stroke-width="0.3"/>
<line x1="317.88" y1="303.21" x2="323.81" y2="303.21" stroke="#fff" stroke-width="0.3"/>
<line x1="317.88" y1="299.69" x2="323.81" y2="299.69" stroke="#fff" stroke-width="0.3"/>
<line x1="320.85" y1="437.4" x2="320.85" y2="438.6" stroke="#444" stroke-width="0.35"/>
<text x="321.45" y="442" font-size="4.3" text-anchor="end" fill="#222" transform="rotate(-45 321.45 442)" stroke="#222" stroke-width="0.12">AC201012_8</text>
<rect x="324.71" y="429.2" width="5.93" height="8.2" fill="#A68BD8"/>
<rect x="324.71" y="404.58" width="5.93" height="24.61" fill="#20C6F6"/>
<rect x="324.71" y="389.35" width="5.93" height="15.24" fill="#F8A47F"/>
<rect x="324.71" y="387" width="5.93" height="2.34" fill="#F67E7E"/>
<rect x="324.71" y="384.66" width="5.93" height="2.34" fill="#2C0F57"/>
<rect x="324.71" y="380.56" width="5.93" height="4.1" fill="#106A72"/>
<rect x="324.71" y="377.16" width="5.93" height="3.4" fill="#FA0000"/>
<line x1="324.71" y1="429.2" x2="330.64" y2="429.2" stroke="#fff" stroke-width="0.3"/>
<line x1="324.71" y1="404.58" x2="330.64" y2="404.58" stroke="#fff" stroke-width="0.3"/>
<line x1="324.71" y1="389.35" x2="330.64" y2="389.35" stroke="#fff" stroke-width="0.3"/>
<line x1="324.71" y1="387" x2="330.64" y2="387" stroke="#fff" stroke-width="0.3"/>
<line x1="324.71" y1="384.66" x2="330.64" y2="384.66" stroke="#fff" stroke-width="0.3"/>
<line x1="324.71" y1="380.56" x2="330.64" y2="380.56" stroke="#fff" stroke-width="0.3"/>
<line x1="327.67" y1="437.4" x2="327.67" y2="438.6" stroke="#444" stroke-width="0.35"/>
<text x="328.27" y="442" font-size="4.3" text-anchor="end" fill="#222" transform="rotate(-45 328.27 442)" stroke="#222" stroke-width="0.12">AC201012_9</text>
<rect x="331.09" y="277.5" width="40.96" height="18.8" fill="#7E6148"/>
<text x="351.57" y="289.5" font-size="5.6" text-anchor="middle" fill="#1a1a1a">t5</text>
<rect x="331.09" y="296.3" width="40.96" height="141.1" fill="none" stroke="#C8C8C8" stroke-width="0.5"/>
<rect x="331.54" y="419.82" width="5.93" height="17.58" fill="#A68BD8"/>
<rect x="331.54" y="401.07" width="5.93" height="18.75" fill="#20C6F6"/>
<rect x="331.54" y="399.9" width="5.93" height="1.17" fill="#5EC4D2"/>
<rect x="331.54" y="388.18" width="5.93" height="11.72" fill="#F8A47F"/>
<rect x="331.54" y="385.25" width="5.93" height="2.93" fill="#F67E7E"/>
<rect x="331.54" y="383.49" width="5.93" height="1.76" fill="#2C0F57"/>
<rect x="331.54" y="380.56" width="5.93" height="2.93" fill="#106A72"/>
<rect x="331.54" y="377.04" width="5.93" height="3.52" fill="#FA0000"/>
<rect x="331.54" y="371.3" width="5.93" height="5.74" fill="#84A7F6"/>
<line x1="331.54" y1="419.82" x2="337.46" y2="419.82" stroke="#fff" stroke-width="0.3"/>
<line x1="331.54" y1="401.07" x2="337.46" y2="401.07" stroke="#fff" stroke-width="0.3"/>
<line x1="331.54" y1="399.9" x2="337.46" y2="399.9" stroke="#fff" stroke-width="0.3"/>
<line x1="331.54" y1="388.18" x2="337.46" y2="388.18" stroke="#fff" stroke-width="0.3"/>
<line x1="331.54" y1="385.25" x2="337.46" y2="385.25" stroke="#fff" stroke-width="0.3"/>
<line x1="331.54" y1="383.49" x2="337.46" y2="383.49" stroke="#fff" stroke-width="0.3"/>
<line x1="331.54" y1="380.56" x2="337.46" y2="380.56" stroke="#fff" stroke-width="0.3"/>
<line x1="331.54" y1="377.04" x2="337.46" y2="377.04" stroke="#fff" stroke-width="0.3"/>
<line x1="334.5" y1="437.4" x2="334.5" y2="438.6" stroke="#444" stroke-width="0.35"/>
<text x="335.1" y="442" font-size="4.3" text-anchor="end" fill="#222" transform="rotate(-45 335.1 442)" stroke="#222" stroke-width="0.12">AC201026_1</text>
<rect x="338.36" y="413.37" width="5.93" height="24.03" fill="#A68BD8"/>
<rect x="338.36" y="391.11" width="5.93" height="22.27" fill="#20C6F6"/>
<rect x="338.36" y="388.76" width="5.93" height="2.34" fill="#5EC4D2"/>
<rect x="338.36" y="348.33" width="5.93" height="40.43" fill="#F8A47F"/>
<rect x="338.36" y="344.81" width="5.93" height="3.52" fill="#F67E7E"/>
<rect x="338.36" y="343.64" width="5.93" height="1.17" fill="#2C0F57"/>
<rect x="338.36" y="339.54" width="5.93" height="4.1" fill="#106A72"/>
<rect x="338.36" y="337.19" width="5.93" height="2.34" fill="#FA0000"/>
<rect x="338.36" y="325.12" width="5.93" height="12.07" fill="#84A7F6"/>
<line x1="338.36" y1="413.37" x2="344.29" y2="413.37" stroke="#fff" stroke-width="0.3"/>
<line x1="338.36" y1="391.11" x2="344.29" y2="391.11" stroke="#fff" stroke-width="0.3"/>
<line x1="338.36" y1="388.76" x2="344.29" y2="388.76" stroke="#fff" stroke-width="0.3"/>
<line x1="338.36" y1="348.33" x2="344.29" y2="348.33" stroke="#fff" stroke-width="0.3"/>
<line x1="338.36" y1="344.81" x2="344.29" y2="344.81" stroke="#fff" stroke-width="0.3"/>
<line x1="338.36" y1="343.64" x2="344.29" y2="343.64" stroke="#fff" stroke-width="0.3"/>
<line x1="338.36" y1="339.54" x2="344.29" y2="339.54" stroke="#fff" stroke-width="0.3"/>
<line x1="338.36" y1="337.19" x2="344.29" y2="337.19" stroke="#fff" stroke-width="0.3"/>
<line x1="341.33" y1="437.4" x2="341.33" y2="438.6" stroke="#444" stroke-width="0.35"/>
<text x="341.93" y="442" font-size="4.3" text-anchor="end" fill="#222" transform="rotate(-45 341.93 442)" stroke="#222" stroke-width="0.12">AC201026_3</text>
<rect x="345.19" y="435.06" width="5.93" height="2.34" fill="#5EC4D2"/>
<rect x="345.19" y="420.64" width="5.93" height="14.42" fill="#F8A47F"/>
<rect x="345.19" y="417.12" width="5.93" height="3.52" fill="#F67E7E"/>
<rect x="345.19" y="415.6" width="5.93" height="1.52" fill="#2C0F57"/>
<rect x="345.19" y="411.62" width="5.93" height="3.98" fill="#106A72"/>
<rect x="345.19" y="409.39" width="5.93" height="2.23" fill="#FA0000"/>
<rect x="345.19" y="400.01" width="5.93" height="9.38" fill="#20C6F6"/>
<line x1="345.19" y1="435.06" x2="351.12" y2="435.06" stroke="#fff" stroke-width="0.3"/>
<line x1="345.19" y1="420.64" x2="351.12" y2="420.64" stroke="#fff" stroke-width="0.3"/>
<line x1="345.19" y1="417.12" x2="351.12" y2="417.12" stroke="#fff" stroke-width="0.3"/>
<line x1="345.19" y1="415.6" x2="351.12" y2="415.6" stroke="#fff" stroke-width="0.3"/>
<line x1="345.19" y1="411.62" x2="351.12" y2="411.62" stroke="#fff" stroke-width="0.3"/>
<line x1="345.19" y1="409.39" x2="351.12" y2="409.39" stroke="#fff" stroke-width="0.3"/>
<line x1="348.16" y1="437.4" x2="348.16" y2="438.6" stroke="#444" stroke-width="0.35"/>
<text x="348.76" y="442" font-size="4.3" text-anchor="end" fill="#222" transform="rotate(-45 348.76 442)" stroke="#222" stroke-width="0.12">AC201026_6</text>
<rect x="352.02" y="415.13" width="5.93" height="22.27" fill="#A68BD8"/>
<rect x="352.02" y="366.49" width="5.93" height="48.64" fill="#20C6F6"/>
<rect x="352.02" y="345.4" width="5.93" height="21.1" fill="#F8A47F"/>
<rect x="352.02" y="342.47" width="5.93" height="2.93" fill="#F67E7E"/>
<rect x="352.02" y="340.12" width="5.93" height="2.34" fill="#2C0F57"/>
<rect x="352.02" y="336.61" width="5.93" height="3.52" fill="#106A72"/>
<rect x="352.02" y="335.44" width="5.93" height="1.17" fill="#FDBA00"/>
<rect x="352.02" y="330.16" width="5.93" height="5.27" fill="#FA0000"/>
<rect x="352.02" y="313.75" width="5.93" height="16.41" fill="#84A7F6"/>
<line x1="352.02" y1="415.13" x2="357.95" y2="415.13" stroke="#fff" stroke-width="0.3"/>
<line x1="352.02" y1="366.49" x2="357.95" y2="366.49" stroke="#fff" stroke-width="0.3"/>
<line x1="352.02" y1="345.4" x2="357.95" y2="345.4" stroke="#fff" stroke-width="0.3"/>
<line x1="352.02" y1="342.47" x2="357.95" y2="342.47" stroke="#fff" stroke-width="0.3"/>
<line x1="352.02" y1="340.12" x2="357.95" y2="340.12" stroke="#fff" stroke-width="0.3"/>
<line x1="352.02" y1="336.61" x2="357.95" y2="336.61" stroke="#fff" stroke-width="0.3"/>
<line x1="352.02" y1="335.44" x2="357.95" y2="335.44" stroke="#fff" stroke-width="0.3"/>
<line x1="352.02" y1="330.16" x2="357.95" y2="330.16" stroke="#fff" stroke-width="0.3"/>
<line x1="354.98" y1="437.4" x2="354.98" y2="438.6" stroke="#444" stroke-width="0.35"/>
<text x="355.58" y="442" font-size="4.3" text-anchor="end" fill="#222" transform="rotate(-45 355.58 442)" stroke="#222" stroke-width="0.12">AC201026_7</text>
<rect x="358.85" y="435.64" width="5.93" height="1.76" fill="#5EC4D2"/>
<rect x="358.85" y="432.71" width="5.93" height="2.93" fill="#F67E7E"/>
<rect x="358.85" y="430.95" width="5.93" height="1.76" fill="#2C0F57"/>
<rect x="358.85" y="426.27" width="5.93" height="4.69" fill="#106A72"/>
<rect x="358.85" y="420.05" width="5.93" height="6.21" fill="#FA0000"/>
<rect x="358.85" y="408.1" width="5.93" height="11.95" fill="#84A7F6"/>
<line x1="358.85" y1="435.64" x2="364.77" y2="435.64" stroke="#fff" stroke-width="0.3"/>
<line x1="358.85" y1="432.71" x2="364.77" y2="432.71" stroke="#fff" stroke-width="0.3"/>
<line x1="358.85" y1="430.95" x2="364.77" y2="430.95" stroke="#fff" stroke-width="0.3"/>
<line x1="358.85" y1="426.27" x2="364.77" y2="426.27" stroke="#fff" stroke-width="0.3"/>
<line x1="358.85" y1="420.05" x2="364.77" y2="420.05" stroke="#fff" stroke-width="0.3"/>
<line x1="361.81" y1="437.4" x2="361.81" y2="438.6" stroke="#444" stroke-width="0.35"/>
<text x="362.41" y="442" font-size="4.3" text-anchor="end" fill="#222" transform="rotate(-45 362.41 442)" stroke="#222" stroke-width="0.12">AC201026_8</text>
<rect x="365.67" y="435.64" width="5.93" height="1.76" fill="#5EC4D2"/>
<rect x="365.67" y="432.71" width="5.93" height="2.93" fill="#F67E7E"/>
<rect x="365.67" y="430.95" width="5.93" height="1.76" fill="#2C0F57"/>
<rect x="365.67" y="426.27" width="5.93" height="4.69" fill="#106A72"/>
<rect x="365.67" y="420.99" width="5.93" height="5.27" fill="#FA0000"/>
<rect x="365.67" y="410.33" width="5.93" height="10.67" fill="#84A7F6"/>
<line x1="365.67" y1="435.64" x2="371.6" y2="435.64" stroke="#fff" stroke-width="0.3"/>
<line x1="365.67" y1="432.71" x2="371.6" y2="432.71" stroke="#fff" stroke-width="0.3"/>
<line x1="365.67" y1="430.95" x2="371.6" y2="430.95" stroke="#fff" stroke-width="0.3"/>
<line x1="365.67" y1="426.27" x2="371.6" y2="426.27" stroke="#fff" stroke-width="0.3"/>
<line x1="365.67" y1="420.99" x2="371.6" y2="420.99" stroke="#fff" stroke-width="0.3"/>
<line x1="368.64" y1="437.4" x2="368.64" y2="438.6" stroke="#444" stroke-width="0.35"/>
<text x="369.24" y="442" font-size="4.3" text-anchor="end" fill="#222" transform="rotate(-45 369.24 442)" stroke="#222" stroke-width="0.12">AC201026_9</text>
<rect x="372.05" y="277.5" width="40.96" height="18.8" fill="#B09C85"/>
<text x="392.53" y="289.5" font-size="5.6" text-anchor="middle" fill="#1a1a1a">t6</text>
<rect x="372.05" y="296.3" width="40.96" height="141.1" fill="none" stroke="#C8C8C8" stroke-width="0.5"/>
<rect x="372.5" y="436.23" width="5.93" height="1.17" fill="#5EC4D2"/>
<rect x="372.5" y="402.24" width="5.93" height="33.99" fill="#F8A47F"/>
<rect x="372.5" y="399.9" width="5.93" height="2.34" fill="#F67E7E"/>
<rect x="372.5" y="398.14" width="5.93" height="1.76" fill="#2C0F57"/>
<rect x="372.5" y="395.21" width="5.93" height="2.93" fill="#106A72"/>
<rect x="372.5" y="392.28" width="5.93" height="2.93" fill="#FA0000"/>
<line x1="372.5" y1="436.23" x2="378.43" y2="436.23" stroke="#fff" stroke-width="0.3"/>
<line x1="372.5" y1="402.24" x2="378.43" y2="402.24" stroke="#fff" stroke-width="0.3"/>
<line x1="372.5" y1="399.9" x2="378.43" y2="399.9" stroke="#fff" stroke-width="0.3"/>
<line x1="372.5" y1="398.14" x2="378.43" y2="398.14" stroke="#fff" stroke-width="0.3"/>
<line x1="372.5" y1="395.21" x2="378.43" y2="395.21" stroke="#fff" stroke-width="0.3"/>
<line x1="375.46" y1="437.4" x2="375.46" y2="438.6" stroke="#444" stroke-width="0.35"/>
<text x="376.06" y="442" font-size="4.3" text-anchor="end" fill="#222" transform="rotate(-45 376.06 442)" stroke="#222" stroke-width="0.12">AC201113_1</text>
<rect x="379.33" y="436.23" width="5.93" height="1.17" fill="#5EC4D2"/>
<rect x="379.33" y="402.24" width="5.93" height="33.99" fill="#F8A47F"/>
<rect x="379.33" y="399.9" width="5.93" height="2.34" fill="#F67E7E"/>
<rect x="379.33" y="398.14" width="5.93" height="1.76" fill="#2C0F57"/>
<rect x="379.33" y="395.79" width="5.93" height="2.34" fill="#106A72"/>
<rect x="379.33" y="394.74" width="5.93" height="1.05" fill="#FA0000"/>
<line x1="379.33" y1="436.23" x2="385.25" y2="436.23" stroke="#fff" stroke-width="0.3"/>
<line x1="379.33" y1="402.24" x2="385.25" y2="402.24" stroke="#fff" stroke-width="0.3"/>
<line x1="379.33" y1="399.9" x2="385.25" y2="399.9" stroke="#fff" stroke-width="0.3"/>
<line x1="379.33" y1="398.14" x2="385.25" y2="398.14" stroke="#fff" stroke-width="0.3"/>
<line x1="379.33" y1="395.79" x2="385.25" y2="395.79" stroke="#fff" stroke-width="0.3"/>
<line x1="382.29" y1="437.4" x2="382.29" y2="438.6" stroke="#444" stroke-width="0.35"/>
<text x="382.89" y="442" font-size="4.3" text-anchor="end" fill="#222" transform="rotate(-45 382.89 442)" stroke="#222" stroke-width="0.12">AC201113_2</text>
<rect x="386.15" y="436.23" width="5.93" height="1.17" fill="#5EC4D2"/>
<rect x="386.15" y="406.93" width="5.93" height="29.3" fill="#F8A47F"/>
<rect x="386.15" y="404.58" width="5.93" height="2.34" fill="#F67E7E"/>
<rect x="386.15" y="402.83" width="5.93" height="1.76" fill="#2C0F57"/>
<rect x="386.15" y="399.9" width="5.93" height="2.93" fill="#106A72"/>
<rect x="386.15" y="392.98" width="5.93" height="6.91" fill="#FA0000"/>
<line x1="386.15" y1="436.23" x2="392.08" y2="436.23" stroke="#fff" stroke-width="0.3"/>
<line x1="386.15" y1="406.93" x2="392.08" y2="406.93" stroke="#fff" stroke-width="0.3"/>
<line x1="386.15" y1="404.58" x2="392.08" y2="404.58" stroke="#fff" stroke-width="0.3"/>
<line x1="386.15" y1="402.83" x2="392.08" y2="402.83" stroke="#fff" stroke-width="0.3"/>
<line x1="386.15" y1="399.9" x2="392.08" y2="399.9" stroke="#fff" stroke-width="0.3"/>
<line x1="389.12" y1="437.4" x2="389.12" y2="438.6" stroke="#444" stroke-width="0.35"/>
<text x="389.72" y="442" font-size="4.3" text-anchor="end" fill="#222" transform="rotate(-45 389.72 442)" stroke="#222" stroke-width="0.12">AC201113_4</text>
<rect x="392.98" y="436.23" width="5.93" height="1.17" fill="#5EC4D2"/>
<rect x="392.98" y="433.88" width="5.93" height="2.34" fill="#F67E7E"/>
<rect x="392.98" y="431.54" width="5.93" height="2.34" fill="#2C0F57"/>
<rect x="392.98" y="406.11" width="5.93" height="25.43" fill="#FA0000"/>
<line x1="392.98" y1="436.23" x2="398.91" y2="436.23" stroke="#fff" stroke-width="0.3"/>
<line x1="392.98" y1="433.88" x2="398.91" y2="433.88" stroke="#fff" stroke-width="0.3"/>
<line x1="392.98" y1="431.54" x2="398.91" y2="431.54" stroke="#fff" stroke-width="0.3"/>
<line x1="395.94" y1="437.4" x2="395.94" y2="438.6" stroke="#444" stroke-width="0.35"/>
<text x="396.54" y="442" font-size="4.3" text-anchor="end" fill="#222" transform="rotate(-45 396.54 442)" stroke="#222" stroke-width="0.12">AC201113_6</text>
<rect x="399.81" y="436.23" width="5.93" height="1.17" fill="#5EC4D2"/>
<rect x="399.81" y="410.44" width="5.93" height="25.78" fill="#F8A47F"/>
<rect x="399.81" y="406.93" width="5.93" height="3.52" fill="#F67E7E"/>
<rect x="399.81" y="404.58" width="5.93" height="2.34" fill="#2C0F57"/>
<rect x="399.81" y="403.41" width="5.93" height="1.17" fill="#FA0000"/>
<rect x="399.81" y="398.02" width="5.93" height="5.39" fill="#84A7F6"/>
<line x1="399.81" y1="436.23" x2="405.73" y2="436.23" stroke="#fff" stroke-width="0.3"/>
<line x1="399.81" y1="410.44" x2="405.73" y2="410.44" stroke="#fff" stroke-width="0.3"/>
<line x1="399.81" y1="406.93" x2="405.73" y2="406.93" stroke="#fff" stroke-width="0.3"/>
<line x1="399.81" y1="404.58" x2="405.73" y2="404.58" stroke="#fff" stroke-width="0.3"/>
<line x1="399.81" y1="403.41" x2="405.73" y2="403.41" stroke="#fff" stroke-width="0.3"/>
<line x1="402.77" y1="437.4" x2="402.77" y2="438.6" stroke="#444" stroke-width="0.35"/>
<text x="403.37" y="442" font-size="4.3" text-anchor="end" fill="#222" transform="rotate(-45 403.37 442)" stroke="#222" stroke-width="0.12">AC201113_11</text>
<rect x="406.63" y="436.23" width="5.93" height="1.17" fill="#5EC4D2"/>
<rect x="406.63" y="411.62" width="5.93" height="24.61" fill="#F8A47F"/>
<rect x="406.63" y="408.69" width="5.93" height="2.93" fill="#F67E7E"/>
<rect x="406.63" y="406.93" width="5.93" height="1.76" fill="#2C0F57"/>
<rect x="406.63" y="402.24" width="5.93" height="4.69" fill="#106A72"/>
<rect x="406.63" y="401.07" width="5.93" height="1.17" fill="#FA0000"/>
<rect x="406.63" y="392.98" width="5.93" height="8.09" fill="#84A7F6"/>
<line x1="406.63" y1="436.23" x2="412.56" y2="436.23" stroke="#fff" stroke-width="0.3"/>
<line x1="406.63" y1="411.62" x2="412.56" y2="411.62" stroke="#fff" stroke-width="0.3"/>
<line x1="406.63" y1="408.69" x2="412.56" y2="408.69" stroke="#fff" stroke-width="0.3"/>
<line x1="406.63" y1="406.93" x2="412.56" y2="406.93" stroke="#fff" stroke-width="0.3"/>
<line x1="406.63" y1="402.24" x2="412.56" y2="402.24" stroke="#fff" stroke-width="0.3"/>
<line x1="406.63" y1="401.07" x2="412.56" y2="401.07" stroke="#fff" stroke-width="0.3"/>
<line x1="409.6" y1="437.4" x2="409.6" y2="438.6" stroke="#444" stroke-width="0.35"/>
<text x="410.2" y="442" font-size="4.3" text-anchor="end" fill="#222" transform="rotate(-45 410.2 442)" stroke="#222" stroke-width="0.12">AC201113_12</text>
<line x1="29.8" y1="296.3" x2="29.8" y2="437.4" stroke="#666" stroke-width="0.7"/>
<line x1="28.4" y1="437.4" x2="29.8" y2="437.4" stroke="#444" stroke-width="0.5"/>
<text x="26.8" y="439.1" font-size="4.6" text-anchor="end" fill="#111">0</text>
<line x1="28.4" y1="425.68" x2="29.8" y2="425.68" stroke="#444" stroke-width="0.5"/>
<text x="26.8" y="427.38" font-size="4.6" text-anchor="end" fill="#111">1000</text>
<line x1="28.4" y1="413.96" x2="29.8" y2="413.96" stroke="#444" stroke-width="0.5"/>
<text x="26.8" y="415.66" font-size="4.6" text-anchor="end" fill="#111">2000</text>
<line x1="28.4" y1="402.24" x2="29.8" y2="402.24" stroke="#444" stroke-width="0.5"/>
<text x="26.8" y="403.94" font-size="4.6" text-anchor="end" fill="#111">3000</text>
<line x1="28.4" y1="390.52" x2="29.8" y2="390.52" stroke="#444" stroke-width="0.5"/>
<text x="26.8" y="392.22" font-size="4.6" text-anchor="end" fill="#111">4000</text>
<line x1="28.4" y1="378.8" x2="29.8" y2="378.8" stroke="#444" stroke-width="0.5"/>
<text x="26.8" y="380.5" font-size="4.6" text-anchor="end" fill="#111">5000</text>
<line x1="28.4" y1="367.08" x2="29.8" y2="367.08" stroke="#444" stroke-width="0.5"/>
<text x="26.8" y="368.78" font-size="4.6" text-anchor="end" fill="#111">6000</text>
<line x1="28.4" y1="355.36" x2="29.8" y2="355.36" stroke="#444" stroke-width="0.5"/>
<text x="26.8" y="357.06" font-size="4.6" text-anchor="end" fill="#111">7000</text>
<line x1="28.4" y1="343.64" x2="29.8" y2="343.64" stroke="#444" stroke-width="0.5"/>
<text x="26.8" y="345.34" font-size="4.6" text-anchor="end" fill="#111">8000</text>
<line x1="28.4" y1="331.92" x2="29.8" y2="331.92" stroke="#444" stroke-width="0.5"/>
<text x="26.8" y="333.62" font-size="4.6" text-anchor="end" fill="#111">9000</text>
<line x1="28.4" y1="320.2" x2="29.8" y2="320.2" stroke="#444" stroke-width="0.5"/>
<text x="26.8" y="321.9" font-size="4.6" text-anchor="end" fill="#111">10000</text>
<line x1="28.4" y1="308.48" x2="29.8" y2="308.48" stroke="#444" stroke-width="0.5"/>
<text x="26.8" y="310.18" font-size="4.6" text-anchor="end" fill="#111">11000</text>
<line x1="28.4" y1="296.76" x2="29.8" y2="296.76" stroke="#444" stroke-width="0.5"/>
<text x="26.8" y="298.46" font-size="4.6" text-anchor="end" fill="#111">12000</text>
<line x1="29.8" y1="437.4" x2="413" y2="437.4" stroke="#666" stroke-width="0.5"/>
<text x="9.2" y="361" font-size="7.1" text-anchor="middle" fill="#1a1a1a" transform="rotate(-90 9.2 361)">Antibiotic concentration (ng/g)</text>
<text x="222" y="472" font-size="6.9" text-anchor="middle" fill="#1a1a1a">Sample ID</text>
</g>
<g id="pe">
<path d="M563.5 265.9A96 96 0 0 1 658.16 377.87L610.83 369.89A48 48 0 0 0 563.5 313.9Z" fill="#7B9ED6" stroke="#7B9ED6" stroke-width="0.3"/>
<path d="M658.16 377.87A96 96 0 0 1 653.68 394.82L608.59 378.36A48 48 0 0 0 610.83 369.89Z" fill="#A98BD6" stroke="#A98BD6" stroke-width="0.3"/>
<path d="M653.68 394.82A96 96 0 0 1 489.22 422.72L526.36 392.31A48 48 0 0 0 608.59 378.36Z" fill="#E994E9" stroke="#E994E9" stroke-width="0.3"/>
<path d="M489.22 422.72A96 96 0 0 1 529.79 272.01L546.65 316.96A48 48 0 0 0 526.36 392.31Z" fill="#BCDF8C" stroke="#BCDF8C" stroke-width="0.3"/>
<path d="M529.79 272.01A96 96 0 0 1 535.5 270.07L549.5 315.99A48 48 0 0 0 546.65 316.96Z" fill="#2E8EAE" stroke="#2E8EAE" stroke-width="0.3"/>
<path d="M535.5 270.07A96 96 0 0 1 563.5 265.9L563.5 313.9A48 48 0 0 0 549.5 315.99Z" fill="#654A9B" stroke="#654A9B" stroke-width="0.3"/>
<rect x="522.2" y="338.15" width="7.6" height="3.5" fill="#7B9ED6"/>
<text x="531.6" y="342.4" font-size="7.15" fill="#111">Macrolide (27.66%)</text>
<rect x="522.2" y="346.55" width="7.6" height="3.5" fill="#A98BD6"/>
<text x="531.6" y="350.8" font-size="7.15" fill="#111">Tetracycline (2.91%)</text>
<rect x="522.2" y="354.95" width="7.6" height="3.5" fill="#E994E9"/>
<text x="531.6" y="359.2" font-size="7.15" fill="#111">Sulfonamide (33.51%)</text>
<rect x="522.2" y="363.35" width="7.6" height="3.5" fill="#BCDF8C"/>
<text x="531.6" y="367.6" font-size="7.15" fill="#111">Quinolone (30.21%)</text>
<rect x="522.2" y="371.75" width="7.6" height="3.5" fill="#2E8EAE"/>
<text x="531.6" y="376" font-size="7.15" fill="#111">Aminoglycoside (1.00%)</text>
<rect x="522.2" y="380.15" width="7.6" height="3.5" fill="#654A9B"/>
<text x="531.6" y="384.4" font-size="7.15" fill="#111">Beta-lactam (4.71%)</text>
</g>
<g id="pf">
<defs><marker id="ah" markerWidth="5" markerHeight="5" refX="3.8" refY="2.5" orient="auto" markerUnits="userSpaceOnUse"><path d="M0,0.4L4.2,2.5L0,4.6Z" fill="#2A8FF0"/></marker></defs>
<line x1="107.2" y1="483.3" x2="107.2" y2="661.2" stroke="#C8C8C8" stroke-width="0.8" stroke-dasharray="2.5,2.5"/>
<line x1="27.6" y1="560" x2="218.5" y2="560" stroke="#C8C8C8" stroke-width="0.8" stroke-dasharray="2.5,2.5"/>
<circle cx="142.4" cy="537.5" r="2.8" fill="#fff" stroke="#F39B7F" stroke-width="0.6"/>
<circle cx="180.2" cy="535.2" r="2.8" fill="#fff" stroke="#F39B7F" stroke-width="0.6"/>
<circle cx="199" cy="538.4" r="2.8" fill="#fff" stroke="#8491B4" stroke-width="0.6"/>
<circle cx="180.2" cy="543.1" r="2.8" fill="#fff" stroke="#00A087" stroke-width="0.6"/>
<circle cx="209.8" cy="548.4" r="2.8" fill="#fff" stroke="#91D1C2" stroke-width="0.6"/>
<circle cx="166.5" cy="548.5" r="2.8" fill="#fff" stroke="#91D1C2" stroke-width="0.6"/>
<circle cx="159.5" cy="548.9" r="2.8" fill="#fff" stroke="#91D1C2" stroke-width="0.6"/>
<circle cx="169.2" cy="555.6" r="2.8" fill="#fff" stroke="#8491B4" stroke-width="0.6"/>
<circle cx="177.9" cy="556.3" r="2.8" fill="#fff" stroke="#E64B35" stroke-width="0.6"/>
<circle cx="185.8" cy="565.2" r="2.8" fill="#fff" stroke="#8491B4" stroke-width="0.6"/>
<circle cx="127.1" cy="545" r="2.8" fill="#fff" stroke="#B09C85" stroke-width="0.6"/>
<circle cx="112.3" cy="549.8" r="2.8" fill="#fff" stroke="#E64B35" stroke-width="0.6"/>
<circle cx="122.8" cy="582.2" r="2.8" fill="#fff" stroke="#E64B35" stroke-width="0.6"/>
<circle cx="209.3" cy="653" r="2.8" fill="#fff" stroke="#8491B4" stroke-width="0.6"/>
<circle cx="133.3" cy="561.2" r="2.8" fill="#fff" stroke="#E64B35" stroke-width="0.6"/>
<circle cx="36.5" cy="549.2" r="2.8" fill="#fff" stroke="#B09C85" stroke-width="0.6"/>
<circle cx="49.2" cy="559.4" r="2.8" fill="#fff" stroke="#E64B35" stroke-width="0.6"/>
<circle cx="40" cy="563.8" r="2.8" fill="#fff" stroke="#B09C85" stroke-width="0.6"/>
<circle cx="69.6" cy="577.7" r="2.8" fill="#fff" stroke="#E64B35" stroke-width="0.6"/>
<circle cx="78.4" cy="574.7" r="2.8" fill="#fff" stroke="#91D1C2" stroke-width="0.6"/>
<circle cx="91.5" cy="576.9" r="2.8" fill="#fff" stroke="#E64B35" stroke-width="0.6"/>
<circle cx="90" cy="572.3" r="2.8" fill="#fff" stroke="#E64B35" stroke-width="0.6"/>
<circle cx="122.9" cy="582.5" r="2.8" fill="#fff" stroke="#E64B35" stroke-width="0.6"/>
<circle cx="71.8" cy="568.2" r="2.8" fill="#fff" stroke="#E64B35" stroke-width="0.6"/>
<circle cx="66.7" cy="554.3" r="2.8" fill="#fff" stroke="#B09C85" stroke-width="0.6"/>
<circle cx="63.8" cy="559.4" r="2.8" fill="#fff" stroke="#B09C85" stroke-width="0.6"/>
<circle cx="98" cy="552.8" r="2.8" fill="#fff" stroke="#F39B7F" stroke-width="0.6"/>
<circle cx="112.7" cy="549.9" r="2.8" fill="#fff" stroke="#E64B35" stroke-width="0.6"/>
<circle cx="70" cy="556" r="2.8" fill="#fff" stroke="#B09C85" stroke-width="0.6"/>
<circle cx="74" cy="552" r="2.8" fill="#fff" stroke="#B09C85" stroke-width="0.6"/>
<circle cx="80" cy="555" r="2.8" fill="#fff" stroke="#F39B7F" stroke-width="0.6"/>
<circle cx="86" cy="553" r="2.8" fill="#fff" stroke="#B09C85" stroke-width="0.6"/>
<circle cx="95" cy="560" r="2.8" fill="#fff" stroke="#E64B35" stroke-width="0.6"/>
<circle cx="60" cy="556" r="2.8" fill="#fff" stroke="#B09C85" stroke-width="0.6"/>
<circle cx="103" cy="555" r="2.8" fill="#fff" stroke="#8491B4" stroke-width="0.6"/>
<circle cx="77" cy="561" r="2.8" fill="#fff" stroke="#E64B35" stroke-width="0.6"/>
<circle cx="96.16" cy="554.55" r="2.6" fill="none" stroke="#E64B35" stroke-width="0.5"/>
<line x1="120.71" y1="562.9" x2="96.16" y2="554.55" stroke="#2A8FF0" stroke-width="0.75" marker-end="url(#ah)"/>
<circle cx="101.39" cy="555.69" r="2.6" fill="none" stroke="#91D1C2" stroke-width="0.5"/>
<line x1="128.39" y1="553.86" x2="101.39" y2="555.69" stroke="#2A8FF0" stroke-width="0.75" marker-end="url(#ah)"/>
<circle cx="93.8" cy="552.07" r="2.6" fill="none" stroke="#B09C85" stroke-width="0.5"/>
<line x1="103.75" y1="549.83" x2="93.8" y2="552.07" stroke="#2A8FF0" stroke-width="0.75" marker-end="url(#ah)"/>
<circle cx="81.85" cy="552.66" r="2.6" fill="none" stroke="#E64B35" stroke-width="0.5"/>
<line x1="112.73" y1="561.84" x2="81.85" y2="552.66" stroke="#2A8FF0" stroke-width="0.75" marker-end="url(#ah)"/>
<circle cx="96.05" cy="563.82" r="2.6" fill="none" stroke="#F39B7F" stroke-width="0.5"/>
<line x1="117.58" y1="561.37" x2="96.05" y2="563.82" stroke="#2A8FF0" stroke-width="0.75" marker-end="url(#ah)"/>
<circle cx="90.04" cy="556.09" r="2.6" fill="none" stroke="#B09C85" stroke-width="0.5"/>
<line x1="122.6" y1="562.81" x2="90.04" y2="556.09" stroke="#2A8FF0" stroke-width="0.75" marker-end="url(#ah)"/>
<circle cx="70.21" cy="553.73" r="2.6" fill="none" stroke="#E64B35" stroke-width="0.5"/>
<line x1="104.83" y1="551.47" x2="70.21" y2="553.73" stroke="#2A8FF0" stroke-width="0.75" marker-end="url(#ah)"/>
<circle cx="72.4" cy="552.33" r="2.6" fill="none" stroke="#91D1C2" stroke-width="0.5"/>
<line x1="126.59" y1="551.55" x2="72.4" y2="552.33" stroke="#2A8FF0" stroke-width="0.75" marker-end="url(#ah)"/>
<circle cx="101.94" cy="561.05" r="2.6" fill="none" stroke="#91D1C2" stroke-width="0.5"/>
<line x1="111.82" y1="556.93" x2="101.94" y2="561.05" stroke="#2A8FF0" stroke-width="0.75" marker-end="url(#ah)"/>
<circle cx="92.55" cy="557.31" r="2.6" fill="none" stroke="#8491B4" stroke-width="0.5"/>
<line x1="130.41" y1="558.17" x2="92.55" y2="557.31" stroke="#2A8FF0" stroke-width="0.75" marker-end="url(#ah)"/>
<circle cx="77.56" cy="551.66" r="2.6" fill="none" stroke="#8491B4" stroke-width="0.5"/>
<line x1="125.53" y1="554.49" x2="77.56" y2="551.66" stroke="#2A8FF0" stroke-width="0.75" marker-end="url(#ah)"/>
<circle cx="103.33" cy="557.05" r="2.6" fill="none" stroke="#B09C85" stroke-width="0.5"/>
<line x1="112.81" y1="551.67" x2="103.33" y2="557.05" stroke="#2A8FF0" stroke-width="0.75" marker-end="url(#ah)"/>
<circle cx="60.01" cy="552.42" r="2.6" fill="none" stroke="#B09C85" stroke-width="0.5"/>
<line x1="110.88" y1="549.74" x2="60.01" y2="552.42" stroke="#2A8FF0" stroke-width="0.75" marker-end="url(#ah)"/>
<circle cx="63.09" cy="553.33" r="2.6" fill="none" stroke="#E64B35" stroke-width="0.5"/>
<line x1="130.37" y1="557.59" x2="63.09" y2="553.33" stroke="#2A8FF0" stroke-width="0.75" marker-end="url(#ah)"/>
<circle cx="75.29" cy="555.83" r="2.6" fill="none" stroke="#B09C85" stroke-width="0.5"/>
<line x1="104.75" y1="552.53" x2="75.29" y2="555.83" stroke="#2A8FF0" stroke-width="0.75" marker-end="url(#ah)"/>
<circle cx="103.02" cy="557.69" r="2.6" fill="none" stroke="#F39B7F" stroke-width="0.5"/>
<line x1="103.69" y1="555.83" x2="103.02" y2="557.69" stroke="#2A8FF0" stroke-width="0.75" marker-end="url(#ah)"/>
<circle cx="75.08" cy="554.24" r="2.6" fill="none" stroke="#8491B4" stroke-width="0.5"/>
<line x1="102.75" y1="550.43" x2="75.08" y2="554.24" stroke="#2A8FF0" stroke-width="0.75" marker-end="url(#ah)"/>
<circle cx="101.84" cy="558.45" r="2.6" fill="none" stroke="#B09C85" stroke-width="0.5"/>
<line x1="105.17" y1="549.32" x2="101.84" y2="558.45" stroke="#2A8FF0" stroke-width="0.75" marker-end="url(#ah)"/>
<circle cx="93.36" cy="554.77" r="2.6" fill="none" stroke="#8491B4" stroke-width="0.5"/>
<line x1="122.08" y1="561.8" x2="93.36" y2="554.77" stroke="#2A8FF0" stroke-width="0.75" marker-end="url(#ah)"/>
<circle cx="71.49" cy="555.87" r="2.6" fill="none" stroke="#B09C85" stroke-width="0.5"/>
<line x1="127.63" y1="558.75" x2="71.49" y2="555.87" stroke="#2A8FF0" stroke-width="0.75" marker-end="url(#ah)"/>
<circle cx="83.83" cy="558.04" r="2.6" fill="none" stroke="#8491B4" stroke-width="0.5"/>
<line x1="111.38" y1="552.12" x2="83.83" y2="558.04" stroke="#2A8FF0" stroke-width="0.75" marker-end="url(#ah)"/>
<circle cx="103.34" cy="563.64" r="2.6" fill="none" stroke="#B09C85" stroke-width="0.5"/>
<line x1="107.14" y1="560.36" x2="103.34" y2="563.64" stroke="#2A8FF0" stroke-width="0.75" marker-end="url(#ah)"/>
<line x1="125.28" y1="558.62" x2="103.39" y2="555.73" stroke="#2A8FF0" stroke-width="0.9"/>
<line x1="108.16" y1="549.38" x2="96.03" y2="552.63" stroke="#2A8FF0" stroke-width="0.9"/>
<line x1="104.59" y1="558" x2="130.39" y2="554.81" stroke="#2A8FF0" stroke-width="0.9"/>
<line x1="129.67" y1="561.84" x2="130.34" y2="553.74" stroke="#2A8FF0" stroke-width="0.9"/>
<line x1="103.16" y1="551.95" x2="102.28" y2="551.66" stroke="#2A8FF0" stroke-width="0.9"/>
<line x1="118.09" y1="560.7" x2="126.1" y2="555.23" stroke="#2A8FF0" stroke-width="0.9"/>
<line x1="119.16" y1="559.4" x2="98.14" y2="557.59" stroke="#2A8FF0" stroke-width="0.9"/>
<line x1="128.66" y1="559.17" x2="122.76" y2="555.21" stroke="#2A8FF0" stroke-width="0.9"/>
<line x1="101.61" y1="559.26" x2="107.3" y2="559.41" stroke="#2A8FF0" stroke-width="0.9"/>
<line x1="130.95" y1="554.15" x2="109.85" y2="561.31" stroke="#2A8FF0" stroke-width="0.9"/>
<line x1="121.82" y1="551.21" x2="99.7" y2="550.96" stroke="#2A8FF0" stroke-width="0.9"/>
<line x1="128.48" y1="559.48" x2="100.41" y2="559.74" stroke="#2A8FF0" stroke-width="0.9"/>
<line x1="131.27" y1="557.54" x2="107.97" y2="556.13" stroke="#2A8FF0" stroke-width="0.9"/>
<line x1="99.85" y1="549.19" x2="130.92" y2="557.45" stroke="#2A8FF0" stroke-width="0.9"/>
<line x1="116.53" y1="551.91" x2="142.23" y2="537.6" stroke="#2A8FF0" stroke-width="1.1" marker-end="url(#ah)"/>
<line x1="121.11" y1="551.43" x2="180.01" y2="535.25" stroke="#2A8FF0" stroke-width="1.1" marker-end="url(#ah)"/>
<line x1="119.5" y1="553.19" x2="198.8" y2="538.44" stroke="#2A8FF0" stroke-width="1.1" marker-end="url(#ah)"/>
<line x1="112.81" y1="554.04" x2="180" y2="543.13" stroke="#2A8FF0" stroke-width="1.1" marker-end="url(#ah)"/>
<line x1="112.52" y1="553.6" x2="209.6" y2="548.41" stroke="#2A8FF0" stroke-width="1.1" marker-end="url(#ah)"/>
<line x1="112.98" y1="551.54" x2="166.3" y2="548.51" stroke="#2A8FF0" stroke-width="1.1" marker-end="url(#ah)"/>
<line x1="117.94" y1="555.96" x2="159.3" y2="548.93" stroke="#2A8FF0" stroke-width="1.1" marker-end="url(#ah)"/>
<line x1="113.73" y1="552.34" x2="169" y2="555.59" stroke="#2A8FF0" stroke-width="1.1" marker-end="url(#ah)"/>
<line x1="120.78" y1="556.69" x2="177.7" y2="556.3" stroke="#2A8FF0" stroke-width="1.1" marker-end="url(#ah)"/>
<line x1="120.08" y1="553.38" x2="185.6" y2="565.16" stroke="#2A8FF0" stroke-width="1.1" marker-end="url(#ah)"/>
<line x1="121.57" y1="552.47" x2="126.98" y2="545.16" stroke="#2A8FF0" stroke-width="1.1" marker-end="url(#ah)"/>
<line x1="119.45" y1="554.9" x2="112.46" y2="549.92" stroke="#2A8FF0" stroke-width="1.1" marker-end="url(#ah)"/>
<line x1="106.6" y1="553.18" x2="122.7" y2="582.03" stroke="#2A8FF0" stroke-width="1.1" marker-end="url(#ah)"/>
<line x1="130" y1="565" x2="209.17" y2="652.85" stroke="#2A8FF0" stroke-width="1.1" marker-end="url(#ah)"/>
<line x1="114.53" y1="554.49" x2="133.11" y2="561.13" stroke="#2A8FF0" stroke-width="1.1" marker-end="url(#ah)"/>
<line x1="111.5" y1="556.72" x2="36.7" y2="549.22" stroke="#2A8FF0" stroke-width="1.1" marker-end="url(#ah)"/>
<line x1="109.86" y1="553.63" x2="49.4" y2="559.38" stroke="#2A8FF0" stroke-width="1.1" marker-end="url(#ah)"/>
<line x1="101.07" y1="555.06" x2="40.2" y2="563.77" stroke="#2A8FF0" stroke-width="1.1" marker-end="url(#ah)"/>
<line x1="112.25" y1="557.28" x2="69.78" y2="577.61" stroke="#2A8FF0" stroke-width="1.1" marker-end="url(#ah)"/>
<line x1="105.65" y1="558.86" x2="78.57" y2="574.6" stroke="#2A8FF0" stroke-width="1.1" marker-end="url(#ah)"/>
<line x1="108.16" y1="556" x2="91.62" y2="576.74" stroke="#2A8FF0" stroke-width="1.1" marker-end="url(#ah)"/>
<line x1="114.3" y1="559.99" x2="90.18" y2="572.21" stroke="#2A8FF0" stroke-width="1.1" marker-end="url(#ah)"/>
<line x1="108.39" y1="557.74" x2="122.8" y2="582.33" stroke="#2A8FF0" stroke-width="1.1" marker-end="url(#ah)"/>
<line x1="109.45" y1="561.75" x2="72" y2="568.17" stroke="#2A8FF0" stroke-width="1.1" marker-end="url(#ah)"/>
<line x1="113.13" y1="555.88" x2="66.9" y2="554.31" stroke="#2A8FF0" stroke-width="1.1" marker-end="url(#ah)"/>
<line x1="117.64" y1="554.18" x2="64" y2="559.38" stroke="#2A8FF0" stroke-width="1.1" marker-end="url(#ah)"/>
<line x1="107.53" y1="560.57" x2="98.15" y2="552.93" stroke="#2A8FF0" stroke-width="1.1" marker-end="url(#ah)"/>
<line x1="106.74" y1="556.89" x2="112.57" y2="550.05" stroke="#2A8FF0" stroke-width="1.1" marker-end="url(#ah)"/>
<line x1="100.71" y1="559.68" x2="70.2" y2="556.02" stroke="#2A8FF0" stroke-width="1.1" marker-end="url(#ah)"/>
<line x1="113.76" y1="558.73" x2="74.2" y2="552.03" stroke="#2A8FF0" stroke-width="1.1" marker-end="url(#ah)"/>
<line x1="115.76" y1="556.14" x2="80.2" y2="555.01" stroke="#2A8FF0" stroke-width="1.1" marker-end="url(#ah)"/>
<line x1="112.52" y1="558.94" x2="86.2" y2="553.04" stroke="#2A8FF0" stroke-width="1.1" marker-end="url(#ah)"/>
<line x1="110.44" y1="557.56" x2="95.2" y2="559.97" stroke="#2A8FF0" stroke-width="1.1" marker-end="url(#ah)"/>
<line x1="115.12" y1="562.45" x2="60.2" y2="556.02" stroke="#2A8FF0" stroke-width="1.1" marker-end="url(#ah)"/>
<line x1="112.53" y1="558.64" x2="103.19" y2="555.07" stroke="#2A8FF0" stroke-width="1.1" marker-end="url(#ah)"/>
<line x1="101.09" y1="560.01" x2="77.2" y2="560.99" stroke="#2A8FF0" stroke-width="1.1" marker-end="url(#ah)"/>
<circle cx="99.5" cy="568.2" r="2.6" fill="#E64B35"/>
<circle cx="113.2" cy="550.4" r="2.6" fill="#E64B35"/>
<circle cx="118.4" cy="571.6" r="2.6" fill="#E64B35"/>
<circle cx="129.7" cy="573.4" r="2.6" fill="#E64B35"/>
<circle cx="118.4" cy="564.1" r="2.6" fill="#00A087"/>
<circle cx="128.6" cy="564.8" r="2.6" fill="#00A087"/>
<circle cx="121.8" cy="554.5" r="2.6" fill="#3C5488"/>
<circle cx="132" cy="566.5" r="2.6" fill="#3C5488"/>
<circle cx="125" cy="556" r="2.6" fill="#DC0000"/>
<circle cx="116" cy="553" r="2.6" fill="#E64B35"/>
<circle cx="110" cy="558" r="2.6" fill="#7E6148"/>
<circle cx="124" cy="568" r="2.6" fill="#00A087"/>
<circle cx="106" cy="562" r="2.6" fill="#4DBBD5"/>
<circle cx="114" cy="566" r="2.6" fill="#E64B35"/>
<line x1="27.6" y1="520.2" x2="218.5" y2="615.5" stroke="#111" stroke-width="0.7"/>
<line x1="27.6" y1="580.9" x2="218.5" y2="530.5" stroke="#111" stroke-width="0.7"/>
<path d="M27.6 483.3H218.5V661.2H27.6Z" fill="none" stroke="#555" stroke-width="0.9"/>
<line x1="62.5" y1="661.2" x2="62.5" y2="662.7" stroke="#333" stroke-width="0.5"/>
<text x="62.5" y="668.3" font-size="5.3" text-anchor="middle" fill="#222">−0.1</text>
<line x1="107.2" y1="661.2" x2="107.2" y2="662.7" stroke="#333" stroke-width="0.5"/>
<text x="107.2" y="668.3" font-size="5.3" text-anchor="middle" fill="#222">0.0</text>
<line x1="151.9" y1="661.2" x2="151.9" y2="662.7" stroke="#333" stroke-width="0.5"/>
<text x="151.9" y="668.3" font-size="5.3" text-anchor="middle" fill="#222">0.1</text>
<line x1="196.6" y1="661.2" x2="196.6" y2="662.7" stroke="#333" stroke-width="0.5"/>
<text x="196.6" y="668.3" font-size="5.3" text-anchor="middle" fill="#222">0.2</text>
<line x1="26.1" y1="494.2" x2="27.6" y2="494.2" stroke="#333" stroke-width="0.5"/>
<text x="26.2" y="496.1" font-size="5.3" text-anchor="end" fill="#222">0.4</text>
<line x1="26.1" y1="527.1" x2="27.6" y2="527.1" stroke="#333" stroke-width="0.5"/>
<text x="26.2" y="529" font-size="5.3" text-anchor="end" fill="#222">0.2</text>
<line x1="26.1" y1="560" x2="27.6" y2="560" stroke="#333" stroke-width="0.5"/>
<text x="26.2" y="561.9" font-size="5.3" text-anchor="end" fill="#222">0.0</text>
<line x1="26.1" y1="592.9" x2="27.6" y2="592.9" stroke="#333" stroke-width="0.5"/>
<text x="26.2" y="594.8" font-size="5.3" text-anchor="end" fill="#222">−0.2</text>
<line x1="26.1" y1="625.8" x2="27.6" y2="625.8" stroke="#333" stroke-width="0.5"/>
<text x="26.2" y="627.7" font-size="5.3" text-anchor="end" fill="#222">−0.4</text>
<line x1="26.1" y1="658.7" x2="27.6" y2="658.7" stroke="#333" stroke-width="0.5"/>
<text x="26.2" y="660.6" font-size="5.3" text-anchor="end" fill="#222">−0.6</text>
<text x="126.9" y="675.5" font-size="6.3" text-anchor="middle" fill="#222">Dimension 1</text>
<text x="13.2" y="568.3" font-size="6.3" text-anchor="middle" fill="#222" transform="rotate(-90 13.2 568.3)">Dimension 2</text>
<text x="186.3" y="492.4" font-size="4.9" fill="#222">M² = 0.868</text>
<text x="186.3" y="498.6" font-size="4.9" fill="#222">P = 0.001</text>
<text x="35.5" y="592.8" font-size="6.4" fill="#222">Group</text>
<circle cx="34.3" cy="597.7" r="2.2" fill="#E64B35"/>
<text x="38.8" y="599.6" font-size="5.5" fill="#1a1a1a">Rural_SY</text>
<circle cx="34.3" cy="604.03" r="2.2" fill="#4DBBD5"/>
<text x="38.8" y="605.93" font-size="5.5" fill="#1a1a1a">Rural_YJ</text>
<circle cx="34.3" cy="610.36" r="2.2" fill="#00A087"/>
<text x="38.8" y="612.26" font-size="5.5" fill="#1a1a1a">Subadult_female</text>
<circle cx="34.3" cy="616.69" r="2.2" fill="#3C5488"/>
<text x="38.8" y="618.59" font-size="5.5" fill="#1a1a1a">Subadult_male</text>
<circle cx="34.3" cy="623.02" r="2.2" fill="#F39B7F"/>
<text x="38.8" y="624.92" font-size="5.5" fill="#1a1a1a">t1</text>
<circle cx="34.3" cy="629.35" r="2.2" fill="#8491B4"/>
<text x="38.8" y="631.25" font-size="5.5" fill="#1a1a1a">t2</text>
<circle cx="34.3" cy="635.68" r="2.2" fill="#91D1C2"/>
<text x="38.8" y="637.58" font-size="5.5" fill="#1a1a1a">t3</text>
<circle cx="34.3" cy="642.01" r="2.2" fill="#DC0000"/>
<text x="38.8" y="643.91" font-size="5.5" fill="#1a1a1a">t4</text>
<circle cx="34.3" cy="648.34" r="2.2" fill="#7E6148"/>
<text x="38.8" y="650.24" font-size="5.5" fill="#1a1a1a">t5</text>
<circle cx="34.3" cy="654.67" r="2.2" fill="#B09C85"/>
<text x="38.8" y="656.57" font-size="5.5" fill="#1a1a1a">t6</text>
</g>
<g id="pg">
<defs><marker id="ahp" markerWidth="5" markerHeight="5" refX="4" refY="2.5" orient="auto" markerUnits="userSpaceOnUse"><path d="M0,0.6L4.2,2.5L0,4.4" fill="none" stroke="#F0168C" stroke-width="0.6"/></marker><marker id="ahg" markerWidth="5" markerHeight="5" refX="4" refY="2.5" orient="auto" markerUnits="userSpaceOnUse"><path d="M0,0.8L3.8,2.5L0,4.2" fill="none" stroke="#888" stroke-width="0.5"/></marker></defs>
<line x1="313.5" y1="483.3" x2="313.5" y2="661.3" stroke="#555" stroke-width="0.6" stroke-dasharray="0.8,1.4"/>
<line x1="259.6" y1="564.3" x2="435.2" y2="564.3" stroke="#555" stroke-width="0.6" stroke-dasharray="0.8,1.4"/>
<circle cx="412.5" cy="487.6" r="2.3" fill="#7E6148"/>
<circle cx="351.8" cy="510.9" r="2.3" fill="#91D1C2"/>
<circle cx="294.5" cy="513.3" r="2.3" fill="#B09C85"/>
<circle cx="328.8" cy="515" r="2.3" fill="#B09C85"/>
<circle cx="358.6" cy="527" r="2.3" fill="#7E6148"/>
<circle cx="302" cy="528.4" r="2.3" fill="#B09C85"/>
<circle cx="303.1" cy="532.9" r="2.3" fill="#DC0000"/>
<circle cx="266.7" cy="534.6" r="2.3" fill="#91D1C2"/>
<circle cx="277.3" cy="530.8" r="2.3" fill="#91D1C2"/>
<circle cx="271.2" cy="547.6" r="2.3" fill="#91D1C2"/>
<circle cx="287.6" cy="540.8" r="2.3" fill="#8491B4"/>
<circle cx="300.3" cy="543.5" r="2.3" fill="#B09C85"/>
<circle cx="321.9" cy="541.8" r="2.3" fill="#B09C85"/>
<circle cx="329.5" cy="545.9" r="2.3" fill="#7E6148"/>
<circle cx="342.5" cy="544.9" r="2.3" fill="#F39B7F"/>
<circle cx="342.5" cy="547.6" r="2.3" fill="#7E6148"/>
<circle cx="349.4" cy="545.9" r="2.3" fill="#7E6148"/>
<circle cx="318.5" cy="554.5" r="2.3" fill="#DC0000"/>
<circle cx="325.4" cy="557.9" r="2.3" fill="#B09C85"/>
<circle cx="293.5" cy="553.8" r="2.3" fill="#3C5488"/>
<circle cx="315.1" cy="559.6" r="2.3" fill="#00A087"/>
<circle cx="348.4" cy="559" r="2.3" fill="#00A087"/>
<circle cx="373.4" cy="563.1" r="2.3" fill="#4DBBD5"/>
<circle cx="294.2" cy="564.1" r="2.3" fill="#3C5488"/>
<circle cx="340.5" cy="571.6" r="2.3" fill="#4DBBD5"/>
<circle cx="290.4" cy="573.4" r="2.3" fill="#8491B4"/>
<circle cx="296.9" cy="574" r="2.3" fill="#DC0000"/>
<circle cx="302" cy="571.6" r="2.3" fill="#E64B35"/>
<circle cx="309.6" cy="573.4" r="2.3" fill="#E64B35"/>
<circle cx="300.3" cy="575.8" r="2.3" fill="#00A087"/>
<circle cx="303.1" cy="576.8" r="2.3" fill="#7E6148"/>
<circle cx="306.2" cy="574.4" r="2.3" fill="#8491B4"/>
<circle cx="308.2" cy="582.6" r="2.3" fill="#E64B35"/>
<circle cx="312.3" cy="586" r="2.3" fill="#3C5488"/>
<circle cx="298.6" cy="587.8" r="2.3" fill="#8491B4"/>
<circle cx="291.1" cy="586.4" r="2.3" fill="#E64B35"/>
<circle cx="287.6" cy="590.5" r="2.3" fill="#DC0000"/>
<circle cx="295.2" cy="592.2" r="2.3" fill="#F39B7F"/>
<circle cx="291.7" cy="596.7" r="2.3" fill="#F39B7F"/>
<circle cx="288.3" cy="598.1" r="2.3" fill="#91D1C2"/>
<circle cx="277" cy="591.2" r="2.3" fill="#F39B7F"/>
<circle cx="304.8" cy="618.3" r="2.3" fill="#00A087"/>
<circle cx="328.8" cy="639.2" r="2.3" fill="#3C5488"/>
<circle cx="377.5" cy="647.1" r="2.3" fill="#00A087"/>
<circle cx="310" cy="570" r="2.3" fill="#E64B35"/>
<circle cx="306" cy="566" r="2.3" fill="#F39B7F"/>
<circle cx="300" cy="568" r="2.3" fill="#B09C85"/>
<circle cx="304" cy="562" r="2.3" fill="#F39B7F"/>
<circle cx="297" cy="580" r="2.3" fill="#00A087"/>
<circle cx="311" cy="577" r="2.3" fill="#F39B7F"/>
<line x1="313.5" y1="564.3" x2="353.6" y2="553.9" stroke="#888" stroke-width="0.5" marker-end="url(#ahg)"/>
<text x="354" y="551.2" font-size="4.4" text-anchor="middle" fill="#8a8a8a">AMX</text>
<line x1="313.5" y1="564.3" x2="355" y2="578.7" stroke="#888" stroke-width="0.5" marker-end="url(#ahg)"/>
<text x="359" y="575.8" font-size="4.4" text-anchor="middle" fill="#8a8a8a">DOX</text>
<line x1="313.5" y1="564.3" x2="340.2" y2="597.7" stroke="#888" stroke-width="0.5" marker-end="url(#ahg)"/>
<text x="340.5" y="603" font-size="4.4" text-anchor="middle" fill="#8a8a8a">MXF</text>
<line x1="313.5" y1="564.3" x2="297.4" y2="558.2" stroke="#888" stroke-width="0.5" marker-end="url(#ahg)"/>
<text x="302" y="556" font-size="4.4" text-anchor="middle" fill="#8a8a8a">SCP</text>
<line x1="313.5" y1="564.3" x2="305" y2="563" stroke="#888" stroke-width="0.5" marker-end="url(#ahg)"/>
<text x="316.5" y="560.6" font-size="4.4" text-anchor="middle" fill="#8a8a8a">LOM</text>
<line x1="313.5" y1="564.3" x2="302" y2="574" stroke="#888" stroke-width="0.5" marker-end="url(#ahg)"/>
<text x="301.5" y="584.5" font-size="4.4" text-anchor="middle" fill="#8a8a8a">CIP</text>
<line x1="313.5" y1="564.3" x2="303" y2="566.5" stroke="#888" stroke-width="0.5" marker-end="url(#ahg)"/>
<text x="302" y="570" font-size="4.4" text-anchor="middle" fill="#8a8a8a">OFX</text>
<line x1="313.5" y1="564.3" x2="306" y2="563.5" stroke="#888" stroke-width="0.5" marker-end="url(#ahg)"/>
<text x="302.5" y="565" font-size="4.4" text-anchor="middle" fill="#8a8a8a">ENR</text>
<line x1="313.5" y1="564.3" x2="321" y2="565.5" stroke="#888" stroke-width="0.5" marker-end="url(#ahg)"/>
<text x="322" y="566.5" font-size="4.4" text-anchor="middle" fill="#8a8a8a">NDR</text>
<line x1="313.5" y1="564.3" x2="374" y2="584.5" stroke="#F0168C" stroke-width="0.8" marker-end="url(#ahp)"/>
<text x="375" y="592" font-size="6.6" text-anchor="middle" fill="#F0168C">CLR</text>
<line x1="313.5" y1="564.3" x2="352.5" y2="603.5" stroke="#F0168C" stroke-width="0.8" marker-end="url(#ahp)"/>
<text x="353" y="610.3" font-size="6.6" text-anchor="middle" fill="#F0168C">AZI</text>
<line x1="313.5" y1="564.3" x2="365.5" y2="657.4" stroke="#F0168C" stroke-width="0.8" marker-end="url(#ahp)"/>
<text x="374.5" y="656" font-size="6.6" text-anchor="middle" fill="#F0168C">SPD</text>
<path d="M259.6 483.3H435.2V661.3H259.6Z" fill="none" stroke="#555" stroke-width="0.9"/>
<line x1="266.9" y1="661.3" x2="266.9" y2="662.8" stroke="#333" stroke-width="0.5"/>
<text x="266.9" y="668.4" font-size="5.3" text-anchor="middle" fill="#222">−2</text>
<line x1="313.5" y1="661.3" x2="313.5" y2="662.8" stroke="#333" stroke-width="0.5"/>
<text x="313.5" y="668.4" font-size="5.3" text-anchor="middle" fill="#222">0</text>
<line x1="360.1" y1="661.3" x2="360.1" y2="662.8" stroke="#333" stroke-width="0.5"/>
<text x="360.1" y="668.4" font-size="5.3" text-anchor="middle" fill="#222">2</text>
<line x1="406.7" y1="661.3" x2="406.7" y2="662.8" stroke="#333" stroke-width="0.5"/>
<text x="406.7" y="668.4" font-size="5.3" text-anchor="middle" fill="#222">4</text>
<line x1="258.1" y1="517.3" x2="259.6" y2="517.3" stroke="#333" stroke-width="0.5"/>
<text x="258.2" y="519.2" font-size="5.3" text-anchor="end" fill="#222">2</text>
<line x1="258.1" y1="564.3" x2="259.6" y2="564.3" stroke="#333" stroke-width="0.5"/>
<text x="258.2" y="566.2" font-size="5.3" text-anchor="end" fill="#222">0</text>
<line x1="258.1" y1="611.3" x2="259.6" y2="611.3" stroke="#333" stroke-width="0.5"/>
<text x="258.2" y="613.2" font-size="5.3" text-anchor="end" fill="#222">−2</text>
<line x1="258.1" y1="658.3" x2="259.6" y2="658.3" stroke="#333" stroke-width="0.5"/>
<text x="258.2" y="660.2" font-size="5.3" text-anchor="end" fill="#222">−4</text>
<text x="340" y="676" font-size="6.3" text-anchor="middle" fill="#222">RDA1: 24.26%</text>
<text x="249.8" y="564.6" font-size="6.4" text-anchor="middle" fill="#222" transform="rotate(-90 249.8 564.6)">RDA2: 17.16%</text>
<text x="262.4" y="490.9" font-size="5.4" fill="#1a1a1a">Permutation test: P < 0.001</text>
<text x="389" y="594.5" font-size="6.4" fill="#222">Group</text>
<circle cx="388.8" cy="600.4" r="2.2" fill="#E64B35"/>
<text x="393.2" y="602.3" font-size="5.5" fill="#1a1a1a">Rural_SY</text>
<circle cx="388.8" cy="606.73" r="2.2" fill="#4DBBD5"/>
<text x="393.2" y="608.63" font-size="5.5" fill="#1a1a1a">Rural_YJ</text>
<circle cx="388.8" cy="613.06" r="2.2" fill="#00A087"/>
<text x="393.2" y="614.96" font-size="5.5" fill="#1a1a1a">Subadult_female</text>
<circle cx="388.8" cy="619.39" r="2.2" fill="#3C5488"/>
<text x="393.2" y="621.29" font-size="5.5" fill="#1a1a1a">Subadult_male</text>
<circle cx="388.8" cy="625.72" r="2.2" fill="#F39B7F"/>
<text x="393.2" y="627.62" font-size="5.5" fill="#1a1a1a">t1</text>
<circle cx="388.8" cy="632.05" r="2.2" fill="#8491B4"/>
<text x="393.2" y="633.95" font-size="5.5" fill="#1a1a1a">t2</text>
<circle cx="388.8" cy="638.38" r="2.2" fill="#91D1C2"/>
<text x="393.2" y="640.28" font-size="5.5" fill="#1a1a1a">t3</text>
<circle cx="388.8" cy="644.71" r="2.2" fill="#DC0000"/>
<text x="393.2" y="646.61" font-size="5.5" fill="#1a1a1a">t4</text>
<circle cx="388.8" cy="651.04" r="2.2" fill="#7E6148"/>
<text x="393.2" y="652.94" font-size="5.5" fill="#1a1a1a">t5</text>
<circle cx="388.8" cy="657.37" r="2.2" fill="#B09C85"/>
<text x="393.2" y="659.27" font-size="5.5" fill="#1a1a1a">t6</text>
</g>
<g id="ph">
<polygon points="503.3,639.5 666.8,543.8 666.8,608.7 503.3,651" fill="#FAD8D8"/>
<line x1="504.4" y1="647.41" x2="664.68" y2="576.01" stroke="#1A9BB5" stroke-width="0.8"/>
<path d="M502.5 490.4H673.3V650.8H502.5Z" fill="none" stroke="#555" stroke-width="0.9"/>
<circle cx="503.1" cy="497.17" r="2.45" fill="#1A9BB5"/>
<circle cx="664.68" cy="568.99" r="2.45" fill="#1A9BB5"/>
<circle cx="586.71" cy="596.86" r="2.45" fill="#1A9BB5"/>
<circle cx="600.43" cy="618.84" r="2.45" fill="#1A9BB5"/>
<circle cx="534.72" cy="629.56" r="2.45" fill="#1A9BB5"/>
<circle cx="556.38" cy="645.64" r="2.45" fill="#1A9BB5"/>
<circle cx="506.57" cy="641.35" r="2.45" fill="#1A9BB5"/>
<circle cx="510.54" cy="641.89" r="2.45" fill="#1A9BB5"/>
<circle cx="504.4" cy="647.78" r="2.45" fill="#1A9BB5"/>
<circle cx="502.96" cy="649.39" r="2.45" fill="#1A9BB5"/>
<circle cx="508.01" cy="649.39" r="2.45" fill="#1A9BB5"/>
<circle cx="504.4" cy="651" r="2.45" fill="#1A9BB5"/>
<circle cx="505.84" cy="650.46" r="2.45" fill="#1A9BB5"/>
<circle cx="504.04" cy="647.25" r="2.45" fill="#1A9BB5"/>
<circle cx="507.65" cy="649.12" r="2.45" fill="#1A9BB5"/>
<line x1="501" y1="651" x2="502.5" y2="651" stroke="#333" stroke-width="0.5"/>
<text x="498.5" y="652.8" font-size="5" text-anchor="end" fill="#1a1a1a">0.0</text>
<line x1="501.5" y1="637.6" x2="502.5" y2="637.6" stroke="#333" stroke-width="0.4"/>
<line x1="501" y1="624.2" x2="502.5" y2="624.2" stroke="#333" stroke-width="0.5"/>
<text x="498.5" y="626" font-size="5" text-anchor="end" fill="#1a1a1a">0.5</text>
<line x1="501.5" y1="610.8" x2="502.5" y2="610.8" stroke="#333" stroke-width="0.4"/>
<line x1="501" y1="597.4" x2="502.5" y2="597.4" stroke="#333" stroke-width="0.5"/>
<text x="498.5" y="599.2" font-size="5" text-anchor="end" fill="#1a1a1a">1.0</text>
<line x1="501.5" y1="584" x2="502.5" y2="584" stroke="#333" stroke-width="0.4"/>
<line x1="501" y1="570.6" x2="502.5" y2="570.6" stroke="#333" stroke-width="0.5"/>
<text x="498.5" y="572.4" font-size="5" text-anchor="end" fill="#1a1a1a">1.5</text>
<line x1="501.5" y1="557.2" x2="502.5" y2="557.2" stroke="#333" stroke-width="0.4"/>
<line x1="501" y1="543.8" x2="502.5" y2="543.8" stroke="#333" stroke-width="0.5"/>
<text x="498.5" y="545.6" font-size="5" text-anchor="end" fill="#1a1a1a">2.0</text>
<line x1="501.5" y1="530.4" x2="502.5" y2="530.4" stroke="#333" stroke-width="0.4"/>
<line x1="501" y1="517" x2="502.5" y2="517" stroke="#333" stroke-width="0.5"/>
<text x="498.5" y="518.8" font-size="5" text-anchor="end" fill="#1a1a1a">2.5</text>
<line x1="501.5" y1="503.6" x2="502.5" y2="503.6" stroke="#333" stroke-width="0.4"/>
<line x1="501" y1="490.2" x2="502.5" y2="490.2" stroke="#333" stroke-width="0.5"/>
<text x="498.5" y="492" font-size="5" text-anchor="end" fill="#1a1a1a">3.0</text>
<line x1="504.4" y1="650.8" x2="504.4" y2="652.3" stroke="#333" stroke-width="0.5"/>
<text x="504.4" y="662" font-size="5.5" text-anchor="middle" fill="#1a1a1a">0</text>
<line x1="540.5" y1="650.8" x2="540.5" y2="652.3" stroke="#333" stroke-width="0.5"/>
<text x="540.5" y="662" font-size="5.5" text-anchor="middle" fill="#1a1a1a">500</text>
<line x1="576.6" y1="650.8" x2="576.6" y2="652.3" stroke="#333" stroke-width="0.5"/>
<text x="576.6" y="662" font-size="5.5" text-anchor="middle" fill="#1a1a1a">1000</text>
<line x1="612.7" y1="650.8" x2="612.7" y2="652.3" stroke="#333" stroke-width="0.5"/>
<text x="612.7" y="662" font-size="5.5" text-anchor="middle" fill="#1a1a1a">1500</text>
<line x1="648.8" y1="650.8" x2="648.8" y2="652.3" stroke="#333" stroke-width="0.5"/>
<text x="648.8" y="662" font-size="5.5" text-anchor="middle" fill="#1a1a1a">2000</text>
<line x1="522.45" y1="650.8" x2="522.45" y2="651.8" stroke="#333" stroke-width="0.4"/>
<line x1="558.55" y1="650.8" x2="558.55" y2="651.8" stroke="#333" stroke-width="0.4"/>
<line x1="594.65" y1="650.8" x2="594.65" y2="651.8" stroke="#333" stroke-width="0.4"/>
<line x1="630.75" y1="650.8" x2="630.75" y2="651.8" stroke="#333" stroke-width="0.4"/>
<line x1="666.85" y1="650.8" x2="666.85" y2="651.8" stroke="#333" stroke-width="0.4"/>
<text x="579.6" y="676.3" font-size="6.2" text-anchor="middle" fill="#1a1a1a">Aminoglycoside concentration (ng/g)</text>
<text x="472.8" y="570.3" font-size="7" text-anchor="middle" fill="#222" transform="rotate(-90 472.8 570.3)">Aminoglycoside ARG abundance</text>
<text x="480" y="570.3" font-size="7" text-anchor="middle" fill="#222" transform="rotate(-90 480 570.3)">(copies/cell)</text>
<text x="512.9" y="500.2" font-size="6.2" fill="#222">Y = 0.0006x+0.067</text>
<text x="512.9" y="507.3" font-size="6.2" fill="#222">R² = 0.256</text>
<text x="512.9" y="514.4" font-size="6.2" fill="#222">P < 0.001</text>
</g>
<text x="-0.4" y="9.8" font-size="9.6" font-weight="bold">(a)</text><text x="221.5" y="9.8" font-size="9.6" font-weight="bold">(b)</text><text x="463" y="9.8" font-size="9.6" font-weight="bold">(c)</text><text x="-0.4" y="246.4" font-size="9.6" font-weight="bold">(d)</text><text x="463" y="246.8" font-size="9.6" font-weight="bold">(e)</text><text x="-0.4" y="486.5" font-size="9.6" font-weight="bold">(f)</text><text x="236.5" y="486.7" font-size="9.6" font-weight="bold">(g)</text><text x="463" y="486.7" font-size="9.6" font-weight="bold">(h)</text>
</svg>
</body></html>
